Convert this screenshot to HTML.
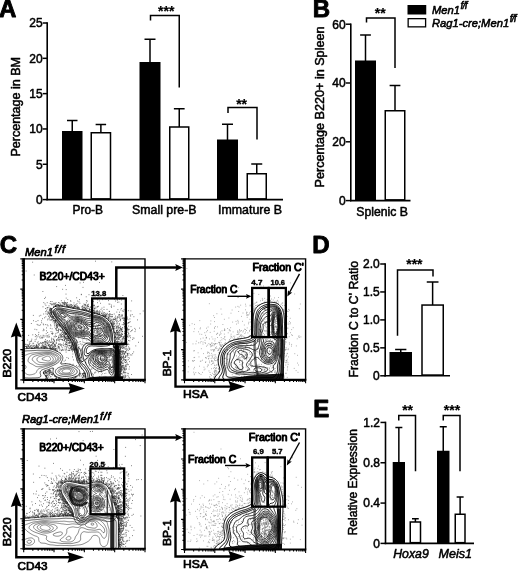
<!DOCTYPE html>
<html><head><meta charset="utf-8"><title>Figure</title>
<style>
html,body{margin:0;padding:0;background:#fff;}
body{width:520px;height:572px;overflow:hidden;}
svg{display:block;}
svg text{font-family:"Liberation Sans", Arial, Helvetica, sans-serif;fill:#000;stroke:#000;stroke-width:0.5px;stroke-linejoin:round;}
</style></head><body>
<svg width="520" height="572" viewBox="0 0 520 572">
<rect width="520" height="572" fill="#fff"/>
<g id="flow">
<clipPath id="clip1"><rect x="23.7" y="258.9" width="121.3" height="121.0"/></clipPath>
<g clip-path="url(#clip1)">
<path d="M92.7 312.2h0M49 316h0M69.9 341.2h0M53 304.6h0M102 308.1h0M121.1 344.4h0M111.5 324.3h0M112 314.6h0M123.2 311.4h0M71 347h0M116.2 339.5h0M125.5 321.7h0M44.7 373.1h0M76.1 305.1h0M114.2 326.3h0M59.9 329.2h0M61.2 335.2h0M52.3 341.8h0M121.3 308.5h0M117.5 332.5h0M131.6 374.5h0M83.5 375.6h0M64.3 336.2h0M83.6 375.9h0M99.2 314.5h0M117.5 350.1h0M91.5 311.4h0M124.6 353.6h0M120.3 363.9h0M95.9 308.1h0M61.1 305.3h0M120.2 337.4h0M70.2 339.9h0M35.4 347.8h0M126.5 350.6h0M66.2 298.1h0M55.6 305.1h0M50.1 348.7h0M86.3 302.8h0M67.8 306.5h0M84.9 375.6h0M52.4 348.2h0M60.7 378.6h0M43.7 372h0M47.2 324.8h0M123.8 324.7h0M68.6 339.2h0M67.5 302.5h0M119.9 345.3h0M114.7 346.4h0M60.5 305.3h0M31.3 323.5h0M44.8 346.5h0M53.5 346.2h0M74.2 307.4h0M89.5 309.9h0M120.9 369.8h0M61 378.7h0M117.9 345.2h0M116.4 330.8h0M85.9 308.4h0M50.8 370.6h0M65.8 333.8h0M119.5 378.5h0M62.3 303h0M46.5 372.9h0M67.1 343h0M120.7 349.2h0M46.8 375.3h0M84.8 307.3h0M54.4 375.9h0M43.1 335.3h0M61.5 336.9h0M45.6 297.3h0M45.2 347.7h0M116.3 330.4h0M123.7 347.5h0M49.8 371h0M117.1 346.5h0M108.2 320h0M130.7 354.9h0M51.2 344.5h0M125.4 360h0M49.3 318.9h0M84.3 376.8h0M79.7 308.4h0M115.7 334.9h0M45.6 342.8h0M46.4 377.6h0M78.7 306.9h0M127.2 349.7h0M65.4 360.2h0M62.7 336.6h0M124.8 333.7h0M59.6 325.3h0M118.1 347.8h0M108.8 317.5h0M102.7 315.1h0M103.6 315.7h0M68.6 337.9h0M72.5 344.6h0M58.9 306h0M125.3 349.2h0M66.2 305.5h0M53.2 318.4h0M58.9 329.5h0M49 312.9h0M88.8 311.5h0M73.8 308.1h0M74.5 306.2h0M52.7 317.3h0M47.4 375.4h0M62.7 347.8h0M119.6 332.8h0M82.9 373.8h0M60.1 336.2h0M125 318.9h0M121.5 373.5h0M112.8 322h0M37.9 347.4h0M64.4 332.1h0M117.7 348.9h0M31.3 341h0M42.2 347.1h0M30.1 346.7h0M88.3 306.4h0M121.5 361.9h0M97.6 302.7h0M73.9 348.7h0M72.6 305.4h0M82.6 373.5h0M46.9 341.2h0M45.1 347.9h0M50.4 372.1h0M110 319.9h0M89.5 309.6h0M74 377.1h0M112.2 325.5h0M29.6 347.1h0M116.3 347.7h0M115.7 340.9h0M50.9 314.2h0M120.9 309.9h0M25.7 344.3h0M79 307.9h0M50.4 313.3h0M119.7 349.8h0M78.5 308.8h0M116.8 312.1h0M36.6 347h0M131 326.6h0M121.1 350.5h0M53.1 343.4h0M57.1 326.3h0M38.2 341.8h0M49.4 373.1h0M61.5 333.2h0M109.3 311.5h0M77.8 362.6h0M68.4 337.7h0M97.2 310.3h0M125.7 325.5h0M85.7 376.6h0M70.5 339.7h0M50.8 342.3h0M34.9 329.3h0M113.8 347.3h0M126.2 338.4h0M58.4 337.6h0M65.1 337.9h0M59.1 377.6h0M68.3 350.4h0M122.2 373.2h0M90.5 311.7h0M111.3 323.5h0M56.5 330.6h0M116.9 344h0M50.9 315.7h0M99.7 314.4h0M121 346.3h0M114.2 330.7h0M120.7 372.6h0M73.2 364.3h0M38 347.5h0M49.1 370h0M121.7 330.5h0M50.4 348.7h0M71.1 342.5h0M101.3 313.1h0M114.4 319.5h0M114.8 342.7h0M28.7 335.4h0M39.2 325.4h0M88.7 310.8h0M109.1 316.5h0M121.5 370.8h0M80.3 374.3h0M118.9 328.4h0M39.3 316h0M33.9 345.3h0M71.7 346.5h0M125.2 357.5h0M119.2 345.9h0M28.1 347h0M58.4 378.1h0M56.7 377.1h0M89.7 309.6h0M122 351.8h0M46.1 346.6h0M126.9 337.8h0M73 349.7h0M125.4 360.4h0M103.7 315.3h0M60.6 329.8h0M122.7 331.7h0M63.8 332.6h0M43.1 345.5h0M90.1 312.2h0M125.9 372.7h0M50.9 308.6h0M47.1 335.6h0M51.4 309.5h0M89 311.7h0M41.5 347.6h0M115.3 325.8h0M74.7 307.8h0M124.5 342.3h0M84.1 376.2h0M27.7 340.1h0M55.5 319.8h0M122 345.3h0M118.2 334.1h0M68.5 306.7h0M113.9 319.7h0M77 359.7h0M117 327.7h0M76.8 360.8h0M120.7 336.2h0M79.4 309.2h0M51.5 348.8h0M56.8 350.4h0M46.8 344h0M45.1 371.8h0M47.5 378.4h0M47.3 314.6h0M43.7 324.8h0M52.1 319.8h0M53.7 342.7h0M88.1 306h0M124.2 343.2h0M47.7 332.5h0M56.9 304.4h0M53 319h0M118.8 336.6h0M116.1 345.8h0M123.4 345.7h0M71.3 346.1h0M49.4 317.4h0M45.5 346.3h0M73.9 304.9h0M51.3 348.7h0M45.8 375.5h0M121.4 359.3h0M125.9 343.1h0M45.1 371.1h0M29.2 347.3h0M43.2 347.2h0M93.5 301.4h0M128.5 340.5h0M58.4 331.4h0M135 331.6h0M93.7 312.3h0M116.5 332h0M62.4 329.6h0M88.9 308.5h0M90 310.7h0M123.8 356.8h0M114.9 328h0M114.6 342h0M83.8 377.6h0M64.2 332.9h0M121.3 333.3h0M121.5 369.7h0M124 339.5h0M29.9 343.4h0M133.9 316.7h0M49.2 370.9h0M129.1 369.1h0M116.5 321.7h0M90.4 311.8h0M86 309.6h0M115.5 346.3h0M73 307.3h0M120.3 348.6h0M68.6 338.5h0M56.6 325.5h0M117.1 318h0M47.3 347.3h0M124.1 359.6h0M45.8 341.9h0M109.8 313.6h0M75.1 305.3h0M127.7 335h0M122.1 354.7h0M56.2 320.6h0M101.4 313.4h0M83.3 375.7h0M64.3 340.8h0M49 344.7h0M52.7 375h0M117.8 323.8h0M115 340.7h0M119.9 320.7h0M105.3 315.9h0M123.3 347h0M117.2 322.7h0M122.8 343.2h0M56.2 342.1h0M60.7 330.4h0M72.3 377.7h0M119.4 343.9h0M26.6 347h0M51 303.5h0M62.9 329.8h0M76.1 306.7h0M118 332.8h0M51.4 308.8h0M94.9 311.9h0M72.2 346.8h0M101.1 315.2h0M58.6 305.1h0M119.7 374.8h0M120.5 319.4h0M119.4 299.4h0M94.1 312.5h0M51 348.5h0M66 333.2h0M113.5 328.3h0M44.3 347.4h0M52.6 368.9h0M124.9 321.6h0M79 301.8h0M92.8 310.7h0M81.6 368.6h0M111.8 323.1h0M35.1 339.8h0M31.3 345.7h0M69.3 342.5h0M31.8 339.2h0M118.6 350.6h0M123 356.9h0M94.5 310.1h0M73.6 359.9h0M47.7 342.4h0M114.6 332.5h0M73.4 347.4h0M73.5 345.8h0M85.6 308.5h0M120.6 364.8h0M35.1 341.5h0M62.5 328.3h0M121.4 367.2h0M120 345.8h0M114.7 331.7h0M68.7 340.7h0M52.5 317.4h0M35.6 346.2h0M55.3 375.9h0M53.3 343.9h0M60.7 335h0M115.6 333.8h0M113.2 324.2h0M62.5 332.2h0M69.6 342.8h0M68.2 342.6h0M114.1 344.1h0M55.6 321.9h0M49 305.8h0M39.5 337h0M65.5 333.7h0M93.1 310.5h0M140.1 313.8h0M26 344.4h0M94.6 312h0M58.5 336.1h0M51 372.5h0M60.5 334.2h0M41.5 320.8h0M120.2 329.8h0M49.3 309.8h0M115.7 337.2h0M120 357.9h0M83.1 375.9h0M41.9 345.8h0M120.7 377.3h0M70.1 339.6h0M124 373.2h0M43.7 314h0M52.8 373h0M117.1 318.9h0M123.1 318h0M46.1 347.6h0M60.9 326.6h0M125.7 369.1h0M57.5 326.7h0M123.8 345.8h0M27.8 344.6h0M122.9 377.4h0M120.4 326.4h0M71.2 305.3h0M119 316.8h0M63.6 338.1h0M70.5 342.4h0M118.9 335h0M124.5 377.8h0M118.9 302.1h0M45.8 316.8h0M114.3 321.6h0M66 346.5h0M121.6 359.4h0M119.9 347.8h0M53 316.6h0M104.9 315.1h0M41.5 347.7h0M122.6 369h0M111.4 307.3h0M92.4 308h0M116.9 344.5h0M61.4 346.8h0M117.9 332.2h0M50.5 315.9h0M122 362h0M79.9 303.3h0M59.7 344.2h0M55.3 335.1h0M116.7 327.7h0M127.5 317.1h0M53.4 373.6h0M32.1 346.8h0M47.6 371.5h0M119.4 330.7h0M128.6 346.9h0M121.6 342.6h0M62 332.2h0M123.4 371.6h0M70.3 307.5h0M118.2 338.2h0M108.8 314.9h0M112.5 316.4h0M70 304.3h0M58.8 344.5h0M64.4 333h0M65.8 338.1h0M126.8 327.1h0M118.7 350.9h0M83.6 375.3h0M73.4 378.4h0M77.7 301h0M31.7 348.1h0M111.5 323.5h0M125.8 348.1h0M65.6 343.7h0M52.1 344.5h0M117.6 337.3h0M92.9 311.2h0M43 306.8h0M48.4 376h0M41.6 347.1h0M50.4 347.7h0M49 313.2h0M92.8 307h0M84.1 373.8h0M81.6 306.9h0M115.1 337.6h0M82.8 308.5h0M45.7 346.8h0M114.9 344.9h0M66.5 348.9h0M38.9 344.8h0M59.7 339.5h0M116.7 346h0M35.6 334.6h0M115.8 332.7h0M52.3 345.6h0M49.5 370.5h0M122.1 357.4h0M67.8 305.4h0M91.3 312h0M64.5 304.6h0M64.5 335.6h0M50 312h0M115.8 345.9h0M128 319.7h0M121.4 335.9h0M94.8 312.8h0M122.5 342.1h0M63.2 345.7h0M58 325.4h0M115.6 316.1h0M59.9 335.2h0M120.6 370h0M67.7 306.5h0M38 320.6h0M101 309.4h0M122 340h0M32.9 343.3h0M124.5 353.9h0M72.1 342.7h0M118.7 346.5h0M82.2 309.8h0M109.6 316.8h0M64.7 334h0M142.5 336.3h0M120.1 316.9h0M52.8 349h0M75.1 377.6h0M113.3 325.6h0M63 329.9h0M84.8 373.8h0M63.1 306.2h0M32.1 345.2h0M45.6 344.6h0M59.7 303h0M121.4 368.6h0M54.7 349.5h0M64.2 340.7h0M117.2 330.5h0M126.4 325.5h0M70.4 339.8h0M119.5 314.7h0M104.2 316.4h0M82.8 377.6h0M69.9 306.7h0M121.3 304h0M79 366h0M67.1 305.5h0M127.6 336.8h0M74.3 378h0M54.5 344.9h0M53.9 339.3h0M120.8 357.9h0M57.1 327.1h0M125 369h0M84.9 373.5h0M117.1 349.3h0M65.8 341.5h0M125.6 346.3h0M124.3 318.6h0M104.1 314.7h0M50.5 312.7h0M53.7 348.7h0M63.5 334.1h0M68.4 306.1h0M65.5 338.4h0M51.4 371.9h0M67.3 338.4h0M43.1 343.9h0M71.6 345.6h0M35.3 336.6h0M105.9 299.3h0M79.7 367h0M64.2 336.6h0M55.6 348.6h0M118.9 344.5h0M97.7 313.3h0M58.5 329.9h0M118.4 327.7h0M62.4 339.5h0M130.7 316.1h0M119.9 318.4h0M125.8 356.8h0M50.4 309.9h0M117.3 349.2h0M72.5 343.4h0M109.4 318.9h0M72.8 344.4h0M77.5 305.9h0M34.9 346.4h0M53.8 320.4h0M96.6 313.4h0M119.2 314.7h0M58.1 339.7h0M70.3 347.6h0M92.5 300.9h0M43 342.4h0M79.8 375.3h0M67.6 336.9h0M125.7 336.7h0M45.4 311.7h0M62.2 305.1h0M66 334.9h0M57.5 330.6h0M66.9 306.8h0M84.9 373.2h0M40.8 342.6h0M47.9 313.7h0M47.7 319.9h0M56 376.5h0M55.8 320.6h0M82.2 309.3h0M125 375h0M126.3 333.9h0M112.7 298h0M63.1 331.4h0M44.7 346.9h0M57.9 338.5h0M124.9 352h0M58.2 332.5h0M111.6 323.4h0M99.8 312.4h0M74 302.9h0M66.7 341.9h0M120.7 375h0M127.9 375.4h0M120.6 376h0M98 311.9h0M71.9 349.7h0M127.5 353.8h0M113.3 327.1h0M48.9 307.6h0M53.6 339.4h0M120.4 347.4h0M66.1 337.2h0M49.4 346.1h0M76.7 297.8h0M126.2 324.9h0M52.3 304h0M57.5 324.4h0M71.2 378.4h0M114 323.9h0M112.3 325.1h0M62.6 302.9h0M64.4 305.2h0M82.3 374.6h0M69.3 340.3h0M126.4 361.4h0M117.4 346.5h0M67.7 336.6h0M54.6 375.8h0M123.9 351.6h0M56.6 339.8h0M64 304.1h0M62.9 349.8h0M77 303.6h0M117.2 320.7h0M76.2 376.4h0M121 367.5h0M125.9 362.5h0M35.9 347.7h0M41.9 338.1h0M54.9 322.3h0M121.4 300h0M67 339.1h0M30.4 345.7h0M117.6 347.1h0M120.4 377h0M56 302.6h0M70.9 301.2h0M68.7 337.2h0M124.9 324h0M110.8 321.3h0M56.5 327.8h0M66.7 347.6h0M45.4 339.6h0M118.9 351.6h0M53.2 348.7h0M97.1 312.2h0M128.9 344.5h0M116.1 344.5h0M51.6 339.4h0M59.3 341h0M60 325.4h0M57.3 304.7h0M119.6 343.4h0M72.4 345.7h0M73.4 308.2h0M66.8 340.7h0M119.6 334h0M126.9 318.6h0M56 376.8h0M129.2 329.4h0M120.5 375.7h0M58.9 304.6h0M71.3 306.6h0M61.3 300.7h0M84 309.9h0M128.2 329.4h0M102.5 299.6h0M123 362.8h0M96.1 312.3h0M58.7 324.5h0M111.7 322.9h0M55.3 306.1h0M57.6 351.4h0M54.4 375.1h0M53.5 342.9h0M50.4 311.9h0M53.6 303.3h0M122.3 377.9h0M139.4 328.1h0M122.5 327.7h0M44.6 348.2h0M122.3 339.9h0M134.8 328.4h0M85.7 377h0M122.2 345.7h0M73.8 306.9h0M128.3 373.7h0M126 352h0M124.3 354.6h0M54.5 320.5h0M62.2 328.3h0M118.6 315h0M119.4 324.8h0M91.6 311.5h0M55.5 328.5h0M59.7 337.8h0M65.9 339.1h0M121.8 363.8h0M69 338.8h0M49.2 372.4h0M69.2 305.5h0M120.3 319.6h0M130.2 321.7h0M97.6 306.9h0M27 345.2h0M46 373.1h0M66.9 357.6h0M114.5 344.1h0M43.6 347.8h0M60.1 343.9h0M61.2 350.7h0M73.2 348.7h0M44.4 346.4h0M97.6 299.8h0M129.8 349h0M36.9 347.2h0M46.3 378.3h0M32.5 348.5h0M123.1 336.5h0M65.4 337.7h0M50.9 308.4h0M50.8 373.9h0M58.5 305h0M125.4 377.2h0M93.9 310.5h0M51.4 333.6h0M116 335.8h0M121 335.7h0M46.2 333.7h0M123.5 337.3h0M51 316.7h0M86.8 306.8h0M45.2 347.6h0M71.6 306.9h0M125.8 356.2h0M129 353.4h0M122.5 365.8h0M49.3 369.6h0M124.2 347.5h0M118.2 321.5h0M109.2 314.6h0M47.2 302.7h0M121.3 328.4h0M110.8 316.6h0M84.5 310.4h0M119.8 335.1h0M116.7 338.4h0M120 337.4h0M67 336.4h0M50.1 320.2h0M56.4 343h0M121.8 356.1h0M67.3 305.4h0M45 341.2h0M69.5 350.5h0M43.6 373.4h0M116.4 331.1h0M88 311.1h0M47.9 371.4h0M113.7 326.5h0M120.1 351.2h0M77.6 308.6h0M122.6 346.5h0M96 307h0M120.2 351.1h0M51.2 312.5h0M98 312.1h0M116.5 341.6h0M119 317.4h0M121.2 369.7h0M92 311.5h0M120.5 371.6h0M97.7 306.7h0M40.4 324.8h0M119.8 352.3h0M120.9 347.1h0M65 334.7h0M46.1 372.1h0M68.8 343.1h0M128.9 333.9h0M125.7 360.3h0M72.6 344.5h0M37.1 345.8h0M133 337.9h0M122.7 354.1h0M115.2 343.3h0M56.7 323.2h0M99 296.5h0M70.6 348.4h0M96.8 310.9h0M74.5 305.5h0M82.9 309.3h0M54.9 323.9h0M117.9 309.6h0M116.5 346h0M74 349.6h0M54.8 327h0M56.2 325.6h0M46.9 373.2h0M93.1 305.5h0M65 306.6h0M116.5 347.2h0M113.1 328.3h0M118.2 335.1h0M46.1 375.3h0M78.6 307.6h0M50.3 315.8h0M49.5 340.7h0M98.4 306.3h0M123 358.6h0M82.6 309h0M122 341.5h0M114.7 347.8h0M124.2 368.8h0M115.3 347.6h0M121.9 366.4h0M60.9 304.9h0M124.7 370h0M68.8 337.1h0M50.1 309.8h0M33 348.3h0M46.3 372.7h0M105.2 315.1h0M56.7 328.1h0M106.5 314.7h0M108.6 318.5h0M52.5 316.8h0M117 346h0M84.4 304.9h0M143.2 311h0M107 318h0M123.4 372.5h0M51 312h0M128.3 376.9h0M117.4 330.8h0M72.6 346.7h0M123.3 371h0M45 303.9h0M83.7 309.5h0M40.7 343.2h0M90.5 307h0M50.6 324.8h0M114.6 299.3h0M122.8 337.1h0M45.4 375.6h0M48 312.6h0M121.4 347.1h0M63.3 333.3h0M129.6 322.3h0M74.1 348.7h0M123 369.7h0M60.2 353h0M55.6 320.5h0M67.2 346.3h0M105.9 317.8h0M120.6 327.9h0M49 370.7h0M54.8 344.3h0M72.6 350.1h0M44.9 345.9h0M48.3 345.6h0M49.7 375.4h0M53.3 318.6h0M36.2 347.4h0M122.1 329.5h0M119.2 349.6h0M117.4 334.9h0M44 337h0M108.5 300.6h0M50.4 345.5h0M77.1 306.9h0M58.5 302.5h0M63.8 350.2h0M42.8 337.1h0M36.4 335.6h0M120.6 361.7h0M126.8 345.5h0M121.9 331.6h0M55.9 349.4h0M45.1 343.6h0M83.4 376.2h0M51.3 313.4h0M67.6 340.9h0M28.7 348.3h0M51.3 348.5h0M57.2 305.8h0M116.5 326.9h0M39 348.1h0M121.7 347.7h0M45.8 347.1h0M119.6 312.2h0M79.9 376.7h0M114.8 328.8h0M64.9 338.6h0M104 307.2h0M124.2 340.6h0M64 336.2h0M107.7 318.4h0M129.4 366.8h0M124.1 369h0M48.7 345.9h0M113.8 328.5h0M69.3 345.6h0M72.6 348.4h0M43.6 372.3h0M72.2 342.6h0M131.8 355h0M31.3 341h0M71.6 346.7h0M118.8 339h0M118.8 327.7h0M79.6 373.9h0M58.9 326.1h0M65.5 333.8h0M115.7 347.6h0M48 325.8h0M117.5 329.1h0M123.6 367.9h0M88.4 304.3h0M44.2 373.7h0M120.3 330h0M125 317.7h0M94.9 308.7h0M118.9 352.4h0M114 324h0M122.9 352.9h0M122.8 360.4h0M59.8 334.1h0M66.2 333.6h0M57.9 304.4h0M127.6 328h0M124.4 369.2h0M125.1 318.3h0M87.4 308.7h0M39.3 343.6h0M82.8 307h0M76.5 307.5h0M108 315h0M120.5 357.3h0M120.8 343h0M122.4 334.5h0M103.1 315.6h0M43.5 329.2h0M117.9 333.9h0M112 323.2h0M87.3 301.1h0M73 307.3h0M60.3 345.5h0M121.3 374h0M119.6 352.4h0M119.4 337.4h0M66.8 338.3h0M50.5 310.1h0M124.9 362.1h0M122.1 318.6h0M49 371.2h0M115.9 344.1h0M43.2 324h0M126.4 343.2h0M36.4 345h0M115.8 318.4h0M56 329.7h0M55.8 346.2h0M117.5 339.9h0M120.2 355.1h0M92.3 305.7h0M125.4 339h0M53.1 348.3h0M123.8 320.1h0M126 315.4h0M103.8 313.9h0M46.6 376.5h0M54.1 304h0M43.8 342.7h0M85.1 377.1h0M49.5 348.1h0M54.1 336.7h0M120.8 353.9h0M116.1 339.3h0M82.2 377.7h0M103.6 313h0M125.4 352.5h0M61.6 345.2h0M47.5 377.9h0M123.9 358.6h0M123.9 324.7h0M119.4 344.5h0M132.5 330h0M64.9 302.9h0M102.6 315.4h0M50.4 308.2h0M125.8 333.1h0M123.8 342.3h0M50.7 301.5h0M120.5 374.1h0M30.3 341.6h0M121 336.9h0M119 346.2h0M120.6 348.6h0M60.9 326.6h0M51.4 314.5h0M116.9 333.1h0M55.7 376.3h0M108.7 317.5h0M29.3 342h0M124.7 345.9h0M51.1 314.7h0M119.1 353.8h0M117.7 348.4h0M86.2 296.8h0M69.2 338.7h0M58 340.3h0M43.6 346.3h0M117.7 338.7h0M126 353.2h0M125.6 335.4h0M117.7 345.9h0M57.2 332.8h0M42.9 347.9h0M70.6 345.4h0M120.1 368.4h0M127.2 330.8h0M115.9 319.4h0M121.3 368h0M125 326.6h0M121.9 370.4h0M127 362.9h0M120.7 331.9h0M58.7 348h0M114.9 343.6h0M55.4 320.6h0M66.9 340.4h0M128.2 350.6h0M119.9 315.1h0M44.6 348h0M85.1 304.8h0M57.8 345.9h0M112.1 314.5h0M45.9 375h0M105.7 316.2h0M44.5 317.8h0M119.9 343.8h0M120 335.5h0M98.5 313.9h0M69.6 342h0M121.9 351.6h0M66 294.1h0M128.2 330h0M49.9 314.7h0M51.4 317.4h0M128 332.1h0M115.6 343.6h0M116.6 323.9h0M105.7 316.2h0M121.8 362.2h0M124.1 366.2h0M114 322.8h0M51 331.6h0M44.1 330h0M42.3 344.6h0M65.4 350.1h0M122.4 331.3h0M127.4 353.8h0M63.3 330.4h0M108.4 320.3h0M55 322.2h0M90.2 312.1h0M113.1 326.3h0M68.5 306.6h0M117.5 299.9h0M122.4 353.3h0M77.2 376.6h0M50 346.4h0M61.1 330.3h0M72.8 308.2h0M126.5 348.9h0M119.4 349.9h0M124.6 372.1h0M72.4 344.2h0M69.5 345.8h0M116.4 332.1h0M92.2 303.6h0M78.1 366.6h0M45.8 372.1h0M52.8 373.3h0M126.2 364.8h0M67.9 338.1h0M66.4 344.5h0M52.5 334h0M121.9 333.4h0M123.5 365.7h0M51.7 345.4h0M105.2 313.5h0M103.6 316.2h0M72 344.5h0M71.9 348.7h0M125.1 323.6h0M54.1 341.7h0M67.7 304.1h0M119.6 344.8h0M45.5 341.8h0M65.2 344.9h0M50.5 370.4h0M57.1 324.9h0M113.6 344.8h0M118.9 329.9h0M114 323.5h0M71.2 346.4h0M117.3 316.7h0M52 317.9h0M51.4 374.5h0M28.8 346.4h0M49.2 344.3h0M85.2 374h0M49.6 313.3h0M55.6 303.5h0M59.3 378h0M120.6 320.7h0M120.4 357.2h0M55.2 344.4h0M47.1 307.7h0M84.2 308.3h0M46.6 330.8h0M121.4 378h0M115.5 320.1h0M53 321.9h0M126.8 365h0M119 332.5h0M30 347.6h0M65.3 332.9h0M56.9 339.6h0M114.4 319.1h0M46.2 347.8h0M119.6 330.6h0M66.8 338.9h0M51.4 340.9h0M59.7 350.2h0M117.9 326h0M123 348.4h0M96.6 311.6h0M70.4 300.8h0M94.7 313.4h0M31.3 348.3h0M83.3 374.2h0M37.8 346.9h0M119.2 353.8h0M123.5 377.1h0M88.8 311.7h0M42.9 345.5h0M69.6 306.3h0M68.1 350.3h0M75.7 377.8h0M56.4 329.2h0M29.2 344.7h0M60.9 339.5h0M64.9 346.8h0M93.8 305.2h0M91.2 309.4h0M49.3 372.1h0M47.8 371.6h0M45.9 372.7h0M65.4 334.1h0M130.4 337.7h0M120.4 349.4h0M59.5 348h0M122.5 351.8h0M42.4 346.8h0M63 340.6h0M46.1 376.2h0M100 311.6h0M66.9 306h0M64.9 336.5h0M56.8 325.2h0M119.5 353.4h0M120.3 351.8h0M51.1 345.7h0M38.3 346.2h0M61.9 344.5h0M119.9 345.8h0M115.5 333h0M114.7 337.7h0M116.3 347.9h0M113.2 327.9h0M126.5 346.7h0M66.3 339.9h0M125.4 331.1h0M64.7 332.2h0M68.1 307h0M89.7 310.6h0M112.2 316.9h0M113.9 347.2h0M125.2 375.7h0M120.2 357.6h0M120.6 359.6h0M48.3 345.3h0M65.6 334.6h0M123.9 323.3h0M46.7 310.7h0M50.6 347.3h0M119.6 350.4h0M56.8 377.6h0M53.7 374.7h0M131.5 330.6h0M47.4 307.6h0M125.1 357.5h0M114.9 343.4h0M50.9 325.8h0M117.7 350.8h0M119.3 335.2h0M70.6 340.4h0M45.9 336h0M124.8 342.8h0M49.3 374.2h0M57.6 351.1h0M72 344.1h0M116.5 338h0M115.4 336.9h0M66.6 304.4h0M39.5 345.1h0M115.9 333.4h0M45.7 370.8h0M95 311.2h0M117.1 346.3h0M117.4 326.8h0M126.9 360h0M49.3 373.3h0M128.8 355h0M41.6 347.6h0M50.5 310.4h0M58.1 347.5h0M124.1 309.7h0M113.3 324.5h0M51.3 372.7h0M123.6 337.7h0M75.8 306.6h0M119.6 375.1h0M129.5 377.9h0M72.5 377.6h0M114.7 332.5h0M56.1 305.9h0M42.4 342.9h0M68.4 336.6h0M121.5 362.3h0M37.3 342.8h0M38.9 348h0M80.9 373.5h0M125.7 356.8h0M126.5 335.8h0M40.8 335.9h0M85.3 376.2h0M65 337.8h0M127.7 344.3h0M70.1 339.7h0M120.4 360.4h0M57.3 349h0M28.7 345.9h0M48.5 372h0M122.7 345.2h0M62.2 340h0M117.6 350.1h0M53.8 318.7h0M123.4 359.9h0M38.1 336h0M123.3 363.8h0M55.6 346.6h0M115.1 345.2h0M75 306.6h0M123.4 318.1h0M55.8 348.4h0M75.3 306.6h0M56.6 378.6h0M69 348.5h0M66.4 342.6h0M122.8 327.9h0M122.2 348h0M38.8 332.4h0M112.7 326.5h0M50.9 316.6h0M70.6 347.7h0M67 306.6h0M26.4 346.8h0M56.1 377.8h0M49.6 310.7h0M83.6 373.5h0M127.1 342.1h0M64.5 331.8h0M120.4 373.1h0M97.4 313.5h0M86 309.6h0M128.7 326.1h0M86.9 307.6h0M112.7 323.6h0M46.4 342.3h0M66.5 338.3h0M47.4 348.3h0M107.2 313.9h0M49 344.8h0M128.3 364.6h0M117.2 341.4h0M66.6 349.9h0M117.2 299.9h0M114.8 344.3h0M116.3 328.7h0M71.4 347.9h0M69.8 350.1h0M124.4 353.1h0M126 341.5h0M56.9 304.5h0M47.1 371.2h0M110.8 318.8h0M78.9 307.8h0M54.7 344.9h0M85.2 308.8h0M122.3 350.6h0M116.6 343.4h0M55.4 378.5h0M109.3 311.3h0M50.9 348.9h0M34.4 347.5h0M64.6 303.8h0M124.3 323.7h0M55.5 306.2h0M67.4 335.5h0M125.9 334.7h0M36.3 344.8h0M95 312.3h0M124.6 338.5h0M88.7 310.4h0M51.9 304.9h0M119.4 327.6h0M86.7 310.1h0M120.1 359h0M110.3 320.3h0M76.6 376.8h0M78.9 375.6h0M54.3 341.1h0M48.7 316.3h0M79.6 373.1h0M36.3 346.1h0M79.1 375.7h0M122.1 315.4h0M127.2 356h0M53 349h0M91.7 309.7h0M117.6 332.6h0M86 309h0M108.6 317.1h0M121.6 366.8h0M77.9 308.9h0M68.8 307.2h0M113.2 319.1h0M117 342.2h0M106 314.7h0M56.4 336.5h0M117.9 333.8h0M129.8 336.2h0M104.6 316.9h0M114.2 347.3h0M124.9 369.2h0M56.3 326.4h0M58.7 330.5h0M125.3 365.8h0M125.1 337.4h0M54 346.5h0M60.1 378.5h0M64.8 339.6h0M49.2 348.2h0M121.3 357.2h0M120.4 355h0M83.9 304h0M122.5 334.3h0M125.6 309.6h0M46.4 345.7h0M114 306.2h0M115.3 342.3h0M51.9 347.8h0M102.9 314.7h0M56.3 348.3h0M64.6 302.5h0M115.8 348.5h0M44.4 342.1h0M59.6 306h0M124 320.4h0M120.9 366.3h0M33.4 320.7h0M60.2 337.9h0M119.8 353h0M128.3 310.7h0M120.8 328.9h0M123.7 353.6h0M121.6 366.4h0M27.3 348.4h0M121.4 345h0M120.3 351.2h0M117.4 341.3h0M113.5 345.9h0M36.3 347h0M76 308.7h0M115.3 337.3h0M97.1 313.6h0M82 309.2h0M55.3 349.9h0M119 339.6h0M100.4 303.3h0M92 307.1h0M59.9 325.4h0M82.6 377.3h0M41 348h0M120.4 374.2h0M129.5 358.1h0M71.6 349.4h0M123 366h0M118.3 348.8h0M115.5 341.4h0M66.1 302.9h0M83.6 307.7h0M117.1 337.4h0M83.1 305.9h0M75.8 377.6h0M121.9 360.9h0M82.5 306h0M105.2 316.3h0M109 304h0M85 375.6h0M119.2 351.5h0M65.3 363.6h0M130 335.6h0M54.6 321.9h0M123.1 338.5h0M118.9 339.5h0M51.2 304.5h0M99.7 310.8h0M71.1 350h0M77.7 307.5h0M51.8 342.4h0M113.3 320h0M127.9 329.8h0M121.9 377.5h0M46.4 348h0M116.3 346.5h0M121.2 352.2h0M72.6 356.9h0M113.5 346.1h0M70.5 341.1h0M77.7 307.1h0M119.8 351.4h0M44.4 348.2h0M33.3 315.4h0M56.3 350.9h0M124.9 333.3h0M87.6 310.5h0M132.7 339.5h0M64.5 301.1h0M62.7 289.3h0M120.5 363.1h0M120.4 348h0M56.2 305.9h0M46.1 376.3h0M82.5 306.9h0M65.1 334.3h0M114.3 346.7h0M54.2 323.8h0M51.6 316.9h0M125.4 372.7h0M93.7 312.9h0M58.7 324h0M118.8 341.4h0M123.4 356.3h0M67.9 337.2h0M124.2 319.3h0M127.2 355.5h0M53.2 347.3h0M97.9 314h0M73.3 307.4h0M106.6 318.6h0M67.2 335h0M67.6 339.9h0M99 312.1h0M79.4 299.6h0M31.4 347.6h0M95.6 295.9h0M50.4 348.3h0M124.7 336.1h0M120.3 373.3h0M48.5 342h0M86.2 310.6h0M125.3 365.2h0M34.5 348.1h0M99.4 314h0M55.5 350.1h0M120.2 365h0M49.8 309.1h0M71.2 342.6h0M127.7 344.3h0M114.1 332.1h0M121.1 368.3h0M71.5 304.5h0M118.6 335.2h0M76.6 365.5h0M64.1 361.1h0M92.4 309.1h0M113.3 319.1h0M128.5 322.7h0M122.8 310.8h0M98.9 314.1h0M126.8 324.9h0M69.5 338.6h0M122.1 338.9h0M120.6 353.7h0M124 378h0M74 349.1h0M117.6 342.2h0M54.2 304.8h0M67.2 345.5h0M66.4 304.8h0M69.8 348.8h0M125.8 359.7h0M55.4 322.2h0M112.6 326.1h0M128.1 335.1h0M52 373.1h0M121 341.6h0M72.7 307.3h0M122.9 352.3h0M54.3 347.7h0M45 371.2h0M65.9 342.8h0M121.5 371.3h0M120.6 369.9h0M63.3 335.6h0M58.4 378.7h0M41.8 337.4h0M40.6 347.2h0M46.9 378.2h0M68.2 347.3h0M50.7 315.5h0M37.1 324.4h0M51.8 374.5h0M70.2 306.7h0M128.4 322.8h0M52.1 378.6h0M46.4 327.9h0M68.5 338.3h0M61.6 335.2h0M47.3 374.2h0M114.4 326.7h0M34.3 347.7h0M123.6 322.5h0M121.3 343.8h0M48.1 318.9h0M64.1 336h0M60.6 336.8h0M115.9 332.9h0M116.4 348.8h0M83.8 372.9h0M91.2 311h0M127.8 329.1h0M54.6 348.6h0M120.6 378.2h0M68 304.5h0M137.5 319.9h0M53 333.4h0M36.9 345.5h0M62.5 331.2h0M25.7 346.3h0M56.6 378.7h0M52.6 346.9h0M55.1 305h0M120.9 353.2h0M110.9 320.5h0M124.2 361.2h0M117.1 348.9h0M71.6 343.4h0M66.4 344.4h0M120.3 352.1h0M124.8 367.5h0M125.9 322.7h0M119.8 335.1h0M125 342.2h0M53.5 320.5h0M49.8 314.6h0M82.6 374.1h0M64.6 339.6h0M122.2 314.9h0M67.3 344.2h0M120.6 371.3h0M117.5 346.6h0M49.8 341.9h0M120.8 346.1h0M84.6 374h0M68.5 378.5h0M65.1 303.2h0M73.5 308.1h0M119.2 345.5h0M121.3 358.9h0M72.8 345.3h0M52.4 333.8h0M128.3 359.6h0M58.6 344h0M61.3 339.4h0M64.8 337.1h0M86.6 310.4h0M84.5 310h0M112.5 322h0M67.7 338.9h0M36.8 329.7h0M74.4 306.4h0M121.6 377h0M44 373h0M81.3 294.7h0M62.7 306.2h0M45.7 324.6h0M52.2 318.9h0M120.3 369h0M118.7 341.8h0M52.7 347.4h0M51.1 319.7h0M45.4 308.5h0M52.1 349.2h0M122.2 324.6h0M73.7 349.6h0M127.4 336.4h0M48.7 374h0M128 343.7h0M74.8 352.4h0M134 338.2h0M62.6 305.4h0M68.3 336.7h0M62.8 339.9h0M62.1 302.5h0M50.3 328.3h0M114.6 342h0M119.7 351.1h0M47.4 343.6h0M28.7 346.3h0M64.6 340.1h0M106.3 315.1h0M122.6 357.4h0M60.1 327h0M122.2 316.1h0M125.5 366.7h0M108.8 318.1h0M128 332.4h0M27.5 346.2h0M87.5 305.5h0M26.9 347.8h0M104.7 312.5h0M36.6 345.4h0M120.3 334.4h0M121.8 369.6h0M124.2 359.6h0M117 342.6h0M116.4 326.2h0M94.7 313.1h0M116.5 334.7h0M123 376.8h0M125.8 330.1h0M126.8 323.4h0M124.8 331.6h0M118.1 326h0M113.1 329.4h0M129.7 348.1h0M120.5 340.2h0M47.3 340.6h0M119.2 338.6h0M104.8 316h0M120.5 364.9h0M40.2 338.1h0M54.9 345.7h0M54.4 303.3h0M57.1 325.3h0M111.1 316.9h0M81.5 375.9h0M80.6 373.3h0M45 344.6h0M50.4 371.7h0M26.6 348.3h0M121.2 329.8h0M127.6 328.9h0M65 336.8h0M122.4 367.4h0M121.5 351.7h0M61.1 330.3h0M59.1 325.4h0M42.9 342.7h0M50.4 376.8h0M125.7 351.6h0M72 348.6h0M119.7 353.4h0M58.7 346.5h0M48.9 337.2h0M122.7 363.5h0M126.1 331.9h0M110.2 314.8h0M56.4 340.6h0M58.2 328.7h0M74.3 350.1h0M89.7 308.8h0M56.2 324.2h0M127.8 353.4h0M43.8 372.9h0M57.6 327.5h0M48.8 377.3h0M128.7 337h0M53.2 316.8h0M123.8 357.8h0M46 313.8h0M117 330.7h0M114.4 332.4h0M73 349.5h0M123.3 350.8h0M118.6 348.7h0M124.2 348.7h0M118.9 331.8h0M31.8 348.5h0M102.8 312.1h0M32.4 347.2h0M124.2 372.5h0M58.7 346.4h0M54.7 320.3h0M112 319.8h0M51 376.6h0M91.8 301.9h0M62.2 350.1h0M46.9 375.8h0M42.5 318.7h0M46.3 376.7h0M55.4 321.6h0M61.7 327.5h0M70 341h0M38.3 343.8h0M48.9 334.9h0M60 349.2h0M58.4 337.6h0M120.4 328.5h0M121.4 362.6h0M102.2 313.6h0M130.3 315h0M70.1 305.1h0M123.9 368.3h0M129.8 340.8h0M118.5 338h0M53.2 317.1h0M38 325h0M124.8 320.8h0M36 321.5h0M55.1 376.4h0M73.5 347.9h0M119.9 371.6h0M29.3 344.1h0M127.5 364.2h0M111.2 316.4h0M53.8 349.3h0M116.1 334.7h0M58.7 377.8h0M85.3 310.2h0M92.7 311h0M126.6 368.2h0M124.6 326.4h0M66.6 334.3h0M63.5 343.1h0M88.3 306.7h0M94.4 305.3h0M129.4 361.6h0M73.8 350.5h0M120.7 345.7h0M116.1 344.4h0M65 349h0M60.4 304.1h0M123.3 351.8h0M61 330.5h0M85.1 307.2h0M121.4 336.5h0M56.2 343.3h0M52.7 343.7h0M85.3 305.6h0M73.8 347.4h0M114.6 346.2h0M41.5 343.4h0M121.5 356.4h0M54 340.5h0M65.9 333.6h0M32.8 334.8h0M38.1 346.6h0M47 372.2h0M70.3 305h0M115.8 342.4h0M55.4 305.6h0M90.1 307.3h0M52.1 301.6h0M48.1 345.2h0M64.2 304.1h0M43.5 346.6h0M74.5 351.5h0M104 309.5h0M86.1 305.3h0M127.4 344.4h0M51.1 316.6h0M117 341.4h0M50 308.8h0M75.3 377h0M125 327.5h0M118 336h0M45.4 373.2h0M71.8 347.7h0M122.7 318.1h0M58.9 340h0M56.9 377.9h0M123.8 367.7h0M126.4 345.9h0M123.7 375.8h0M30.6 346.9h0M50.2 372.4h0M102.2 310.9h0M115.3 338h0M83.4 309.8h0M115.2 340h0M94.2 305.9h0M109.4 315.4h0M97.5 311.2h0M118.7 326.1h0M47.2 373.1h0M50.2 342.4h0M49.2 313.8h0M117.9 337.4h0M41.7 322.7h0M76 304.7h0M71.8 307.1h0M66.6 334.1h0M55.1 336.9h0M44 335.7h0M115 340.6h0M121.2 316.8h0M115.5 333.8h0M117.6 334.1h0M45.9 305.3h0M52.3 332.1h0M59.4 378.4h0M48.8 370.8h0M65.5 304.1h0M132.2 314.6h0M66.9 336.4h0M84.3 310.4h0M57.2 323.9h0M107 309.4h0M86.8 310.6h0M71.7 344.9h0M42.7 337.9h0M51.2 320.1h0M120.6 362.1h0M95.9 312.5h0M32 348.3h0M49.3 336.7h0M122.6 331.5h0M120.1 347.2h0M126.2 366.5h0M123.6 355.2h0M127.5 354.4h0M90.7 309.6h0M123.5 356.9h0M52.9 343.2h0M84.3 307.3h0M121.9 357.4h0M112 320.9h0M51.2 308.6h0M59 347.9h0M47.9 343.4h0M113.5 328.2h0M59 346.8h0M111.6 305.1h0M115.6 318.8h0M121.3 342.9h0M127.2 318.8h0M68.6 340.5h0M111.7 319.9h0M111.2 306.6h0M129.9 318.9h0M112.6 324.7h0M26.8 347.3h0M47.1 378.1h0M64.2 337.4h0M86.5 300.7h0M25.6 346.5h0M128 348.8h0M59.3 305.8h0M130.9 310.9h0M117.7 317.3h0M61.5 350.3h0M55.9 305.6h0M34 348h0M26.5 346.6h0M124.1 336.2h0M86.9 310.6h0M122.9 295.5h0M124.8 318.2h0M45.7 372.3h0M108.7 320h0M54.5 340.9h0M71.8 306.1h0M126.8 339.4h0M121.4 334.4h0M113 321.7h0M107.1 313.3h0M59 305.6h0M63.4 302.6h0M130.8 331.6h0M51.6 338.2h0M48.9 311.4h0M87.7 304.7h0M122.8 365.7h0M72.5 351.7h0M55 321.3h0M121.6 329.6h0M77.6 307.5h0M38.3 344.7h0M53 338.9h0M99.3 313.3h0M60.7 344.3h0M53.6 320.9h0M121.4 354.7h0M65.1 344.5h0M94.3 312.4h0M56 336.3h0M124.1 376.6h0M62.2 349.7h0M107 316.4h0M70.1 343.3h0M62 337.6h0M135.4 329.8h0M110.3 321.4h0M121.6 358.5h0M63.4 345.1h0M81.1 309.7h0M69.1 343.5h0M55.5 345.4h0M50 310.4h0M66.5 303.4h0M120.9 363.6h0M72.2 350h0M104.8 314.8h0M91.7 310.8h0M47.1 337.1h0M27.2 347.3h0M63.5 303.6h0M49.4 373.1h0M112.6 326.5h0M121.6 329.2h0M62.4 334.5h0M127.8 323.1h0M105.7 316.2h0M43.8 302.6h0M133.7 351.9h0M66.1 352.1h0M125.8 355.4h0M85.1 309.6h0M114.8 323.8h0M66.1 333.4h0M91.8 311h0M121.8 315.1h0M112.2 324.4h0M120.5 356.8h0M72.4 344.8h0M123.7 351.4h0M74.1 378.7h0M121.1 367.1h0M59 305.4h0M108.8 297.9h0M49.7 347.2h0M122.9 338.5h0M118.3 331.7h0M68.4 340.4h0M36.3 339h0M125.1 370.8h0M115.7 336.2h0M42.9 291.5h0M54.3 346.1h0M36.9 347.1h0M127.8 373.3h0M124.4 342h0M55.1 349.6h0M122.3 348.2h0M71.9 347.2h0M56.2 323.9h0M129.5 349.3h0M113.7 322.8h0M33.7 343.3h0M47.9 336.1h0M83.5 282.3h0M38.7 334.4h0M52.6 374.6h0M37 337h0M121.5 368.1h0M66.3 305.4h0M75.6 376.6h0M87.7 306.4h0M61.9 336.6h0M125.9 326.6h0M65.7 302.5h0M61.5 305.6h0M113.9 329.5h0M52.1 328.8h0M52.1 374.3h0M48.8 371h0M59.8 326h0M126 376h0M49.7 346.3h0M121.2 335.2h0M121.5 365.2h0M75.6 307.2h0M68.9 345.4h0M113.2 328.5h0M116.2 320.8h0M122.7 366.9h0M66.1 344.4h0M125.1 322.6h0M128.5 333.6h0M115 317.4h0M121.2 358.3h0M63.8 332.8h0M119.6 323.6h0M37.7 347.9h0M33.5 346.4h0M43.1 330.7h0M99.5 313.7h0M118.9 350.2h0M50.9 346.4h0M122 365.4h0M125.5 362.6h0M37 347.1h0M119.1 341.9h0M55.9 333.4h0M126.7 336.2h0M65.2 333.2h0M110.1 314.1h0M120.3 364.5h0M125.5 351.6h0M125 328.4h0M48.7 374.2h0M114.3 347.7h0M34.1 345.5h0M85.2 304.8h0M105.3 315.5h0M28.3 345.4h0M52.2 319.7h0M72.2 365.1h0M71.2 347h0M55.7 349.1h0M43.2 348.1h0M117.8 342.9h0M83.8 309.5h0M61.9 328.4h0M126.6 369.3h0M115.2 336.5h0M94.5 308.1h0M119.2 347h0M109.9 304.2h0M61.4 335.9h0M56 322.2h0M33.8 348.3h0M94.3 308.6h0M48.4 312.9h0M64.2 336.7h0M120.8 372.1h0M106 316.4h0M50.7 308.9h0M120 351.6h0M85.1 304.4h0M46.9 376.2h0M125.6 376.9h0M45.6 372.1h0M54.6 325.3h0M46.1 376.7h0M115.1 343h0M53.5 306.3h0M122.5 374.9h0M83.6 373.1h0M79.5 374.7h0M62.8 334.5h0M86.6 310.3h0M34.2 275h0M65.4 285.4h0M44.7 298.5h0M63.1 305.3h0M84.5 309.6h0M99.5 282.5h0M68.5 358.3h0M61.7 362.7h0M117.9 268.8h0M47.1 309.1h0M111.8 261.9h0M114.2 314h0M40.8 315.3h0M26.1 271h0M50.1 303.4h0M69.2 345.3h0M44.9 341.5h0M66.2 289.6h0M99.3 300.9h0M47.1 311.7h0M132.7 353.6h0M81.3 294.3h0M83 287.4h0M72.9 354h0M115.6 301h0M128.2 357.6h0M70 306.9h0M73 274.8h0M95.6 261.2h0M117.1 347.6h0M117.4 302.3h0M135.8 345.9h0M70 363.9h0M80.1 282.9h0M32.7 262.2h0M56.7 286.6h0M67.8 299.6h0M89 294.7h0M36.1 347.3h0M80.2 273.9h0M131.7 300.9h0M138.5 342.3h0M115.5 278.8h0" fill="none" stroke="#333" stroke-width="0.75" stroke-linecap="round"/>
<path d="M99.4 368h0M85 334.2h0M103.9 369.5h0M76 327.8h0M91.9 369.1h0M75.8 332.3h0M99.1 323.4h0M100.7 330.7h0M72.6 318.1h0M73.4 329.4h0M98.1 363h0M85.9 362.3h0M95.5 359.6h0M78.6 314.9h0M75.8 315.9h0M106.9 360.9h0M90.1 322.1h0M93.9 362.9h0M81.2 336.1h0M74.2 324.5h0M83.2 324.6h0M97 331.6h0M108.9 359.5h0M81.3 350.3h0M66.1 323.8h0M75.2 322.1h0M93.3 374.4h0M100.1 324.7h0M108.6 336.3h0M95.3 361.7h0M96.2 359.6h0M100.9 366.6h0M92.8 334.4h0M86.2 328h0M97.6 361.3h0M76.4 327.6h0M95.4 356h0M100.2 322.4h0M83.1 331.1h0M79.7 327.8h0M71.5 329.1h0M82.3 332.2h0M101 329.4h0M114.4 369.7h0M110.4 360.5h0M111.7 358.5h0M102.9 323.7h0M102.6 328.4h0M67.8 315.4h0M96.9 357.3h0M82.6 337.2h0M100.3 358.8h0M56.8 314h0M105.4 363.9h0M76 332.6h0M104.4 335.6h0M96.3 324.7h0M94.4 330.3h0M98.6 365h0M90.5 330.5h0M108.7 378.1h0M97.6 331.5h0M75.8 333h0M100.5 357.9h0M78.8 337.1h0M85.7 362.9h0M112.7 366.2h0M97.8 336.8h0M73.7 332.6h0M84.5 315.4h0M98.1 329.6h0M100.2 356.6h0M76.2 329.5h0M81.4 332h0M80.1 344.3h0M105.7 365.8h0M109.3 359.3h0M77.6 349.3h0M81.7 329.8h0M100.6 335.9h0M86.9 327.9h0M85.5 319.4h0M98.1 354.3h0M84 330.6h0M80.8 332.2h0M80.5 330.2h0M81.5 329.3h0M100.9 321.3h0M83.3 332.2h0M98.9 378.1h0M97.2 357.1h0M103.4 339.9h0M72.5 324.7h0M100.4 319.2h0M95.7 335.1h0M78.8 338.8h0M114.4 360.6h0M102.4 360h0M67.7 325.3h0M90.9 341.4h0M110.7 356h0M98.1 331.1h0M82.7 341.9h0M64.7 317.9h0M105.1 338h0M67.4 314.6h0M79.6 329.6h0M91.2 329.5h0M82 329.1h0M112.1 360.4h0M106.8 357.2h0M103.1 341.9h0M91.5 360.7h0M93.2 374.8h0M115.1 355.6h0M95.7 333.2h0M104.8 332.3h0M101.4 371.1h0M98.8 331.5h0M94.6 331.9h0M94.6 323.4h0M97.3 327.5h0M70.2 317.8h0M96.8 329.4h0M85.6 324.9h0M87.3 325h0M99.5 336.4h0M81.5 323.8h0M98.9 336.2h0M72.2 327h0M114.6 366.9h0M59.8 313h0M93.6 376.7h0M98.4 358.7h0M100.5 329.7h0M88.9 328.7h0M102.4 363.5h0M79.1 323h0M96.6 329.7h0M106.5 327.6h0M95.3 327.2h0M100.9 362.4h0M102 341.6h0M91.9 373.9h0M69.2 318.9h0M98.7 324.7h0M90.2 343h0M96.2 355.1h0M80 327h0M99.7 359.2h0M93.9 332.2h0M86.4 324.7h0M101.7 367.6h0M75.3 321.4h0M97.2 363.6h0M104.7 373.5h0M87.2 334.8h0M82.8 339.9h0M76.8 317.6h0M95.9 364.4h0M79.1 319.8h0M88.8 331.6h0M106.1 376.8h0M74.1 322.2h0M64.3 315.5h0M110 355.1h0M91.3 330.6h0M80.4 358.7h0M97.5 335h0M92.4 331.6h0M78.9 328.1h0M85 335.8h0M100.6 342.8h0M106.7 337.3h0M112.8 362.1h0M82.2 359.5h0M89.4 325.8h0M92.6 326.7h0M104.3 328.8h0M101.6 362.5h0M99.4 376.5h0M70.6 321.9h0M94.5 331.1h0M107.5 337.6h0M94.5 372.4h0M99.9 330.6h0M98.4 356h0M103.7 360.4h0M98 328.2h0M79.8 355.6h0M82.6 344.3h0M105.8 332.4h0M84.1 323.4h0M87.2 327.9h0M97.3 333h0M98.8 329.4h0M61.2 312.2h0M100.4 335.6h0M65.6 324.6h0M97.6 335.8h0M88.2 358.8h0M93 336.9h0M84.4 330.5h0M71.4 326.7h0M59.3 316.3h0M93.9 325h0M74.9 326.8h0M99.3 334.8h0M95 320.4h0M73.5 326.3h0M86.9 324.7h0M95.5 359h0M100.2 367.5h0M73.8 335.8h0M113.8 367.7h0M104.8 357.4h0M83.7 342.4h0M81.8 330.9h0M74.9 329.3h0M98 327.4h0M98.6 341h0M75.5 337.1h0M108.6 354.4h0M70.2 328.2h0M99.4 328.3h0M73 324.2h0M101 334.2h0M83.4 335.7h0M85.5 324h0M106.7 359.6h0M64.6 322.7h0M89.3 340h0M105.6 364.2h0M101.4 360.2h0M71.3 326.8h0M77.8 325.2h0M64.4 316h0M109.1 372.9h0M100.3 333.1h0M99.5 364.6h0M77 330.8h0M93.1 324h0M73.7 325.6h0M109 335.9h0M91.2 333.3h0M93.1 323h0M110.3 368.5h0M97.5 330.9h0M81.5 322.7h0M103.2 329.1h0M103.9 324.1h0M67.7 322.4h0M86.6 331.1h0M98.2 360.7h0M93.5 326.6h0M97.7 331.4h0M91.1 335h0M77 335.8h0M106.6 324.4h0M87 326.8h0M96.4 360.2h0M110.6 354.4h0M105.1 343h0M73.8 323.3h0M104.5 334.4h0M107.6 326.5h0M80 353.8h0M92.7 332.8h0M96.2 325.9h0M83.9 331.2h0M81.4 323.9h0M98.5 337.3h0M97.9 331.3h0M90.3 322.1h0M62.7 313.1h0M113.4 359.1h0M77.6 350h0M82.7 327.3h0M105.2 363.8h0M80.9 327.8h0M97.2 343.2h0M105.7 355.9h0M83 331.3h0M89.2 366h0M77.2 321.4h0M97.7 332.4h0M74 326.9h0M74.2 324.7h0M93.5 363.9h0M95.8 366.4h0M111.8 362.8h0M79.9 315.4h0M98.3 362h0M85.9 335.2h0M98.7 362.4h0M95.7 328.4h0M90.9 329.9h0M96.7 359.2h0M89.9 338.5h0M100.8 324.2h0M84.3 334.2h0M113.5 361h0M81.6 333.6h0M101.3 324.5h0M108.1 332.6h0M98.4 366.7h0M100.5 327.6h0M71.2 318.7h0M77 325.7h0M86.7 359.8h0M76.7 324.4h0M82.1 326.9h0M110.3 376.6h0M97.3 332.1h0M95.7 364.7h0M96.2 329.8h0M100.7 331.4h0M74.9 331.3h0M110.8 354.7h0M86.6 328.1h0M104 356.7h0M101.4 362.5h0M93.7 362.1h0M101.7 330.4h0M96.1 360.4h0M60.1 313.3h0M81.8 330.4h0M56.1 313.2h0M103.3 331.5h0M101 358.6h0M99.6 352.4h0M85.7 325.2h0M94.8 362h0M101 370.1h0M111 354.4h0M92.4 333.4h0M86.3 328.8h0M91.2 330.2h0M96.3 357.9h0M66.9 316.7h0M101 360.4h0M87 338.5h0M78.9 326.7h0M76.6 328.2h0M111 360.1h0M92.1 332.6h0M104.1 333.8h0M60.2 313.8h0M95.2 337.7h0M89.9 317.1h0M110.2 367.1h0M95.4 327h0M104 323.4h0M85.7 324.8h0M99.6 335.1h0M90.2 334.3h0M103.7 327.3h0M97.1 360.3h0M101.5 322.4h0M83.3 326.9h0M76.5 323.6h0M75.9 316.3h0M81.2 328.2h0M98.8 359.2h0M95.5 326.3h0M77.1 342.6h0M63.8 316.6h0M97.6 330.1h0M102.3 326h0M95.1 361.2h0M85.7 323h0M97.6 332.8h0M102.8 361.4h0M109.6 357h0M91.3 368.8h0M70.2 330h0M72.4 327.6h0M101.6 374.8h0M77.6 323.8h0M84.2 337.3h0M90.9 369.6h0M84.4 342.8h0M83 329.3h0M104.2 357.7h0M100.1 362.7h0M94.7 332.1h0M83.3 330.1h0M112.9 375.3h0M106 363.5h0M81.2 360.1h0M102.8 358.9h0M98.9 362.9h0M112.3 354.8h0M102.7 359.5h0M106.4 326.3h0M77.5 317.6h0M99.1 361.8h0M103.8 366.5h0M96.8 355h0M84.1 332h0M97.5 362.5h0M89.5 331.4h0M98.3 353.7h0M100.9 353.2h0M99 333.7h0M71.9 322.6h0M86.7 358.4h0M98.4 361.8h0M112.1 361.9h0M75.9 324h0M105.7 369.9h0M71.2 320.2h0M79.5 325.2h0M95.9 330.4h0M74.8 327.3h0M93.5 367.7h0M100 354.3h0M99.1 329.9h0M100.5 355.1h0M98.9 331.8h0M99.7 325.3h0M115.3 364.1h0M84 324.4h0M94.6 330.6h0M101.5 359.4h0M111.6 359.5h0M102.5 340h0M94.7 332.9h0M67.5 320.5h0M80.8 328.5h0M84.3 326.7h0M98.8 378.2h0M97.9 368h0M102.6 335.5h0M77.4 326.4h0M94.4 329.3h0M86.9 324.1h0M92.7 335.1h0M96.1 330h0M97.8 325.6h0M79.7 334.2h0M91.3 333.9h0M96.6 353.7h0M98.1 335.4h0M92.7 334.4h0M78.6 322.9h0M104.9 365h0M74.6 338h0M93.3 355.3h0M100.5 328.9h0M91.9 324.1h0M94.9 336.9h0M81.3 329.6h0M80.3 358.5h0M106.6 336.3h0M107 359.7h0M103.5 328.6h0M76.1 324.1h0M101.6 335.8h0M102.6 362.7h0M95.5 372.2h0M72.6 325.8h0M83.3 345.1h0M96.9 333.9h0M96.7 355.8h0M87.8 330h0M97.7 332.3h0M92.2 358.2h0M97.1 359.9h0M68.7 321.6h0M105.1 356.4h0M98.2 325.2h0M89.4 317.1h0M92.4 373.4h0M97.5 366.4h0M102.9 354.8h0M84.4 337.5h0M86.9 333.2h0M76.6 322.4h0M103.1 335.5h0M77.9 342.3h0M81.3 321.7h0M91.9 327.3h0M100.4 358.8h0M98.7 320.9h0M98.7 329.4h0M95.2 317.8h0M99.1 332.9h0M110.7 364.4h0M98.3 318.3h0M78.2 327.5h0M96.6 331.8h0M101.6 353.7h0M99.9 363.3h0M97.4 355.3h0M95.7 319.3h0M109.2 360h0M68.2 319.9h0M105 355.6h0M66 312.4h0M97.5 326.3h0M97.7 369.3h0M97.9 329.1h0M69.8 325.7h0M103.3 324.6h0M82.8 320.1h0M87.9 324.1h0M106 355.3h0M99.2 331.9h0M114.7 371.3h0M96.6 321.7h0M80.9 323.8h0M111.5 360h0M82.1 358.4h0M111.3 366.9h0M101.2 328h0M92.7 336.9h0M100.4 333.8h0M110.6 359.6h0M99.5 361.8h0M111.2 372.7h0M90.4 323.4h0M69 321.4h0M71.7 317.2h0M113 356.9h0M87.6 332.7h0M103.7 359h0M76.6 323.8h0M92.8 334.9h0M94.2 325h0M76.8 327.3h0M112 363h0M78.4 321.6h0M92.4 330.4h0M81.7 332.8h0M106.1 335.2h0M97.4 328.9h0M103.2 331h0M90.8 333.5h0M77.8 328.6h0M75.9 330.4h0M74 320.7h0M84 322.3h0M93.8 341.8h0M94.5 340.2h0M111.8 367h0M79 333.3h0M107.5 334.6h0M92.8 325h0M79.5 353.8h0M101.3 329.6h0M77.1 317.4h0M109.9 368.3h0M101.5 353.7h0M95.5 359h0M109.6 360.4h0M89.4 362.8h0M83.5 334.4h0M98.2 326.3h0M109.2 355.5h0M76 327.1h0M103.8 327.9h0M81.6 321.7h0M76.2 327.5h0M72.6 317.8h0M101 370.3h0M101.1 330.4h0M85 328.8h0M95.4 360.8h0M93.6 332.1h0M100.7 365.7h0M90.1 335.5h0M108.7 361.9h0M81.7 333.8h0M81.7 349.1h0M79.7 341.8h0M113.8 363.1h0M111.7 356.6h0M101.8 353.6h0M104.7 325.5h0M76.7 329.1h0M109.2 336.2h0M80.9 320.9h0M102.3 359.9h0M101.2 371h0M74.7 325.3h0M98.5 360.4h0M107.2 365.1h0M95.2 363.1h0M75 332.7h0M91.1 341.7h0M68.8 319.1h0M108.1 357.8h0M104.4 337.1h0M106.2 364.9h0M106.3 351.7h0M82.9 358.6h0M68.7 326.9h0M78.4 317.9h0M69.7 328.8h0M77.8 324.4h0M101.7 378.1h0M95.9 322.7h0M92.9 340.7h0M101.1 328.2h0M109.4 372.1h0M76.2 328.6h0M77.9 332.9h0M108.7 357.3h0M75.5 327.2h0M69.3 316.1h0M61.5 316.6h0M113.4 371.7h0M103.7 328h0M94.8 373.4h0M96.4 333.2h0M99.2 334.1h0M97.8 330.8h0M81.9 326.4h0M78.5 344.7h0M104.8 342.9h0M101.6 351.1h0M98.6 363.6h0M96.5 336.4h0M105.8 367.5h0M102.2 338.3h0M60.2 314.2h0M81 335.7h0M72.1 325.7h0M94.9 337.1h0M75.2 336.7h0M95.2 341.1h0M103.5 359.2h0M95.6 328.3h0M96.4 359.8h0M82.9 334.3h0M95.5 360h0M107.7 360.4h0M76 330.8h0M77.2 345.2h0M104.4 334.9h0M111.6 371.2h0M99.2 325.2h0M98.2 338.9h0M88.5 339.7h0M80.7 325.1h0M69.8 320.1h0M94.3 318.1h0M76.9 321.7h0M100.7 363.3h0M78.7 350.8h0M88.3 334.3h0M81.6 344.9h0M80.2 331.6h0M61.3 319.9h0M69.1 326.5h0M113 366.2h0M75.8 333.2h0M93.5 359.2h0M107.4 357.6h0M79.2 330.6h0M98.4 372.7h0M95.5 327.8h0M100.8 365.3h0M96.8 361.6h0M77.4 330.2h0M86.9 322.6h0M97.6 330.6h0M102.4 353.4h0M63.4 311h0M76 326h0M87.9 331.3h0M99.1 364.2h0M103.1 364.2h0M108.2 335.4h0M77.3 321.3h0M92.3 334.9h0M91.2 335.5h0M97.8 354.1h0M115.1 355.9h0M99.6 354.3h0M78.4 321.6h0M80.8 343.4h0M77.7 332.5h0M95.9 362.6h0M74.1 330.1h0M79.4 325.9h0M98.5 352.7h0M71.3 323.7h0M99.8 335.5h0M105 376.3h0M70 325.2h0M64.1 316.6h0M75.9 318.8h0M100.2 331.3h0M61.9 310.6h0M89.4 331.5h0M93.1 356.3h0M110.5 364.9h0M104.9 354.9h0M90.9 330.4h0M114.3 364.3h0M82.2 320.7h0M93.6 358.5h0M99.1 333h0M71.2 329h0M98.7 324.5h0M71.7 325.6h0M113.9 365.1h0M111.9 367.5h0M94.2 330.3h0M98 334.1h0M113.2 378h0M78.7 327.7h0M57.1 311.8h0M102.9 328.1h0M67.1 321.6h0M110.5 351.9h0M91.9 374.6h0M74.2 320.1h0M110.6 356h0M103.2 360.1h0M95.5 338h0M105.3 360.6h0M102.6 355.7h0M104.6 360.8h0M67.7 320.7h0M90.2 337.7h0M85.6 343h0M60.4 315.1h0M100.2 340.3h0M58.6 311h0M112.2 361.4h0M96.3 356.9h0M86.8 342.6h0M100.4 335.4h0M106.5 361h0M84.7 328.6h0M100.3 328.9h0M99.9 361.5h0M80.6 330.6h0M76.1 328.3h0M77.2 334.8h0M99.8 351.2h0M94.2 363.8h0M94.4 361.3h0M106.9 367.8h0M99.2 330.5h0M89.6 332.1h0M81.8 327.7h0M69.7 331.6h0M80.4 327.3h0M105.9 340.8h0M104.8 352.3h0M93.5 376.1h0M79.2 355.4h0M102.2 352.6h0M112.9 367h0M76.1 325.8h0M115.7 368.3h0M101.8 336.6h0M97 335.9h0M90.8 327.4h0M93.8 326.2h0M97.1 331.4h0M95.8 330.4h0M109.3 357.6h0M106.4 360.2h0M75.2 318.8h0M110 353.3h0M103.6 321.8h0M83.8 338.3h0M103.5 377.1h0M103.1 332.4h0M77.8 329.2h0M77.6 321.7h0M81.9 332.1h0M79.9 319.8h0M104.8 351h0M102.9 343h0M89.4 360.3h0M105.1 353.2h0M75.6 330.1h0M78.4 327.8h0M98.2 333.5h0M80.4 341.5h0M100.4 359.4h0M97.9 340.8h0M67.9 318.2h0M75.7 323.7h0M75.2 328.8h0M96.9 319.5h0M76.1 324.7h0M97.8 363.9h0M100.7 338h0M84.1 327.9h0M86.8 340.6h0M84.5 332.5h0M79.1 346.5h0M91.8 333.1h0M74.2 329h0M101.7 372.2h0M104.3 330.3h0M96.5 357.9h0M102 363.9h0M63.9 313.1h0M77.7 328.5h0M106.7 352.4h0M108.8 368.5h0M93.1 365.7h0M104.2 332h0M80.8 334.5h0M104.7 327.4h0M90.4 326.6h0M98.3 362.1h0M78.7 337.4h0M94.6 363.8h0M101.5 362.1h0M66.7 316.5h0M98.8 332.8h0M108.4 363.1h0M66.2 322.9h0M109.5 356.4h0M83.9 330.4h0M87.4 328.8h0M73.4 335.4h0M79.6 354.4h0M102.2 342.7h0M96.8 332.6h0M76.7 327.3h0M73 322.9h0M102.6 358.1h0M86 331.4h0M93.6 365.4h0M112.3 373.1h0M112.6 367.5h0M100.4 336.5h0M92.9 332.1h0M83.4 330h0M80.6 324h0M111.9 354h0M95.9 372.1h0M76 334.2h0M69.9 322.1h0M105.9 373.2h0M104.5 341.6h0M106.1 336.6h0M102.6 373.7h0M97.9 323.6h0M77.4 316.8h0M81.2 354.6h0M105 364.5h0M97.7 335.6h0M103.4 366.7h0M98.6 358.3h0M81.4 332.4h0M97 318.5h0M83.4 329h0M73.3 313.8h0M101.3 334.4h0M108.8 336.3h0M80.9 326h0M74.1 326.7h0M92.5 326.8h0M101.3 358h0M97.6 332.6h0M92 332.4h0M81.2 319.2h0M102 353.7h0M81.4 317.5h0M103.7 328h0M92.3 332.4h0M93.9 329.2h0M103.9 359.1h0M75.8 329.4h0M73.7 337.1h0M78.4 319.6h0M77.8 352.3h0M84.6 320.2h0M97.2 360.7h0M93.1 318.7h0M99.7 335h0M107 357.5h0M78.8 316.9h0M73.7 325.8h0M106.5 362.3h0M58.4 316.2h0M103.5 324.1h0M74 336.6h0M102.3 358.8h0M93.6 325.7h0M78.4 347.2h0M98.7 329.2h0M86.8 326.8h0M103.2 331.5h0M99.3 362.5h0M111.5 367.5h0M75.8 314.4h0M97.6 362.1h0M93.6 359.1h0" fill="none" stroke="#666" stroke-width="0.7" stroke-linecap="round"/>
<path d="M56.7 306.1l1 -0.1 1 0 1 0.1 1 0 1 0.2 1 0.1 1 0.1 1 0.2 1 0.2 1 0.1 1 0.2 1 0.2 1 0.2 1 0.2 1 0.2 1 0.2 1 0.1 1 0.2 1 0.2 1 0.2 1 0.1 1 0.2 1 0.2 1 0.3 1 0.2 1 0.2 1 0.3 1 0.2 1 0.3 1 0.2 1 0.3 1 0.3 1 0.3 1 0.3 1 0.3 1 0.3 1 0.3 1 0.2 1 0.3 1 0.2 1 0.3 1 0.3 1 0.3 1 0.3 1 0.4 1 0.5 1 0.5 1 0.6 1 0.8 1 0.7 0.7 0.7 0.8 0.7 0.8 0.8 0.7 0.8 0.7 1 0.5 1 0.5 1 0.5 1 0.3 1 0.4 1 0.3 1 0.3 1 0.3 1 0.2 1 0.2 1 0.2 1 0.2 1 0.1 1 0.2 1 0.1 1 0 1 0.1 1 -0.1 1 -0.1 1 -0.2 1 -0.3 1 -0.4 1 -0.3 1 0 1 0.7 1 0.9 0.7 1 0.8 0.7 0.8 0.7 0.7 0.7 1 0.5 1 0.3 1 0.3 1 0.3 1 0.1 1 0.2 1 0.1 1 0 1 0.1 1 0 1 0 1.1 0 0.9 0 1 0 1 0 1 0 1 0 1 -0.1 1 0 1 -0.1 1 -0.1 1 0 1 -0.1 1 -0.1 1 -0.1 1 -0.1 1 -0.1 1 -0.3 1 -0.4 1 -0.5 1 -0.8 0.9 -0.8 0.7 -1 0.4 -1 0.3 -1 0.2 -0.9 0.2 -1.1 0 -1 0.1 -1 0 -1 0 -1 -0.1 -1 0 -1 0 -0.9 0.1 -1.1 0 -1 0 -0.9 0 -1.1 0 -1 0 -1 0 -1 0 -1 0 -1 0 -1 -0.1 -1 0 -0.9 -0.1 -1.1 -0.1 -1 -0.2 -1 -0.4 -1 -0.5 -0.9 -0.8 -0.7 -1 -0.5 -1 -0.3 -1 -0.1 -1 -0.1 -1 -0.1 -1 -0.1 -1 -0.2 -1 -0.4 -1 -0.4 -1 -0.6 -1 -0.7 -1 -0.8 -1 -0.8 -1 -0.7 -1 -0.7 -1 -0.6 -1 -0.6 -1 -0.5 -1 -0.5 -1 -0.5 -1 -0.4 -1 -0.4 -1 -0.3 -1 -0.3 -1 -0.3 -1 -0.3 -1 -0.2 -1 -0.2 -1 -0.2 -1 -0.2 -1 -0.2 -1 -0.2 -1 -0.2 -1 -0.3 -1 -0.3 -1 -0.4 -1 -0.3 -1 -0.4 -1 -0.5 -1 -0.6 -1 -0.6 -1 -0.6 -1 -0.6 -1 -0.6 -1 -0.6 -0.8 -0.7 -1 -0.7 -1 -0.7 -1 -0.8 -1 -0.7 -1 -0.6 -0.8 -0.7 -1 -0.8 -1 -0.7 -1 -0.8 -0.9 -0.8 -1 -0.6 -0.8 -0.8 -1 -0.7 -0.7 -0.9 -1 -0.6 -0.8 -0.8 -1 -0.8 -1 -0.7 -1 -0.8 -0.9 -0.7 -1.1 -0.7 -1 -0.5 -1 -0.4 -1 -0.2 -1 0 -1 0.1 -1 0.4 -1 0.5 -0.9 0.8 -0.8 1 -0.7 1 -0.4 1 -0.3zM56.7 308.1l1 -0.2 1 0 1 0.1 1 0.1 1 0.1 1 0.2 1 0.2 1 0.2 1 0.2 1 0.2 1 0.2 1 0.3 1 0.2 1 0.2 1 0.2 1 0.1 1 0.1 1 0.2 1 0.1 1 0.2 1 0.1 1 0.2 1 0.2 1 0.2 1 0.2 1 0.3 1 0.2 1 0.3 1 0.2 1 0.3 1 0.3 1 0.3 1 0.3 1 0.3 1 0.2 1 0.3 1 0.2 1 0.3 1 0.2 1 0.2 1 0.2 1 0.3 1 0.3 1 0.3 1 0.4 1 0.5 0.9 0.6 0.8 0.6 0.9 0.6 0.8 0.8 0.8 0.8 0.7 0.7 0.8 1 0.7 1 0.5 1 0.5 1 0.4 1 0.3 1 0.4 1 0.2 1 0.3 1 0.2 1 0.2 1 0.2 1 0.1 1 0.1 1 0.1 1 0.1 1 0 1 0 1 -0.1 1 -0.2 1 -0.4 1 -0.7 1 -0.8 0.7 -0.9 0.6 -1.2 0.3 -1 0.3 -0.9 0.1 -1.1 0.1 -1 0.1 -0.9 0.1 -1.1 0.1 -1 0.1 -1 0 -1 -0.1 -1 0 -1 -0.1 -1 -0.1 -1 -0.1 -1 0 -1 0 -0.9 -0.1 -1.1 0 -1 0.1 -1 0.3 -1 0.4 -0.7 0.7 -0.7 1 -0.4 1 -0.2 1 -0.1 1 0 1 0.6 1 1.1 0.2 1 -0.4 1 -0.8 0.9 -0.8 1.1 -0.7 0.8 -0.5 1.2 -0.5 1 -0.3 1 -0.3 1 -0.2 1 -0.1 1 -0.1 1 -0.1 1 -0.1 1 0 1 0 1 0.1 1 0 1 0 1 0 1 0 1 -0.1 1 -0.1 1 0 1 0.1 1 0.4 0.9 0.5 0.8 0.7 0.7 0.8 0.7 1.1 0.6 1 0.3 1 0.3 1 0.2 1 0.2 1 0.1 1 0.1 1 0 1 0 1 0 1 0 1 0 1 0 1 0 1 0 1 0 1 0 1 -0.1 1 -0.1 1 0 1 -0.1 1 -0.1 1 -0.1 1 -0.1 1 -0.1 1 -0.2 1 -0.3 1 -0.5 0.9 -0.7 0.8 -1.1 0.7 -1 0.4 -1 0.2 -1 0.1 -1 0 -1 0 -1 -0.1 -1 0 -1 0 -1 0 -1 0 -1 0 -0.9 0.1 -1.1 0 -1 0 -0.9 0 -1.1 0 -1 0 -1 0 -1 0 -1 -0.1 -1 0 -1 -0.1 -1 -0.2 -1 -0.4 -0.8 -0.6 -0.7 -0.7 -0.5 -1 -0.3 -1 -0.1 -1 -0.1 -1 -0.1 -1 -0.2 -1 -0.3 -1 -0.3 -1 -0.5 -1 -0.6 -1 -0.5 -0.8 -0.7 -1 -0.6 -0.8 -0.7 -0.7 -0.7 -0.7 -0.7 -0.8 -0.7 -0.8 -0.8 -1 -0.7 -1 -0.5 -1 -0.5 -1 -0.5 -1 -0.4 -0.9 -0.4 -1.1 -0.3 -1 -0.3 -1 -0.2 -1 -0.2 -1 -0.2 -1 -0.2 -1 -0.2 -1 -0.2 -1 -0.1 -1 -0.2 -1 -0.2 -1 -0.2 -1 -0.3 -1 -0.2 -1 -0.3 -0.9 -0.4 -1.1 -0.5 -1 -0.6 -1 -0.7 -1 -0.6 -0.8 -0.6 -0.9 -0.8 -1 -0.7 -1 -0.6 -0.8 -0.7 -0.9 -0.7 -1 -0.6 -0.9 -0.6 -0.9 -0.6 -0.9 -0.8 -1.1 -0.6 -1 -0.7 -0.9 -0.7 -1.1 -0.7 -1 -0.7 -1 -0.9 -1 -0.7 -0.8 -0.6 -0.7 -0.9 -1 -0.8 -0.9 -0.7 -0.8 -0.7 -1 -0.7 -0.8 -0.6 -0.8 -0.6 -1 -0.5 -1 -0.3 -1 0 -1 0.2 -1 0.5 -0.8 0.7 -0.8 1 -0.6 1 -0.3zM57.7 309.1l1 -0.1 1 0.1 1 0.1 1 0.2 1 0.2 1 0.3 1 0.3 1 0.3 1 0.3 1 0.3 1 0.3 1 0.2 1 0.2 1 0.1 1 0.2 1 0.1 1 0.1 1 0.1 1 0.1 1 0.1 1 0.2 1 0.1 1 0.2 1 0.2 1 0.3 1 0.2 1 0.3 1 0.3 1 0.2 1 0.3 1 0.3 1 0.3 1 0.2 1 0.2 1 0.3 1 0.2 1 0.2 1 0.1 1 0.2 1 0.2 1 0.2 1 0.3 1 0.4 1 0.4 0.9 0.5 0.8 0.6 0.9 0.7 0.9 0.7 0.8 0.7 0.7 0.8 0.7 0.8 0.6 0.8 0.5 0.9 0.5 0.9 0.4 1.1 0.4 1 0.3 1 0.3 1 0.2 1 0.2 1 0.2 1 0.1 1 0.1 1 0 1 0.1 1 0 1 0 1 -0.1 1 -0.2 1 -0.5 1 -0.8 1 -1 0.6 -1 0.4 -1 0.3 -1 0.2 -1 0.2 -1 0.1 -1 0.1 -1 0.1 -1 0 -1 0 -1 0 -1 -0.1 -1 0 -1 -0.1 -1 0 -1 -0.1 -1 0 -1 -0.1 -1 0 -1 0.1 -1 0.1 -1 0.4 -0.9 0.5 -0.7 0.8 -0.6 1 -0.5 1 -0.3 1 -0.3 1 -0.2 1 -0.1 1 0.1 1 0.2 1 0.6 1 1 0.6 1 0 1 -0.3 1 -0.7 0.7 -0.7 0.7 -0.8 0.8 -0.7 0.8 -0.6 1 -0.7 1 -0.5 1 -0.3 1 -0.3 1 -0.2 1 -0.1 1 -0.1 1 0 1 -0.1 1 0 1 0 1 0.1 1 0 1 0.1 1 0 1 0 1 -0.1 1 -0.2 1 -0.1 1 0.1 1 0.4 0.9 0.7 0.7 0.7 0.6 0.9 0.5 1.1 0.4 1 0.2 1 0.2 1 0.1 1 0.1 1 0 1 0 1 0.1 1 0 1 -0.1 1 0 1 0 1.1 0 0.9 0 1 -0.1 1 -0.1 1 -0.1 1 -0.1 1 -0.1 1 -0.1 1 -0.1 1 -0.2 1 -0.1 1 -0.3 1 -0.4 1 -0.7 1.1 -0.8 0.5 -1.1 0.4 -1 0.1 -1 0 -1 -0.1 -1 0 -1 -0.1 -1 0 -1 0 -1 0 -1 0 -1 0 -1 0.1 -1 0 -1 0 -1 0 -1 0 -0.9 0 -1.1 0 -1 -0.1 -0.9 -0.1 -1.1 -0.1 -0.9 -0.4 -0.8 -0.6 -0.6 -0.9 -0.3 -1 -0.2 -1 -0.1 -1 -0.2 -1 -0.2 -1 -0.2 -1 -0.4 -1 -0.5 -1 -0.6 -0.9 -0.5 -0.9 -0.7 -0.9 -0.7 -1.1 -0.5 -0.8 -0.8 -0.8 -1 -0.8 -1 -0.6 -0.7 -0.6 -0.8 -0.8 -0.7 -1 -0.6 -1 -0.4 -1 -0.5 -1 -0.4 -1 -0.3 -1 -0.3 -1 -0.2 -1 -0.2 -1 -0.2 -1 -0.2 -1 -0.1 -1 -0.2 -1 -0.1 -1 -0.2 -1 -0.1 -1 -0.2 -1 -0.1 -1 -0.2 -1 -0.2 -1 -0.3 -1 -0.4 -1 -0.6 -1 -0.8 -1 -0.7 -0.8 -0.8 -1 -0.6 -0.8 -0.8 -1 -0.8 -1 -0.7 -1 -0.8 -1 -0.6 -0.8 -0.5 -0.9 -0.6 -1 -0.6 -0.9 -0.6 -1.1 -0.6 -1 -0.5 -1 -0.6 -1 -0.7 -1 -0.7 -0.7 -0.7 -0.8 -0.8 -0.8 -0.8 -0.7 -0.7 -0.7 -0.7 -0.8 -0.8 -1 -0.8 -0.9 -0.6 -0.9 -0.7 -0.9 -0.4 -1 -0.4 -1.1 0 -1 0.4 -1 0.7 -0.7 0.9 -0.5 1.1 -0.3zM57.5 310.1l0.9 -0.2 1 0 1 0.1 1 0.2 1 0.3 1 0.3 1 0.3 1 0.4 1 0.5 1 0.4 1 0.5 1 0.3 1 0.3 1 0.1 1 0.1 1 0 1.1 0.1 0.9 0.1 1 0 1 0.1 1 0.1 1 0.2 1 0.1 1 0.2 1 0.2 1 0.3 1 0.3 1 0.3 1 0.2 1 0.3 1 0.2 1 0.2 1.1 0.3 1 0.1 0.9 0.2 1 0.2 1 0.1 1 0.1 1 0.1 1 0.2 1 0.2 1 0.2 1 0.4 1 0.5 1 0.6 0.9 0.6 0.9 0.7 0.8 0.7 0.7 0.7 0.7 0.8 0.7 0.9 0.6 0.9 0.5 1 0.4 1.1 0.4 1 0.3 1 0.2 1 0.3 1 0.1 1 0.1 1 0 1 0 1 0 0.9 -0.1 1.1 -0.1 1 -0.1 1 -0.3 0.9 -0.4 1 -0.8 0.8 -1 0.6 -1 0.4 -1 0.3 -1 0.3 -1 0.2 -1 0.1 -1 0.1 -1 0 -1 0 -1 0 -1 -0.1 -1 -0.1 -1 0 -1 -0.1 -1 -0.1 -1 -0.1 -1 -0.1 -1 -0.1 -1 -0.1 -1 0 -1 0.1 -1 0.4 -1 0.6 -0.9 0.7 -0.6 0.8 -0.6 0.9 -0.4 1 -0.4 1 -0.1 1.1 0 0.9 0.1 1 0.1 1 0.1 1 0.2 1 0.2 1 0.2 1 0.2 1 0.3 1 0.2 1 -0.2 1 -0.6 0.9 -1 0.1 -1 -0.7 -0.8 -1 -0.5 -0.9 -0.5 -1 -0.5 -1.1 -0.3 -1 -0.3 -1 -0.2 -1 -0.3 -1 -0.1 -1 -0.2 -1 -0.1 -1 -0.2 -1 -0.1 -1 -0.1 -1 -0.1 -1 0 -1 0 -1 0.2 -1 0.1 -1 -0.1 -1 -0.6 -1 -0.9 -1 -0.7 -0.7 -0.7 -0.7 -0.8 -0.7 -0.8 -0.7 -0.7 -0.8 -0.7 -0.9 -0.8 -1 -0.8 -1 -0.7 -1 -0.7 -1 -0.6 -1 -0.4 -0.8 -0.6 -0.9 -0.4 -1 -0.5 -1.1 -0.4 -1 -0.5 -1 -0.6 -1 -0.8 -0.9 -0.8 -0.6 -0.7 -0.7 -0.9 -0.8 -0.8 -0.7 -0.8 -0.7 -0.7 -0.8 -0.8 -1 -0.7 -0.9 -0.7 -1.1 -0.5 -1 -0.1 -1 0.2 -1 0.8 -0.9zM100.5 350.6l1 0 1 0 1 0.1 1 0 1.1 0.1 0.9 0.1 1 0.1 1 -0.1 1 -0.1 1 -0.2 1 0 1 0.2 1 0.6 0.7 0.8 0.6 0.9 0.5 1.1 0.2 1 0.2 1 0.2 1 0 1 0.1 1 0 1 0.1 1 0 1 0 0.9 -0.1 1.1 0 1 0 1 -0.1 1 0 1 -0.1 1 -0.2 1 -0.2 1 -0.2 1 -0.1 1 -0.2 1 -0.2 1 -0.3 1 -0.3 1 -0.6 0.8 -0.9 0.8 -1 0.2 -1.1 -0.1 -1 -0.3 -0.9 -0.2 -1.1 -0.3 -1 -0.1 -0.9 -0.1 -1.1 0 -0.9 0.1 -1.1 0.1 -1 0.2 -1 0.1 -1 0 -0.9 -0.1 -1.1 0 -0.9 -0.1 -1.1 0 -1 -0.1 -1 -0.3 -0.9 -0.6 -0.5 -0.9 -0.5 -1.1 -0.2 -1 -0.3 -1 -0.2 -1 -0.3 -1 -0.5 -1 -0.6 -1 -0.6 -0.8 -0.6 -0.9 -0.6 -0.9 -0.6 -0.9 -0.6 -0.9 -0.4 -1 -0.5 -0.9 -0.4 -1 -0.4 -1 0.1 -1 0.7 -0.8 0.9 -0.7 1 -0.6 1 -0.9 0.8 -0.7 0.7 -0.8 0.8 -0.9 0.8 -0.8 0.7 -0.7 1 -0.7 1 -0.6 1 -0.3 1 -0.3 1 -0.2 1 -0.1 1 -0.1 1 0z" fill="none" stroke="#000" stroke-width="0.9" stroke-linejoin="round"/>
<path d="M58.5 311.4l1 -0.2 1 0 1 0.1 1 0.3 1 0.4 1 0.4 0.9 0.5 0.9 0.6 1 0.6 1 0.7 0.9 0.6 1 0.5 1.1 0.4 1 0 1 0 1 -0.1 1 -0.1 1 0 1 0 1 0.1 1 0.1 1 0.1 1 0.2 1 0.3 1 0.3 1 0.3 1 0.4 1 0.3 1 0.2 1 0.1 1 0.1 1 0.1 1 0.1 1 0 1 0.1 1 0 1 0 1 0 1 0.1 1 0.1 1 0.3 1 0.3 1 0.5 1 0.7 0.9 0.7 0.8 0.8 0.8 0.7 0.7 0.8 0.7 0.7 0.6 0.9 0.5 1 0.4 0.9 0.3 1 0.3 1 0.2 1 0.1 1 0.1 1 -0.1 1 -0.1 1 -0.1 1 -0.3 1 -0.3 1 -0.3 1 -0.4 0.9 -0.8 1.1 -0.9 0.8 -1 0.4 -1.1 0.5 -1 0.2 -1 0.1 -1 0.1 -1 0 -1 -0.1 -1 -0.1 -1 -0.1 -1 -0.1 -1 -0.1 -1 -0.1 -1 -0.3 -1 -0.3 -1 -0.5 -1 -0.6 -1 -0.7 -1 -0.5 -1 -0.2 -1 -0.1 -1 -0.1 -1 -0.2 -1 -0.2 -1 -0.3 -1 -0.3 -1 -0.2 -1 -0.2 -1 -0.1 -1 -0.3 -1 -0.3 -1 -0.5 -0.8 -0.6 -0.9 -0.8 -0.7 -0.7 -0.8 -0.9 -0.7 -0.8 -0.7 -1 -0.6 -1 -0.7 -1 -0.4 -1 -0.5 -1 -0.3 -1 -0.3 -1 -0.2 -1 -0.4 -1 -0.5 -1 -0.7 -0.8 -0.8 -0.7 -1 -0.7 -1 -0.7 -0.9 -0.7 -0.8 -0.7 -0.8 -0.7 -0.7 -0.9 -0.7 -0.9 -0.6 -1 -0.3 -1 0 -1 0.8 -0.9zM78.5 347.3l0.9 0.6 0.5 1 0.4 1 0.3 1 0.3 1 0.2 1 0.2 1 0.2 1 0.1 1 0.1 1 -0.1 1 -1.1 -0.1 -0.5 -0.9 -0.4 -1 -0.4 -1 -0.3 -1 -0.2 -1 -0.2 -1 -0.2 -1 -0.1 -1 0 -1 0.1 -1zM98 351.6l1 -0.1 1 -0.1 1 0 1 0 1 0.1 1 0 1 0.2 1 0.1 1 0.2 1 0.1 1 -0.1 1 -0.3 1 -0.2 1 0.2 0.9 0.5 0.7 0.7 0.5 1 0.3 1 0.3 1 0.1 1 0.1 1 0.1 1 0 1 0.1 1 0 1 0 1 0 1 -0.1 1 0 1 -0.1 1 -0.1 1 -0.1 1 -0.2 1 -0.3 1 -0.3 1 -0.4 1 -0.5 1 -0.6 0.9 -1 0.4 -1 -0.7 -0.5 -0.9 -0.6 -1 -0.4 -1 -0.4 -1 -0.5 -0.8 -1 -0.5 -1 0.2 -1 0.5 -1 0.4 -1 0.5 -1 0.3 -1.1 0.3 -0.9 0.1 -1 -0.2 -1 -0.3 -1.1 -0.5 -0.9 -0.6 -0.9 -0.6 -0.9 -0.5 -1 -0.7 -1 -0.8 -0.9 -0.8 -0.8 -0.7 -0.8 -1 -0.6 -1 -0.4 -1 -0.2 -1 0 -1 0.3 -1 0.5 -1 0.6 -1 0.5 -1 0.7 -1 0.6 -0.9 0.7 -0.8 0.8 -0.8 1 -0.7 1 -0.4 1 -0.4 1 -0.2zM60.2 312.1l1 0.1 1 0.2 1 0.3 1 0.5 1 0.7 1 0.7 0.8 0.7 0.7 0.7 0.8 0.6 0.9 0.8 1 0.5 1 0.2 1 -0.1 1 -0.2 1 -0.2 1 -0.1 1 -0.1 1 0 1 0.1 1 0.1 1 0.2 1 0.3 1 0.3 1 0.4 1 0.4 1 0.4 1 0.4 1 0.3 1.1 0.1 0.9 0 1 0 1 -0.1 1 -0.1 1 -0.1 1 -0.1 1 -0.1 1 0 1 0 1 0.2 1.1 0.3 0.9 0.4 1 0.6 0.8 0.7 0.9 0.8 0.9 0.7 0.7 0.8 0.7 0.8 0.7 1 0.5 1 0.4 0.9 0.2 1.1 0.2 1 0.1 1 0.1 1 -0.1 1 -0.2 1 -0.3 1 -0.3 1 -0.5 1 -0.4 0.9 -0.6 1 -0.7 0.8 -1.1 0.7 -1 0.4 -1 0.3 -1 0.1 -1 0 -1 0 -1 -0.1 -1 -0.2 -1 -0.1 -1 -0.2 -1 -0.2 -1 -0.4 -0.8 -0.6 -0.9 -0.7 -0.7 -0.9 -0.8 -0.8 -1 -0.7 -1 -0.3 -1 0 -1 0.1 -1 0.1 -1 0 -1 -0.1 -1 -0.1 -1 -0.1 -1 -0.1 -1 -0.1 -1 -0.1 -1 -0.1 -1 -0.3 -1 -0.5 -1 -0.7 -0.8 -0.6 -0.7 -0.8 -0.7 -0.9 -0.8 -1 -0.6 -1 -0.6 -1 -0.4 -1 -0.3 -1 -0.3 -1 -0.1 -1 -0.2 -1 -0.2 -1 -0.4 -1 -0.7 -0.9 -0.7 -0.7 -1 -0.6 -1 -0.6 -1 -0.6 -0.9 -0.6 -0.8 -0.7 -0.8 -0.8 -0.8 -0.9 -0.5 -1.1 -0.2 -1 0.5 -0.9 1 -0.4zM98.2 352.1l1 -0.1 1 0 1 -0.1 1 0.1 1 0 1 0.2 1 0.2 1 0.2 1 0.3 1 0.2 1 -0.2 1 -0.3 1 -0.2 1 0.2 0.8 0.8 0.6 1 0.3 1 0.3 1 0.1 1 0.1 1 0 1 0.1 1 0 1 0 1 0 1 0 1 -0.1 1 0 1 -0.2 1 -0.1 1 -0.3 1 -0.3 1 -0.5 1 -0.8 1 -1 0.1 -0.8 -0.8 -0.4 -0.9 -0.5 -1.2 -0.4 -1 -0.5 -1 -0.9 -0.9 -1 0.1 -1 0.6 -1 0.6 -1 0.5 -1 0.4 -1 0.3 -1 0.1 -1 0 -1 -0.3 -1 -0.4 -1 -0.6 -0.9 -0.6 -1.1 -0.7 -1 -0.7 -1 -0.8 -0.7 -0.7 -0.8 -0.8 -0.6 -1.1 -0.3 -1 0 -1 0.2 -1 0.3 -1 0.4 -0.9 0.5 -1 0.5 -0.9 0.6 -0.9 0.7 -0.7 0.9 -0.8 1 -0.5 1 -0.4 1 -0.2zM61 313.5l1 0 1 0.3 1 0.6 0.7 0.7 0.6 0.8 0.5 1 -0.8 0.6 -1 -0.1 -1 -0.4 -1 -0.6 -0.8 -0.7 -0.6 -1.1 0.2 -1zM75.7 318.6l1 -0.1 1 0 1 0.1 1 0.2 1 0.2 1 0.4 1 0.4 1 0.4 1 0.5 1 0.5 1 0.5 1 0.4 1 0.3 1 0.2 1 -0.1 1 -0.2 1 -0.3 1 -0.4 1 -0.3 1 -0.3 1 -0.1 1 0.1 1 0.2 1 0.4 1 0.6 0.8 0.6 0.9 0.8 0.9 0.8 0.8 0.8 0.7 0.7 0.6 0.9 0.6 1.1 0.3 1 0.2 1 0.1 1 0 1 -0.1 1 -0.3 1 -0.3 1 -0.5 1 -0.5 1 -0.7 1 -0.7 0.9 -1.1 0.8 -1 0.4 -1 0.2 -1 0 -1 0 -1 -0.1 -1 -0.2 -1 -0.2 -1 -0.3 -1 -0.4 -1 -0.6 -0.7 -0.7 -0.7 -0.8 -0.8 -0.7 -0.9 -0.8 -1 -0.5 -1.1 -0.2 -1 0 -1 0.2 -1 0.1 -1 0.1 -1 0 -1 0 -1 -0.1 -1 -0.1 -1 0 -1 -0.1 -1 -0.1 -1 -0.3 -1 -0.5 -1 -0.7 -0.8 -0.7 -0.7 -0.9 -0.7 -0.9 -0.7 -1.1 -0.5 -1 -0.3 -1 -0.3 -1 -0.2 -1 0 -1 0 -1 0 -1 0.1 -1 0.3 -1 1.1 -0.5 0.9 -0.3 1 -0.3 1 -0.3 1 -0.3 1 -0.2zM99.2 352.6l1 0 1 -0.1 1 0.1 1 0.1 1 0.2 1 0.2 1 0.4 0.9 0.4 1.1 0.3 1 -0.1 1 -0.4 1 -0.2 1 0.4 0.7 0.7 0.4 1 0.2 1 0.1 1 0.1 1 0 1 0.1 1 0.1 1 0 1 0 1 0 1 -0.1 1 -0.1 1 -0.2 1 -0.3 1 -0.4 1 -0.8 0.8 -1 -0.4 -0.7 -1.1 -0.4 -1 -0.4 -1 -0.4 -1 -0.5 -1 -0.7 -0.7 -1 0.2 -0.9 0.8 -0.8 0.7 -1 0.7 -1 0.6 -1 0.3 -1 0.2 -1 0 -1 -0.3 -1 -0.5 -1 -0.7 -1 -0.7 -1 -0.8 -1 -0.8 -0.9 -0.7 -0.8 -1 -0.5 -1 -0.1 -1 0.1 -1 0.3 -1 0.3 -1 0.5 -1 0.6 -1 0.8 -0.7 0.9 -0.8 1 -0.4 1 -0.4 1 -0.2zM75.9 319.6l1.1 -0.1 1 0 1 0.2 1 0.2 1 0.3 1 0.4 1 0.4 1 0.6 1 0.5 1 0.7 1 0.6 0.8 0.5 1.2 0.5 1 0.2 1 0 1 -0.1 1 -0.3 1 -0.5 1 -0.5 1 -0.5 0.9 -0.3 1.1 0 1 0.3 1 0.6 0.8 0.6 0.9 0.6 0.8 0.7 0.9 0.7 0.7 0.7 0.6 0.9 0.5 1.1 0.2 1 0.1 1 0 1 -0.1 1 -0.3 1 -0.5 1 -0.6 1 -0.7 1 -0.7 0.8 -0.9 0.7 -1 0.4 -1 0.2 -1 0 -1 0 -1 -0.1 -1 -0.2 -1 -0.3 -1 -0.4 -1 -0.7 -0.7 -0.7 -0.8 -0.8 -0.8 -0.7 -0.8 -0.6 -0.9 -0.5 -1 -0.3 -1 0 -1 0.2 -1 0.2 -1 0.2 -1 0.1 -1 0 -1 0 -1 -0.1 -1 0 -1 -0.1 -1 -0.1 -1 -0.2 -1 -0.4 -0.9 -0.6 -0.8 -0.7 -0.8 -0.9 -0.7 -1.1 -0.5 -0.9 -0.5 -1.1 -0.2 -1 -0.1 -1 0 -1 0.2 -1 0.3 -1 0.7 -1 0.8 -0.7 1 -0.6 1 -0.4 1 -0.4zM99.2 353.4l1 -0.1 1 -0.1 1 0 1 0.2 1 0.2 1 0.3 1 0.5 1 0.7 1 0.8 1 0 1 -0.7 1 -0.2 0.9 0.6 0.4 1 0.2 1 0.1 1 0 1 0.1 1 0.1 1 0.1 1 0 1 -0.1 1 -0.1 1 -0.2 1 -0.5 1 -1 -0.1 -0.5 -0.9 -0.5 -1 -0.3 -1 -0.3 -1 -0.3 -1 -0.4 -1 -0.7 -0.7 -1 0.7 -0.8 1 -0.6 0.8 -0.8 0.9 -0.8 0.7 -0.9 0.6 -1.1 0.5 -1 0.2 -1 -0.2 -1 -0.4 -1 -0.7 -1 -0.8 -1 -0.8 -0.9 -0.8 -0.8 -0.7 -0.6 -1 -0.3 -1 -0.1 -1 0.2 -1 0.3 -1 0.4 -0.9 0.7 -0.8 0.9 -0.7 1 -0.5 1 -0.4 1 -0.2zM76.2 320.6l1 -0.1 1 0 1 0.2 1 0.2 1 0.4 1 0.5 1 0.5 1 0.6 1 0.7 1 0.8 1 0.8 1 0.6 1 0.5 1 0.2 1 0 1 -0.1 1 -0.1 1 -0.1 1 0 1 -0.1 1 -0.2 1 -0.3 1 -0.1 1 0.1 1 0.4 1 0.6 0.9 0.8 0.6 0.8 0.4 1 0.2 1 0 1 -0.2 1 -0.3 1 -0.6 0.9 -0.6 0.8 -0.9 0.7 -1 0.7 -0.9 0.3 -1.1 0.3 -1 0.2 -1 0 -1 -0.1 -1 -0.3 -1 -0.5 -1 -0.7 -0.7 -0.8 -0.8 -0.8 -0.7 -0.7 -1.1 -0.8 -0.9 -0.3 -1.1 0 -1 0.1 -1 0.3 -1 0.3 -1 0.2 -1 0.1 -1 0.1 -0.9 0 -1.1 -0.1 -1 0 -1 -0.1 -0.9 -0.1 -1.1 -0.3 -1 -0.6 -0.7 -0.7 -0.7 -0.9 -0.7 -1 -0.5 -1 -0.3 -1 -0.1 -1 0 -1 0.3 -1 0.4 -1 0.8 -1 0.8 -0.7 0.9 -0.5 1.1 -0.5zM99.7 354.1l1 -0.1 1 -0.1 1 0.1 1 0.2 1 0.3 1 0.6 0.7 0.7 0.6 1.1 0.2 1 -0.1 1 -0.4 1 -0.5 0.9 -0.7 1.1 -0.8 1 -0.7 0.7 -1 0.8 -1 0.4 -1 0 -1 -0.4 -0.9 -0.5 -0.9 -0.7 -0.9 -0.8 -0.8 -0.8 -0.8 -1 -0.4 -1 -0.1 -1 0.1 -1 0.4 -1 0.7 -1 0.8 -0.6 1 -0.5 1 -0.3zM76.5 321.6l1 -0.1 1 0 1 0.2 1 0.4 1 0.4 1 0.5 1 0.6 0.8 0.7 0.8 0.6 0.7 0.7 0.7 0.8 0.7 0.8 0.8 1 0.4 1 -0.8 0.9 -1.1 0.6 -1 0.5 -1 0.4 -1 0.3 -1 0.2 -1 0.1 -1 0 -1 0 -1 -0.1 -0.9 -0.1 -1.1 -0.2 -1 -0.5 -0.8 -0.7 -0.6 -0.9 -0.6 -0.9 -0.4 -1.2 -0.2 -1 0.1 -1 0.2 -1 0.5 -1 0.8 -0.9 1 -0.7 1 -0.4zM99.2 328.1l1 -0.1 1 0.3 0.9 0.9 0.4 0.9 -0.1 1.1 -0.4 0.9 -0.8 0.8 -1 0.6 -0.9 0.7 -1.1 0.7 -1 0.5 -1 0.2 -1 -0.1 -1 -0.4 -0.8 -0.7 -0.7 -0.7 -0.7 -1.1 -0.5 -1 -0.3 -1 0.2 -1 1.1 -0.7 0.9 -0.3 1 -0.1 1 0 1 0 1 0 1 -0.2zM101 354.9l1 -0.1 1 0 1 0.3 1 0.5 0.7 0.8 0.4 1 0 1 -0.3 1 -0.5 1 -0.8 1 -0.7 0.8 -0.8 0.7 -1 0.3 -1 0 -1 -0.6 -0.8 -0.7 -0.8 -1 -0.4 -1 -0.3 -1 -0.1 -1 0.2 -1 0.6 -1 1.1 -0.6 0.9 -0.3zM76.7 322.9l1 -0.2 1 0 1 0.3 1 0.5 1 0.5 0.8 0.6 0.9 0.8 0.6 0.8 0.7 0.9 0.5 1.1 -0.2 1 -0.8 0.9 -1 0.5 -1 0.3 -1 0.2 -1 0 -1 -0.1 -1 -0.1 -1 -0.3 -1 -0.6 -0.6 -0.8 -0.5 -1 -0.3 -1 -0.1 -1 0 -1 0.5 -1 0.6 -0.8 0.9 -0.5zM102 355.9l1 0 1 0.3 0.7 0.7 0.3 1 -0.2 1 -0.6 1 -0.8 0.7 -1 0.5 -1 -0.2 -0.6 -1 -0.3 -1 -0.2 -1 0.2 -1 0.7 -0.7zM78.5 325.1l1 0.1 1 0.7 0.8 1 0.4 1 -0.9 0.8 -1 -0.2 -0.7 -0.8 -0.6 -0.9 -0.4 -0.9z" fill="none" stroke="#000" stroke-width="0.7" stroke-linejoin="round"/>
<path d="M9.7 350.6l1 -0.3 1 -0.5 0.9 -0.4 1.1 -0.3 1 -0.1 1 -0.1 1 0 1 0 1 0 1 0 1 -0.1 1 0 1 0 1 -0.1 1 0 1 -0.1 1 0 1 -0.1 1 0 1 0 1 0 1 0 1 0 1 0 1 -0.1 1 0 1 0 1 -0.1 1 0 1 0 1 0 1 0 1 0 1 0.1 1 0 1 0 1 0 1 0.1 1 0.1 1 0.2 1 0.2 1 0.3 1 0.3 1 0.4 1 0.4 1 0.4 0.9 0.4 1.1 0.4 0.9 0.6 1.1 0.6 1 0.8 0.7 0.8 0.7 1 0.4 1 0.3 1 0 1 -0.2 1 -0.4 1 -0.5 0.9 -0.6 0.9 -0.6 1 0.5 0.9 1 -0.1 1 -0.1 1 -0.1 1 -0.1 1 0 1 0.1 1 0.1 1 0.2 1 0.3 1 0.3 1 0.4 1 0.3 1 0.5 1 0.5 0.9 0.5 1.1 0.7 1 0.8 0.7 0.7 0.7 1.1 0.3 1 0.1 1 -0.3 1 -0.5 1 -0.7 0.7 -0.9 0.7 -0.9 0.5 -1.1 0.5 -0.9 0.4 -1.1 0.3 -1 0.2 -1 0.2 -1 0.2 -1 0.2 -1 0.2 -1 0.1 -1 0.1 -1 0 -1 0 -1 -0.1 -1 -0.1 -1 -0.2 -1 -0.2 -0.9 -0.2 -1.1 -0.3 -1 -0.3 -1 -0.5 -1 -0.7 -0.8 -0.7 -0.8 -1 -0.5 -1 -0.3 -1 0 -1 0.2 -1 0.3 -1 0.1 -1 -1.2 -0.2 -1 0.3 -1 0.4 -1 0.4 -1 0.4 -1 0.4 -1 0.4 -1 0.4 -1 0.5 -0.8 0.7 -0.3 1 0.5 1 0.9 1 0.7 0.9 0.6 0.8 0.2 1 -0.4 1 -0.8 0.8 -1 0.4 -1 0.2 -1 0.2 -1 0.1 -1 0 -1 0.1 -1 0 -1 0 -1 0 -1 0 -1 0 -1 0 -1 0.1 -1.1 0 -1 0 -0.9 0 -1 0 -1 0 -1 -0.1 -1.1 0 -0.9 0 -1 0 -1 0 -1 0 -1 0 -1 0 -1 0 -1 0 -1 0 -1 -0.1 -1 -0.1 -1 -0.3 -1 -0.3 -1 -0.5 -1 -0.4M36.5 350.4l1 -0.1 1 0 1 0 1 0 1 0 1 0 1 0 1 0 1 0 1 0 1 0 1 0.1 1 0.2 1 0.2 1 0.3 1 0.3 1 0.4 1 0.4 1 0.4 1 0.5 1 0.5 1 0.6 0.8 0.6 0.8 0.8 0.6 1 0.2 1 -0.1 1 -0.3 1 -0.6 1 -0.8 1 -0.8 0.7 -0.8 0.6 -1 0.7 -0.9 0.6 -0.9 0.4 -1 0.6 -1.1 0.4 -1.1 0.5 -1 0.5 -1 0.4 -1 0.5 -1 0.4 -0.9 0.3 -1.1 0.4 -1 0.3 -1 0.4 -0.9 0.3 -1 0.6 -0.8 0.7 -0.6 1 -0.1 1 0.2 1 0.4 1 0.2 1 -0.5 1 -1 0.5 -1.1 0.2 -1 0.2 -1 0 -1 0.1 -1 0 -1 0 -1 0 -1 0.1 -1 0 -1 0 -1 0 -1 -0.1 -1 0 -1 -0.1 -1 0 -1 -0.1 -1 0 -1 0 -1 0 -1 0 -1 0 -1 -0.1 -1 -0.1 -1 -0.1 -1 -0.4 -0.9 -0.6 -0.6 -0.9 -0.3 -1.1 -0.2 -1 0 -1 -0.1 -1 0 -1 0 -1 0 -1 0 -1 0 -1 0 -1 0 -1 0 -1 0 -1 0 -1 0 -1 0 -1 0 -1 0 -1 -0.1 -1 0 -1 0.1 -1 0.3 -1 0.8 -0.9 1 -0.6 1 -0.2 1 -0.1 1 -0.1 1 0 1 0 1 -0.1 1 0 1 -0.1 1 -0.1 1 -0.1 1 -0.1 1 -0.1 1 -0.1 1 0 1 0 1 -0.1 1 0 1 -0.1 1 0 1 -0.1 1 0 1 -0.1zM65.7 365.6l1 0.1 1 0.1 1 0.2 1 0.2 1 0.3 1 0.4 1 0.4 1 0.5 1 0.6 1 0.7 0.7 0.7 0.7 1.1 0.1 1 -0.3 1 -0.7 0.8 -1 0.7 -1 0.5 -1 0.4 -1 0.3 -1 0.2 -1 0.2 -1 0.2 -1 0.1 -1 0.2 -1 0 -1 0 -1 0 -1 -0.1 -1 -0.2 -1 -0.2 -1 -0.2 -1 -0.3 -1 -0.4 -1 -0.6 -1 -0.9 -0.6 -1 -0.2 -1 0.2 -1 0.5 -1 0.7 -0.7 0.9 -0.7 0.9 -0.6 1.1 -0.4 1 -0.4 1 -0.4 1 -0.3 1 -0.2 1 -0.2 1 -0.1z" fill="none" stroke="#111" stroke-width="0.7" stroke-linejoin="round"/>
<path d="M44.7 351.9l1 -0.1 1 0 1 0 1 0.1 1 0.1 1 0.3 1 0.3 1 0.5 1 0.5 1 0.4 1 0.5 1 0.5 1 0.6 0.7 0.7 0.6 1.1 0.1 1 -0.4 1 -0.6 1 -0.8 0.8 -0.9 0.7 -1 0.7 -0.8 0.6 -0.9 0.4 -1 0.5 -1 0.5 -1 0.4 -1 0.4 -1 0.3 -1 0.4 -1 0.2 -1 0.3 -1 0.2 -1 0.3 -1 0.3 -1 0.3 -1 0.3 -1 0.3 -1 0.5 -0.8 0.6 -0.7 0.9 -0.5 1.1 -0.4 1 -0.9 0.9 -1 0.6 -1 0.3 -1 0.3 -1 0.2 -1 0.1 -1 0.1 -1 -0.2 -1 -0.2 -1 -0.5 -0.8 -0.6 -0.8 -0.8 -0.7 -1 -0.1 -1 0.4 -1 0.8 -0.9 0.8 -1 0 -1.1 -0.6 -0.9 -0.6 -0.8 -0.8 -1 -0.5 -1 -0.5 -1 -0.5 -1 -0.5 -1 -0.3 -1 0.1 -1 0.6 -0.9 1 -0.8 1 -0.6 1 -0.4 1 -0.4 1 -0.4 1 -0.4 1 -0.3 1 -0.3 1 -0.2 1 -0.2 1 -0.1 1 -0.2 1 -0.1 1 -0.1 1 -0.1 1 -0.1 1 -0.1 1 0 1 -0.1 1 -0.1 1 0 1 -0.1zM64.5 367.4l1 -0.2 1 0 1 0 1 0.2 1 0.2 1 0.3 1 0.5 1 0.5 1 0.7 0.7 1 0.2 1 -0.6 1 -1 0.8 -1 0.5 -1 0.4 -1 0.2 -1 0.2 -1 0.1 -1 0.1 -1 0 -1 0 -1 -0.1 -1 -0.2 -1 -0.2 -1 -0.3 -1 -0.4 -0.9 -0.5 -0.7 -0.8 -0.3 -1 0.3 -1 0.9 -0.9 0.9 -0.6 1.1 -0.4 1 -0.4 1 -0.3 1 -0.3zM46.2 352.6l1 0 1 0 1 0.1 1 0.2 1 0.4 1 0.5 1 0.6 1 0.5 1 0.5 0.9 0.5 0.9 0.6 0.7 0.9 0.2 1 -0.4 1 -0.5 0.9 -0.8 0.8 -1 0.8 -1 0.7 -1 0.6 -1 0.4 -1 0.5 -1 0.3 -1 0.3 -1 0.3 -1 0.2 -1 0.2 -1 0.2 -1 0.2 -1 0.2 -1 0.3 -1 0.2 -1 0.1 -1 0.1 -1 0 -1 0 -1 -0.2 -1 -0.4 -1 -0.7 -1 -0.6 -1 -0.6 -1 -0.4 -1 -0.5 -1 -0.6 -0.8 -0.8 -0.4 -1 0.1 -1 0.3 -1 0.5 -1 0.5 -0.9 0.7 -0.8 0.9 -0.8 0.9 -0.5 1.1 -0.4 1 -0.2 1 -0.2 1 -0.2 1 -0.1 1 -0.1 1 -0.2 1 -0.1 1 -0.1 1 -0.2 1 -0.1 1 -0.1 1 -0.1 1 -0.1zM65.2 368.1l1 -0.1 1 0 1 0.1 1 0.2 1 0.4 1 0.6 0.9 0.9 0.4 1 -0.3 0.9 -0.8 0.7 -1 0.6 -1 0.3 -1 0.2 -1 0.1 -1 0.1 -1 0 -1 -0.1 -1 -0.1 -1 -0.2 -1 -0.3 -0.9 -0.5 -0.8 -0.7 -0.3 -1 0.6 -0.9 0.8 -0.7 1.1 -0.4 1.1 -0.5 1 -0.3 1 -0.2zM45.7 353.6l1 -0.1 1 0 1 0 1 0.2 1 0.4 0.9 0.5 0.8 0.6 1 0.7 0.8 0.6 0.8 0.7 0.7 0.8 0.1 1.2 -0.5 1 -0.9 0.9 -0.8 0.8 -0.9 0.5 -0.9 0.5 -1.1 0.4 -1 0.4 -1 0.2 -1 0.2 -1 0.2 -1 0.1 -1 0 -1 0.1 -1 0.1 -1 0.1 -1 0 -1 0 -1 -0.2 -1 -0.3 -1 -0.4 -0.9 -0.6 -0.8 -0.7 -1 -0.8 -0.8 -0.7 -0.7 -0.8 -0.3 -1 0.3 -1 0.7 -1 0.8 -0.6 1 -0.4 1 -0.4 1 -0.3 1 -0.3 1 -0.2 1 -0.2 1 -0.2 1 -0.2 1 -0.2 1 -0.3 1 -0.1zM65.5 369.1l1 -0.1 1 0 1 0.2 1 0.4 1 0.8 0.2 1 -0.6 0.9 -1 0.5 -1.1 0.2 -0.9 0.1 -1 0 -1 0 -1 -0.2 -1 -0.3 -1 -0.6 -0.2 -1.1 0.9 -0.7 1 -0.5 1 -0.4zM46.5 354.6l1 -0.1 1 0 1 0.3 1 0.5 1 0.9 0.7 0.7 0.6 0.9 0.5 1 0 1.1 -0.5 1 -0.7 0.6 -1 0.6 -1 0.4 -1 0.3 -1 0.1 -1 0.1 -1.1 -0.1 -0.9 0 -1 -0.1 -1 -0.1 -1 -0.1 -1 -0.1 -1 -0.1 -1 -0.3 -1 -0.5 -0.8 -0.7 -0.4 -1 0 -1 0.5 -1 0.9 -0.7 1 -0.5 1 -0.4 1 -0.2 1 -0.3 1 -0.3 1 -0.3 1 -0.3 1 -0.2zM47.2 356.1l1 0 1 0.5 0.8 0.7 0.5 1 0.1 1.1 -0.4 0.9 -1 0.6 -1 0.1 -1 -0.1 -1 -0.3 -1 -0.2 -1 -0.3 -1 -0.2 -1 -0.4 -0.1 -1.1 1 -0.5 1.1 -0.5 1 -0.5 1 -0.5 1 -0.3z" fill="none" stroke="#2a2a2a" stroke-width="0.55" stroke-linejoin="round"/>
<path d="M116.6,346.5C117.6,356 117.6,368 117,378" fill="none" stroke="#000" stroke-width="7.5" stroke-linecap="round" stroke-linejoin="round" opacity="0.3"/>
<path d="M116.8,346.5C117.6,356 117.6,368 117,378" fill="none" stroke="#000" stroke-width="4.4" stroke-linecap="round" stroke-linejoin="round" opacity="0.95"/>
<path d="M52,311L58,321 66.5,331 73.5,342 76,350" fill="none" stroke="#000" stroke-width="1.6" stroke-linecap="round" stroke-linejoin="round" opacity="0.55"/>
<path d="M84,379.5L90,377.3 100,376.4 123,376.2 123,380 84,380Z" fill="#000" stroke="none" opacity="0.95"/>
</g>
<path d="M23.70,258.90H145.00V379.90" fill="none" stroke="#000" stroke-width="1.4"/>
<path d="M23.70,258.20V380.95" fill="none" stroke="#000" stroke-width="2.5"/>
<path d="M23.70,379.90H145.70" fill="none" stroke="#000" stroke-width="2.1"/>
<path d="M23.70,379.90h-3.4M23.70,379.90v3.4M23.70,370.79h-2.0M32.83,379.90v2.0M23.70,365.47h-2.0M38.17,379.90v2.0M23.70,361.69h-2.0M41.96,379.90v2.0M23.70,358.76h-2.0M44.90,379.90v2.0M23.70,356.36h-2.0M47.30,379.90v2.0M23.70,354.34h-2.0M49.33,379.90v2.0M23.70,352.58h-2.0M51.09,379.90v2.0M23.70,351.03h-2.0M52.64,379.90v2.0M23.70,349.65h-3.4M54.02,379.90v3.4M23.70,340.54h-2.0M63.15,379.90v2.0M23.70,335.22h-2.0M68.49,379.90v2.0M23.70,331.44h-2.0M72.28,379.90v2.0M23.70,328.51h-2.0M75.22,379.90v2.0M23.70,326.11h-2.0M77.62,379.90v2.0M23.70,324.09h-2.0M79.65,379.90v2.0M23.70,322.33h-2.0M81.41,379.90v2.0M23.70,320.78h-2.0M82.96,379.90v2.0M23.70,319.40h-3.4M84.35,379.90v3.4M23.70,310.29h-2.0M93.48,379.90v2.0M23.70,304.97h-2.0M98.82,379.90v2.0M23.70,301.19h-2.0M102.61,379.90v2.0M23.70,298.26h-2.0M105.55,379.90v2.0M23.70,295.86h-2.0M107.95,379.90v2.0M23.70,293.84h-2.0M109.98,379.90v2.0M23.70,292.08h-2.0M111.74,379.90v2.0M23.70,290.53h-2.0M113.29,379.90v2.0M23.70,289.15h-3.4M114.67,379.90v3.4M23.70,280.04h-2.0M123.80,379.90v2.0M23.70,274.72h-2.0M129.14,379.90v2.0M23.70,270.94h-2.0M132.93,379.90v2.0M23.70,268.01h-2.0M135.87,379.90v2.0M23.70,265.61h-2.0M138.27,379.90v2.0M23.70,263.59h-2.0M140.30,379.90v2.0M23.70,261.83h-2.0M142.06,379.90v2.0M23.70,260.28h-2.0M143.61,379.90v2.0M23.70,258.90h-3.4M145.00,379.90v3.4" fill="none" stroke="#000" stroke-width="1.1"/>
<clipPath id="clip2"><rect x="184.5" y="258.9" width="121.10000000000002" height="121.0"/></clipPath>
<g clip-path="url(#clip2)">
<path d="M215 370.5h0M242.4 336h0M218 359.6h0M203.6 353.6h0M207.7 345.1h0M297.4 363.1h0M201.3 348.7h0M211.7 353.4h0M233.3 336.3h0M218.3 349.2h0M200.3 361.3h0M267.8 300.1h0M230.5 330.8h0M262.3 298.4h0M249.4 313h0M293.2 327.7h0M208.8 358.6h0M211.9 342.7h0M221.1 345.4h0M262.8 299.8h0M217.2 333.6h0M254.1 306.8h0M237.9 331.7h0M231 313.2h0M209.7 362.7h0M289.4 321.5h0M241.3 335h0M269.3 299.7h0M208.1 365h0M195.8 372.6h0M212.2 360.8h0M239.5 329.6h0M286.7 336.3h0M271.6 299h0M224.9 330.1h0M238.8 333.8h0M214.7 350.8h0M219.9 348.3h0M210 344.7h0M214.6 359.2h0M221.8 314.2h0M200.7 338.9h0M283.2 309.8h0M284.6 353.6h0M204.1 369.9h0M211.6 368.7h0M285.9 307.2h0M209 356.7h0M278.4 297.5h0M194.3 374.7h0M222 346.6h0M286.3 355.5h0M225.7 342.8h0M287.6 333.4h0M282.5 305.6h0M212.4 363.6h0M206.6 328.2h0M199.4 366.2h0M292.4 335.4h0M215 369.9h0M252.6 325.3h0M214.8 340.9h0M237.7 332.4h0M240.9 334.9h0M213.9 349.7h0M241.3 337.1h0M300.3 304h0M257.5 306.2h0M252.7 324.8h0M215.5 360.6h0M201.1 341.5h0M194.4 350.7h0M252.3 318.6h0M257.2 306.2h0M253.5 313.9h0M206.7 331.8h0M285.6 341.9h0M210.9 320.9h0M237.9 306.4h0M231.1 334.2h0M205 369h0M210.4 344.4h0M203 342.1h0M213.6 368.3h0M215.7 343.5h0M240.7 305.2h0M205.9 357.9h0M211.8 345.5h0M209.8 377.8h0M255.2 303.1h0M225.8 343.2h0M253.3 314.3h0M289.5 344.2h0M219.5 352.7h0M290.5 322.8h0M250.1 305.9h0M224.3 319.3h0M288.4 356.9h0M267.2 299.5h0M214.2 331.3h0M285.1 323.3h0M216.9 348.4h0M254.4 308.8h0M215 365.7h0M252 299.3h0M262.6 300.3h0M215.8 348.6h0M230.9 336.1h0M209.5 338.9h0M294.2 368.4h0M214.4 357.9h0M274.5 297.9h0M188.7 366.8h0M211.3 364.6h0M214.7 372.1h0M213.1 363h0M244.7 337.3h0M285.2 326.9h0M287.2 328.1h0M215.3 326.5h0M224.3 339.2h0M220.2 344.6h0M252.6 330.3h0M248.4 336.9h0M286.9 354h0M216.9 372.6h0M252.2 319.9h0M246.5 313.7h0M251.7 315.2h0M219.7 343.2h0M212.9 339h0M229.3 329.6h0M252.4 313.4h0M201 361h0M285.9 362.7h0M206.3 337.3h0M287.6 311.2h0M211.8 343.6h0M215.2 373.8h0M193.9 331.6h0M256.9 302.1h0M242.4 321.3h0M288.3 348.9h0M236 321.4h0M210 372.5h0M274.8 301.4h0M221.3 346.7h0M205.8 361.8h0M219.9 344.6h0M282.7 302.9h0M202.4 360.2h0M211.6 360.4h0M285 310.9h0M212.2 357.3h0M206.3 337.6h0M287.5 353.4h0M229.3 330.7h0M296.3 345.9h0M251.7 311h0M218.3 368.2h0M278 301.3h0M219.6 335.3h0M200.2 342.8h0M284.3 376.1h0M247.2 327.9h0M257.9 304.9h0M234.2 339h0M287.2 316.4h0M250.3 322h0M240.4 338.6h0M260.6 300.8h0M218.7 368.9h0M248.8 322.3h0M206.2 338.2h0M201 374.4h0M284.7 313.6h0M213.8 363.1h0M212.8 355.1h0M199.6 373.6h0M222.2 345.2h0M207.9 356.3h0M236.7 339.1h0M288.1 364.5h0M224.9 336.7h0M193.8 368.9h0M214.4 349.4h0M193.7 350.9h0M239.5 330.8h0M235.7 307.1h0M200.4 327.9h0M251.4 312.8h0M217 364.6h0M250.1 305.2h0M282 303.3h0M237.8 297.6h0M237.5 337.9h0M253.9 293.4h0M240.5 331.1h0M219.6 342.7h0M209.8 376.5h0M230.6 341.1h0M289.4 310.2h0M242.9 332h0M217.5 337.5h0M287.3 370h0M290 323.9h0M254 304h0M251.8 313.5h0M247.9 332.9h0M286.3 330.3h0M270.3 300.3h0M227.7 328.5h0M286.1 360.7h0M285.7 349.4h0M220.6 332.1h0M286.9 337.1h0M196.3 341.2h0M193.3 361.3h0M297.4 355.3h0M229.5 339.7h0M218 359.5h0M189.7 325.3h0M217 343.6h0M194.6 367.3h0M299 335.8h0M209.3 303.7h0M256.4 302.4h0M218.9 352.7h0M276.2 301.2h0M198.5 342.8h0M233.1 331.9h0M285 350.2h0M212.7 373.3h0M221.2 337.6h0M214.2 371.4h0M237.8 320.4h0M264.7 298.4h0M225.6 339.9h0M223.4 345.6h0M211.8 346.4h0M291.4 334.8h0M230.9 341h0M216.9 313.7h0M198.1 352.8h0M244.6 329.2h0M223.2 338.5h0M241.6 316.4h0M286 334.1h0M229.4 340.2h0M253.6 310.2h0M287 334.1h0M247.2 314.6h0M238.4 297.3h0M250.3 329.3h0M288.1 311.5h0M244.9 333.5h0M253.2 308.8h0M248 315.3h0M208.1 365.1h0M220.2 345.5h0M208.4 352.4h0M230.7 327.7h0M265.1 301.1h0M281.9 307.8h0M237.5 334.4h0M192.7 360.9h0M270.4 296h0M248.4 323.8h0M208.9 343.6h0M237.7 339.2h0M287.1 338h0M215.4 347.6h0M211.5 375.4h0M212.5 345.2h0M244.3 325h0M278.5 303.1h0M286.1 347.7h0M221.1 342.7h0M243.4 330.9h0M245.5 332.1h0M205 340.3h0M287.2 359.2h0M224.5 337.1h0M198.6 331.8h0M215.3 371h0M211.8 350.1h0M256.8 305.4h0M259.2 304.8h0M240.1 338.7h0M283.9 362h0M286 330.7h0M188.3 360.8h0M213.7 315.7h0M288.1 324.3h0M283.8 309.4h0M209.5 353.2h0M216.6 346.9h0M213.7 374.6h0M215.8 358.3h0M214.2 354.9h0M228.7 341.4h0M236.4 324.1h0M286 356.7h0M218.6 369.1h0M194.6 328.8h0M224.4 328.9h0M288.1 323h0M224.5 344.4h0M234.4 337.9h0M214.8 343.9h0M208.1 327h0M210.7 346.8h0M251.3 316.7h0M283.1 376.8h0M209.4 361.1h0M286.2 326.7h0M276.5 302.7h0M215.1 338.9h0M291.7 344.4h0M264.6 302.2h0M194 357.6h0M220.4 346.4h0M238.9 337.2h0M224.3 334.1h0M216.2 374.1h0M203 344.1h0M210.7 324h0M216.1 368.4h0M300.9 336.9h0M243 313h0M290.4 332.7h0M246.4 312.2h0M285.8 339.5h0M198.5 372.8h0M243.8 336.4h0M211.1 355.3h0M246.4 330.5h0M230.6 338.2h0M234.8 336.1h0M232.1 337.9h0M286.2 342.1h0M199.8 320.6h0M211.2 378.6h0M207.7 352.1h0M214.7 372.8h0M287.5 367.8h0M214.5 344.4h0M247.1 312.4h0M238.6 339h0M221.9 339.8h0M286.2 349.3h0M245.6 309.8h0M219.1 342.6h0M285.5 339.5h0M288 328.2h0M231.5 336.8h0M255.2 307.5h0M233.4 339.3h0M204 367.2h0M228.2 332.8h0M286.5 360.7h0M232.5 340.4h0M240.5 335.7h0M209.1 355.4h0M277.4 300.4h0M214.6 374.5h0M251.9 312.8h0M286.5 316h0M238.2 321.7h0M284.6 346.9h0M284.9 337.9h0M210.3 374.5h0M193.7 372.2h0M249.5 331.1h0M218.4 371.9h0M213.2 358.3h0M237.7 330.8h0M216.8 371.7h0M214 376.8h0M195.9 343.8h0M270.6 300.6h0M193 343.9h0M255.6 305.6h0M207.3 366.7h0M199.8 334.1h0M284.7 324.6h0M215.2 356.7h0M218.8 372h0M252.2 316.2h0M205.4 343.3h0M284.7 322.4h0M214.6 360.2h0M247.2 317.3h0M239.6 336.4h0M285.6 317h0M238.2 323.1h0M286.1 362.5h0M188.1 371.9h0M239.1 332.4h0M289.2 336.7h0M215 375.5h0M216.8 365.2h0M216.1 370.8h0M284.4 305.5h0M216.9 360.4h0M281.1 304.4h0M215.7 354.9h0M283.6 311.4h0M221.4 346.2h0M214 377.1h0M249.5 330.8h0M283.3 310.2h0M224.1 345.4h0M238.7 338.5h0M214.5 317.5h0M249.6 335.4h0M238.8 334.4h0M221 333.7h0M241.6 330.6h0M216.1 370.3h0M246.9 315.4h0M219.4 348h0M283.6 374h0M285.8 365h0M212.3 356.4h0M287.1 361h0M249.9 319.3h0M213.3 343.7h0M215.6 368.4h0M250.7 311.6h0M237.2 339.1h0M204.8 332.7h0M284 367.6h0M214.5 328.2h0M194.6 360.5h0M288.6 309.4h0M241.2 336.3h0M285.7 350h0M235.8 338.9h0M291.7 329.6h0M212.9 349.5h0M205 342.6h0M201.8 334.4h0M217.8 350.6h0M194.7 357.4h0M206.6 358.1h0M214 345.8h0M210.4 345h0M252.3 328h0M261 286.1h0M217.5 326.9h0M223.7 345.4h0M206.5 346.2h0M284.3 377.8h0M219 349.8h0M214.4 365.2h0M239.1 307.1h0M294.8 353.7h0M211.9 336.9h0M298.6 336.9h0M211.1 358.5h0M214.6 367.5h0M236.9 334.6h0M203.1 338h0M238.7 311.5h0M192.9 360.6h0M237.5 291.6h0M200.1 328.9h0M220 334.4h0M285.1 344.1h0M214.6 327.9h0M214.6 321.6h0M210.6 378.5h0M216.6 367.7h0M216.8 357.2h0M209 370.9h0M222 330.8h0M222.9 324.5h0M286.3 373.3h0M205.6 357.5h0M217.7 333.2h0M252.2 327.2h0M210.9 349.9h0M218.8 342.3h0M210.2 332.4h0M287.7 366.4h0M215.6 374.2h0M220.8 348.4h0M216.5 334.4h0M288 349.7h0M199 356.9h0M248.9 314.6h0M251 326.8h0M289.3 342.8h0M232.7 322.1h0M285.6 373.3h0M220.2 340.8h0M205.5 335.3h0M218.5 350.3h0M252.4 329.5h0M245.5 329.5h0M244.9 337.8h0M287.2 377.4h0M215 372h0M194.2 373.8h0M273.2 300h0M208.6 358.8h0M297.2 338.8h0M288 362.8h0M213.4 350.7h0M283.5 376.9h0M202.4 372.4h0M224.3 343.4h0M224.7 329.8h0M299.5 337.3h0M258.8 294.4h0M285.9 301.2h0M228.9 318h0M213 361.4h0M213.5 351.2h0M285.3 331h0M296.1 370.6h0M252 327.7h0M294.7 294h0M290.3 282.9h0M299.3 308.7h0M207.5 353.2h0M186.9 268.5h0M245.9 306.1h0M221 309h0M186.6 342.4h0M245.6 304.2h0M285.2 264.9h0M192.1 323.7h0M220.9 287.2h0M232.1 310h0M211.6 361.5h0M194.6 324.4h0M263.4 286h0M298 372.3h0M222.2 344.5h0M290.2 318.3h0M298.6 365h0M224.3 330.5h0M207.5 330.4h0M291.5 346.1h0M215.4 343.8h0M238.7 287.6h0M205.6 362.5h0" fill="none" stroke="#707070" stroke-width="0.65" stroke-linecap="round"/>
<path d="M264.9 319.4h0M261.9 369.2h0M274.1 314h0M276.8 329.6h0M265.3 323h0M274 322.8h0M269.4 368.8h0M267.5 322.2h0M246.9 352.6h0M277.2 319h0M271.8 334.3h0M266.4 344.5h0M273.6 351h0M260.6 371.9h0M278.7 350h0M265.9 344.5h0M243.9 350h0M269.6 354.1h0M261.3 318.6h0M278.3 318.7h0M264 370.2h0M274.4 372.3h0M236.5 347.6h0M275 364h0M274.8 358.8h0M260.9 326.1h0M275.2 356.2h0M265.6 344.2h0M236.8 366.7h0M253.3 351.5h0M278.7 324.6h0M262.4 342.8h0M273.8 329.9h0M274.3 322.6h0M255.8 353.1h0M231.5 362.6h0M241.8 364h0M266.3 340.5h0M279.4 320.2h0M266.1 338.2h0M254.6 353.9h0M277.6 333.9h0M244.2 371.8h0M237.6 367.5h0M262.9 348.8h0M236.2 374.5h0M276.8 321.8h0M263.8 355h0M278.6 348.8h0M261.1 356.6h0M276.8 321.5h0M277.6 320.9h0M272 368.1h0M272 319.2h0M274.5 322h0M268 320.3h0M227.2 353.7h0M254.8 374.5h0M267 339.4h0M260.2 330.1h0M269.4 320.4h0M276.6 310.8h0M275.9 336.4h0M239.4 361.2h0M268.9 331.6h0M274.9 319.1h0M255.5 372.5h0M273.2 376h0M271.9 329.7h0M261.8 323.6h0M238.6 358.4h0M278.5 343h0M251.5 364h0M264 341.4h0M246.8 358.2h0M261 323.1h0M244.1 356.1h0M234.6 347.1h0M272.9 327.7h0M275.2 370.7h0M279.9 340.8h0M270 319.3h0M236.4 368.9h0M276.5 308.7h0M272.5 321h0M272.6 338.1h0M273.1 344.5h0M273.3 354.9h0M245.5 347.7h0M237.6 359.3h0M275.6 375.4h0M270.5 343.5h0M260.3 349.6h0M273.4 352.4h0M267 331.4h0M269.5 327.4h0M278.5 320.7h0M271.7 310.2h0M261.6 347.8h0M225.8 352.6h0M247.4 354.5h0M270.2 318.7h0M250.6 345.1h0M272.3 354h0M271 359.6h0M265.2 370h0M265.9 326.8h0M270.1 370.9h0M264.3 330.9h0M274.6 351.4h0M273.5 328.7h0M256.8 340.4h0M263.9 366.3h0M244.2 376.2h0M271.5 317.2h0M277.7 336.3h0M229.5 361.9h0M263 367.8h0M276.1 340.5h0M258.8 358h0M248.9 357.8h0M261.6 332.5h0M276 354.2h0M261 371.9h0M269.6 350.3h0M269.4 351.6h0M249.7 352.7h0M261.8 370.2h0M275 337.6h0M275 325.8h0M271.2 351.2h0M271.4 342h0M260.6 331.2h0M275.4 322.4h0M225 358h0M275.5 321.3h0M254.8 360.2h0M273.2 352.5h0M260.6 334.8h0M268.8 345.3h0M241.3 376.4h0M265.4 340.9h0M274.4 314.7h0M268.7 345.7h0M265.6 352.9h0M243.4 372.4h0M262 331.9h0M269.3 351.2h0M256.9 364.8h0M273.6 337.4h0M237 373.3h0M228.9 354.6h0M251.7 344.4h0M269.7 358.2h0M275.4 327.2h0M277.6 343.1h0M261.6 364.4h0M276.8 319.9h0M227.3 359.5h0M241.3 349.6h0M261 346.7h0M267.1 349.4h0M272.8 340.6h0M268.8 328.6h0M271.4 315.4h0M277.1 326.7h0M263.6 333.4h0M264.3 321.8h0M264.6 369.9h0M259.8 366.5h0M267.7 345.2h0M275.2 368.4h0M240.6 372.5h0M241.7 353h0M272.4 314h0M273.9 350.5h0M245.8 354.8h0M264.6 362.2h0M274.8 346.9h0M273.6 325.7h0M260.6 311.7h0M276.7 327.6h0M243.5 350h0M269 342.1h0M251.5 377.2h0M246 349.6h0M267.9 352.2h0M265.4 309.4h0M266 341.2h0M262.6 321.4h0M267.1 318.6h0M229.3 371.1h0M270.3 344.4h0M265.6 348.2h0M242.3 367.2h0M226.5 367.8h0M272.1 323.7h0M243.6 358.4h0M272.1 318.8h0M268.6 324.2h0M270.5 348.2h0M259.7 329.3h0M242.5 357.4h0M279.4 325.4h0M269 318.7h0M276.4 327h0M274.4 329h0M273.3 322.9h0M271.2 348.3h0M276.2 325.9h0M272 344h0M236.1 374.1h0M264.5 309.5h0M268.7 374.2h0M248.8 365.6h0M246.1 367.1h0M227.2 354.5h0M265.3 323.7h0M273.1 327h0M279.8 336.1h0M262.2 357h0M257.3 351.8h0M236.9 359.3h0M278.6 354.9h0M266.2 333h0M273.6 337.4h0M267.8 326.4h0M258.6 348.5h0M274.8 336.3h0M269.2 367.9h0M261.7 353.5h0M271.1 352.7h0M265.2 345.1h0M236.5 372.2h0M272.6 331.4h0M266.6 361.7h0M245.8 347.1h0M265.4 324h0M260.9 348.8h0M278.2 329.9h0M242.4 368.7h0M258.3 357.2h0M274.6 348.9h0M258.6 341.5h0M275.7 356.9h0M233.9 352.8h0M278.5 354.9h0M248.4 364.1h0M238.8 374.6h0M268.2 344.6h0M276.5 323.5h0M235.2 364.5h0M271.8 342.3h0M224.4 358.7h0M272.2 331.8h0M277.7 315.6h0M233.9 370h0M276.7 328.3h0M249.5 348.1h0M239.8 369.3h0M266.9 359.7h0M257.8 373.1h0M264.9 338.4h0M267.3 350h0M260.9 330.4h0M274.6 320.4h0M280 319.8h0M270.3 377h0M268.3 353.4h0M260.4 326.8h0M266.5 352.7h0M255.7 359.6h0M274.8 349.8h0M236.5 355.9h0M266.3 330.2h0M226.1 363.5h0M265.4 339.4h0M225.5 365.7h0M244.3 356.6h0M254.5 353.1h0M277.7 333.5h0M275.5 346h0M276.9 360.5h0M247.8 369.5h0M260.6 337h0M267.2 375.4h0M245.7 346.7h0M260.4 327.4h0M274.4 329.2h0M232.2 374.7h0M255.1 377h0M247.2 345.1h0M250 361.1h0M265.6 362.2h0M252.4 365.5h0M278.3 315.6h0M270.6 332.1h0M259 364.3h0M263.7 350.9h0M260.8 341.1h0M274.9 324.4h0M275.2 338.4h0M274.2 338.6h0M264.9 325.6h0M267.7 346h0M262.9 373.9h0M264.4 342.6h0M275.3 323.5h0M237.7 374.6h0M268.8 347.1h0M237.9 351.7h0M263.6 320.6h0M270.4 325.4h0M242.4 356.4h0M238.8 344.4h0M276.4 348.4h0M268.4 363h0M271.5 363.1h0M267.2 322.1h0M259 329.3h0M239.2 375.7h0M269.8 346h0M257.8 377.6h0M271.6 345.4h0M247.2 350h0M276.8 331.5h0M248.9 361h0M278 345.2h0M264.5 334.6h0M268.4 321.6h0M276.3 332.7h0M268.6 355.3h0M255.3 356.3h0M276 347.1h0M256 351.3h0M275.4 358.6h0M238.9 368h0M239.5 362.3h0M272.2 344.7h0M263.5 341.1h0M275.2 312.3h0M254.5 357.6h0M263.1 313.7h0M264.6 348.4h0M271.6 325.8h0M270.7 366h0M236 364.1h0M246 354.4h0M270.6 325.6h0M261 313.1h0M276 331.3h0M278.2 322.5h0M258.2 340.1h0M261.9 349.6h0M269.5 357.8h0M259.4 337.9h0M270.5 339.6h0M237.2 359.6h0M273.6 328.7h0M267.7 356.7h0M261.4 358.1h0M272.7 316.9h0M260.3 336.9h0M268 307.8h0M256.6 337h0M238.4 368.8h0M271.8 357.1h0M241.6 371h0M272.7 349.9h0M232.9 347.7h0M277.9 344.9h0M275.5 372.9h0M274.3 327.3h0M245.1 354.1h0M279.6 319.1h0M243.1 352.1h0M241.6 356.7h0M265.2 368.3h0M276.7 337.9h0M233.2 349.9h0M257.3 349.4h0M275.5 339.6h0M263.9 361.4h0M237.5 351.4h0M273.8 333.5h0M272.2 365.1h0M266.2 376.6h0M235.4 367.4h0M277.6 321.2h0M271.9 347.6h0M272.4 334.4h0M279.3 333h0M273.7 327.4h0M271.8 345h0M272.4 367.4h0M271.9 315.8h0M273.6 335.2h0M265.8 321.5h0M279.9 315.2h0M229.2 359h0M272 358.4h0M265 330.8h0M227.2 350.7h0M267.2 348.5h0M275.2 332.8h0M275.6 326.3h0M273.3 320.1h0M234.9 363.5h0M257.9 341.7h0M272.6 317.2h0M276.6 332h0M271.3 328h0M271.1 357.2h0M256.2 348.1h0M276.2 350.6h0M265.9 331.2h0M271.3 310.3h0M267.5 345.2h0M271 316.5h0M275.2 343.1h0M246.4 357.6h0M250.9 359.4h0M237.6 368.8h0M266 372.6h0M227.7 353.5h0M246.5 355.9h0M239.6 355.3h0M257.3 374.1h0M275.3 326.7h0M266.7 357.4h0M273.5 312.2h0M250.2 354.3h0M236.6 367.7h0M229.7 366.5h0M276.8 333.7h0M275.1 371.4h0M269.6 359.1h0M272.1 332.1h0M265.7 355.6h0M246.8 358.9h0M264.9 348.7h0M261.7 359.8h0M242.4 371h0M275.9 319.8h0M274.9 326.6h0M274 375.3h0M246.5 344.9h0M274.7 338.5h0M270.3 334.4h0M257.1 371h0M266.5 314.5h0M258.8 316.4h0M224.3 361.7h0M276.9 334.5h0M267.3 348.2h0M271.5 333.2h0M267 355.1h0M271 307.2h0M266.9 353.3h0M261.2 329.5h0M239.1 357.4h0M267.1 324.3h0M234.3 362.2h0M234.6 354.9h0M273.8 328.9h0M279 319.2h0M258.7 339.4h0M277.5 333.7h0M247.9 345.7h0M268.3 347.1h0M240.8 357.8h0M240 364.7h0M246.4 359.9h0M261 331.8h0M245.9 357.7h0M274.9 363.4h0M264.3 371.8h0M249.9 370.1h0M238.1 367.2h0M238.7 356.7h0M268.1 324.3h0M247.6 369.1h0M275.8 346.3h0M265 355.6h0M273.2 354.4h0M242.4 360.3h0M264.3 369.4h0M270.7 347.3h0M278.1 323.3h0M269.7 335.9h0M272.9 332.7h0M271 320.4h0M251.2 366.9h0M270 359h0M242.8 370h0M278.2 332h0M261.2 360h0M274.5 335.3h0M277.6 355.7h0M244.7 376.5h0M266.6 327.8h0M256.3 359.3h0M275.3 312.6h0M267.8 373.1h0M274.3 348.5h0M252.8 355.6h0M249.6 369.6h0M279.3 356.9h0M271.4 372.4h0M254.2 349.6h0M272.1 372.4h0M266.2 357.7h0M245.6 355.4h0M244.7 359.5h0M265.7 351.2h0M274.5 334.8h0M269.4 341.6h0M273.8 332.6h0M225 358.5h0M257.9 324h0M239.1 358.4h0M243.1 351.1h0M267.3 350.6h0M275.1 317.6h0M278 344.1h0M233.3 351.3h0M267.9 345.7h0M262.1 331.2h0M277.5 338.2h0M266.7 321.5h0M242.1 355.4h0M272.1 325.7h0M230 353.7h0M269.7 359.9h0M276.7 318.9h0M267.1 346.7h0M273.6 329.7h0M275.6 360h0M276.2 352.7h0M274.5 331.3h0M274.7 356.2h0M274.1 327.2h0M269.4 370.8h0M274.9 321.5h0M274.4 324.6h0M262.3 324.5h0M273.8 316.9h0M264.8 363.4h0M243.1 367.1h0M275.5 320.3h0M272.1 314.8h0M275 340.3h0M238.4 347.1h0M255.2 372.2h0M255.2 358.4h0M253.5 370.9h0M242.1 366.1h0M261.3 318.5h0M271.6 324.4h0M239.7 362.2h0M274 325.9h0M275.9 351.5h0M255.5 341.7h0M243.2 362.8h0M276.6 329.7h0M277.1 329.5h0M269.7 345.4h0M270.4 343h0M269.2 325.3h0M274.6 312.8h0M261.1 356.4h0M275.6 363.3h0M264.2 335.8h0M277.3 318.6h0M265.3 353.1h0M235.8 366.2h0M277.8 324.1h0M267.3 334.2h0M265.3 351.4h0M261.8 338.9h0M263 353.4h0M276.4 315.1h0M273.2 331.8h0M247.7 370.8h0M273.5 343.6h0M265 350.8h0M267.3 367.7h0M277.6 329.5h0M276.7 311.5h0M269.5 335.9h0M257.1 349h0M237.3 358.2h0M274.8 319.5h0M273.8 332.9h0M276.8 326.8h0M278.2 319.7h0M266.8 351.4h0M275.1 334.7h0M267.1 338.9h0M262.8 348.7h0" fill="none" stroke="#666" stroke-width="0.7" stroke-linecap="round"/>
<path d="M268.2 302.1l1 0 1 0 1 0.1 1 0.1 1 0.1 1 0.1 1 0.2 1 0.3 1 0.5 1 0.7 0.8 0.6 0.8 0.8 0.7 0.8 0.7 1 0.7 1 0.5 1 0.4 1 0.3 1 0.3 1 0.2 1 0.2 1 0.2 1 0.1 1 0.1 1 0.1 1 0.1 1 0 1 0 1 0 1 0.1 1 0 1 0 1 0.1 1 0 1 0 1 0.1 1 0 1 0 1 0 1 0.1 1 0 1 0 1 0 1 -0.1 1 0 1 0 1 -0.1 1 0 1 0 1 0 1 -0.1 1 0 1 0 1 0 1 -0.1 1 0 1 -0.1 1 0 1 -0.1 1 0 1 -0.1 1 0 1 -0.1 1 0 1 -0.1 1 0 1 -0.1 1 -0.1 1 -0.1 1 -0.1 1 -0.1 1 0 1 -0.1 1 0 1 0 1 0 1 -0.1 1 0 1 0 1 -0.1 1 -0.1 1 -0.1 1 -0.1 1 -0.2 1 -0.3 1 -0.3 1 -0.5 1 -0.6 1 -0.9 1 -1 0.7 -1 0.5 -1 0.4 -1 0.3 -1 0.2 -1 0.1 -1 0 -1 0 -1 0 -1 0 -1 0 -1 0 -1 0 -1 0 -1 0 -1 0 -1 0 -1 0 -1 -0.1 -1 0 -1 0 -1 0 -1 0.1 -1 0 -1 0 -1 0 -1 0 -1 0.1 -1 0 -1 0 -1 0 -1 0 -1 0 -1 -0.1 -1 0 -1 0 -1 0 -1 0 -1 0 -1 0 -1 0 -1 0 -1 0 -1 -0.1 -1 0 -1 0 -1 0 -1 0 -1 0.1 -1 0 -1 0 -1 0 -1 0 -1 0 -1 0 -1 0 -1 0 -1 0 -1 -0.1 -1 -0.2 -1 -0.2 -1 -0.3 -1 -0.4 -0.9 -0.5 -0.9 -0.7 -0.6 -1 -0.3 -1 0 -1 0.3 -1 0.4 -1 0.7 -1.1 0.8 -0.8 0.7 -0.8 0.8 -0.8 0.6 -0.8 0.6 -0.9 0.5 -1.1 0.1 -1 0 -1 -0.2 -1 -0.3 -1 -0.4 -1 -0.2 -1 -0.3 -1 -0.1 -1 -0.1 -1 -0.1 -1 0.1 -1 0 -1 0.1 -1 0.2 -1 0.2 -1 0.3 -1 0.3 -1 0.4 -1 0.4 -1 0.5 -1 0.5 -1 0.6 -1 0.5 -0.9 0.7 -0.8 0.9 -1 0.7 -0.8 0.7 -0.7 1 -0.8 1 -0.7 1 -0.7 1 -0.6 1 -0.5 1 -0.5 1 -0.3 1 -0.4 1 -0.3 1 -0.2 1 -0.2 1 -0.2 1 -0.2 1 -0.2 1 -0.1 1 -0.2 1 -0.1 1 -0.2 1 -0.1 1 -0.2 1 -0.2 1 -0.3 1 -0.3 1 -0.4 1 -0.6 1 -0.8 0.7 -1 0.3 -1 0.3 -1 0.1 -1 0.1 -1 0 -1 0 -1 0.1 -1 0 -1 0 -1 0 -1 0.1 -1 0 -1 0 -1 0.1 -1 0 -1 0.1 -1 0.1 -1 0.1 -1 0.2 -1 0.1 -1 0.2 -1 0.3 -1 0.3 -1 0.4 -1 0.4 -1 0.7 -1 0.8 -1 0.7 -0.8 0.8 -0.7 1 -0.7 1 -0.6 1 -0.6 1 -0.4 1 -0.4 1 -0.3 1 -0.3 1 -0.2 1 -0.2 1 -0.1zM267.8 304.4l1 -0.1 1 0 1 0 1 0.1 1 0.1 1 0 1 0.2 1 0.2 1 0.5 1 0.7 0.7 0.8 0.7 1 0.7 1 0.5 1 0.4 1 0.3 1 0.3 1 0.2 1 0.2 1 0.2 1 0.1 1 0.2 1 0 1 0.1 1 0 1 0 1 0 1 0 1 0 1 0.1 1 0 1 0.1 1 0 1 0 1 0 1 0 1 0 1 0 1 0 1 0 1 0 1 0 1 -0.1 1 0 1 -0.1 1 0 1 -0.1 1 0 1 0 1 -0.1 1 0 1 0 1 0 1 -0.1 1 0 1 0 1 -0.1 1 0 1 -0.1 1 0 1 -0.1 1 -0.1 1 0 1 -0.1 1 -0.1 1 -0.2 1 -0.1 1 -0.1 1 -0.1 1 -0.1 1 0 1 0 1 0 1 0 1 -0.1 1 0 1 -0.1 1 -0.2 1 -0.1 1 -0.2 1 -0.2 1 -0.4 1 -0.5 1 -0.6 0.9 -0.7 0.7 -1 0.7 -1 0.4 -1 0.2 -1 0.2 -1 0.1 -1 0 -1 0 -1 0 -1 -0.1 -1 0 -1 0 -1 0 -1 0 -1 0 -1 0 -1 0 -1 0 -1 0 -1 0 -1 0 -1 0.1 -1 0 -1 0 -1 0 -1 0 -1 0 -1 0 -1 0 -1 0 -1 0 -1 0 -1 0 -1 -0.1 -1 0 -1 0 -1 0 -1 0 -1 0 -1 0 -1 0 -1 0 -1 0 -1.1 -0.1 -1 0 -0.9 0.1 -1 0 -1 0 -1 0 -1.1 0 -0.9 0 -1.1 0 -0.9 0 -1 -0.1 -1 0 -1 -0.1 -1 -0.2 -1 -0.4 -1 -0.6 -0.8 -1 -0.1 -1 0.2 -1 0.5 -1 0.6 -0.9 0.8 -1.1 0.5 -0.8 0.5 -1.1 0.3 -1.1 0.2 -1 -0.1 -1 -0.1 -1 -0.3 -0.9 -0.3 -1.1 -0.3 -1 -0.3 -1 -0.2 -1 -0.2 -1 0 -1 0 -1 0 -1 0.1 -1 0 -1 0.2 -1 0.2 -1 0.3 -1 0.3 -1 0.4 -0.9 0.5 -1.1 0.5 -0.9 0.7 -1.1 0.8 -1 0.7 -0.7 0.7 -0.7 0.9 -0.8 0.8 -0.7 1 -0.7 0.8 -0.6 0.9 -0.5 1 -0.6 1 -0.4 1 -0.4 1 -0.3 1 -0.3 1 -0.2 1 -0.2 1 -0.2 1 -0.1 1 -0.1 1 -0.2 1 -0.1 1 -0.1 1 -0.2 1 -0.1 1 -0.2 1 -0.2 1 -0.3 1 -0.3 1 -0.4 1 -0.5 0.9 -0.6 0.8 -0.7 0.5 -0.9 0.4 -0.9 0.3 -1 0.2 -1 0.1 -1 0 -1 0.1 -1 0 -1 0 -1 0 -1 0 -1 0 -1 0.1 -1 0 -1 0.1 -1 0 -1 0.1 -1 0.1 -1 0.2 -1 0.1 -1 0.2 -1 0.2 -1 0.2 -1 0.2 -1 0.3 -1 0.4 -1 0.5 -1 0.7 -1 0.7 -0.8 0.8 -0.7 0.8 -0.6 0.9 -0.7 0.9 -0.4 0.9 -0.5 1 -0.4 1 -0.4 1 -0.3 1 -0.2zM267.5 305.9l1 -0.1 1 0 1 0 1 0 1 0 1 0 1 0 1 0.2 1 0.5 0.9 0.7 0.7 0.7 0.7 1 0.4 0.9 0.5 1.1 0.4 1 0.2 1 0.3 1 0.2 1 0.1 1 0.2 1 0.1 1 0.1 1 0 1 0 1 0 1 0 1 0 1 0.1 1 0 1 0.1 1 0 1 0 1 0 1 0 1 0 1 0 1 -0.1 1 0 1 0 1 0 1 -0.1 1 0 1 -0.1 1 -0.1 1 0 1 -0.1 1 -0.1 1 0 1 0 1 0 1 -0.1 1 0 1 0 1 0 1 0 1 0 1 -0.1 1 -0.1 1 -0.1 1 -0.1 1 -0.1 1 -0.1 1 -0.1 1 -0.2 1 -0.1 1 -0.2 1 -0.2 1 -0.1 1 -0.1 1 0 1 0 1 0.1 1 0 1 -0.1 1 -0.1 1 -0.2 1 -0.2 1 -0.2 1 -0.3 1 -0.4 1 -0.6 0.9 -0.7 0.8 -1 0.7 -1 0.4 -1 0.2 -1 0.2 -1 0 -1 0 -1 0 -1 -0.1 -1 0 -1 0 -1 0 -1 0 -1 0 -1 0 -1 0 -1 0 -1 0 -1 0.1 -1 0 -1 0.1 -1 0 -1 0 -1 -0.1 -1 0 -1 0 -1 -0.1 -1 0.1 -1 0 -1 0 -1 0 -1 0 -1 0 -1 -0.1 -1 0 -1 0 -1 0 -1 0 -1 0 -1 0 -1 -0.1 -1 0 -1 0 -1 0 -1 0 -1 0.1 -1 0 -1 -0.1 -1 0 -1 -0.1 -1 -0.1 -1 -0.1 -1 -0.2 -1 -0.5 -0.6 -1 -0.1 -1 0.2 -1 0.4 -1 0.4 -1 0.2 -1 0.2 -1 0 -1 0 -1 -0.2 -1 -0.3 -1 -0.3 -1 -0.3 -1 -0.3 -1 -0.2 -1 -0.1 -1 -0.1 -1 0 -1 0 -1 0.1 -1 0 -1 0.1 -1 0.2 -1 0.2 -1 0.4 -1 0.4 -1 0.4 -0.9 0.7 -1.1 0.6 -0.8 0.7 -0.9 0.8 -0.7 0.8 -0.7 0.7 -0.6 1 -0.8 1 -0.7 1 -0.7 1 -0.5 1 -0.4 1 -0.4 1 -0.3 1 -0.2 1 -0.3 1 -0.1 1 -0.2 1 -0.1 1 -0.1 1 -0.1 1 -0.1 1 -0.1 1 -0.2 1 -0.1 1 -0.2 1 -0.2 1 -0.3 1 -0.3 1 -0.4 1 -0.5 0.9 -0.5 0.8 -0.8 0.6 -0.8 0.4 -1.1 0.3 -1.1 0.2 -1 0.1 -1 0.1 -1 0 -1 0 -1 0 -1 0 -1 0 -1 0 -1 0 -1 0.1 -1 0 -1 0.1 -1 0.1 -1 0.1 -1 0.2 -1 0.2 -1 0.2 -1 0.2 -1 0.2 -1 0.2 -1 0.3 -1 0.4 -1 0.4 -1 0.6 -0.9 0.7 -0.8 0.8 -0.7 1 -0.8 1.1 -0.7 1 -0.5 1 -0.5 1 -0.4 1 -0.3zM273 306.9l1 -0.1 1 0 1 0.3 0.9 0.5 0.7 0.8 0.6 0.9 0.6 1 0.4 1.1 0.3 1 0.3 1 0.2 1 0.2 1 0.1 1 0.2 1 0 1 0.1 1 0 1 0 1 0 1 0.1 1 0 1 0 1 0.1 1 0 1 0 1 0 1 0 1 0 1 -0.1 1 0 1 -0.1 1 0 1 -0.1 1 0 1 -0.1 1 -0.1 1 -0.1 1 -0.1 1 -0.1 1 0 1 -0.1 1 0 1 0 1 -0.1 1 0.1 1 0 1 0 1 0 1 0 1 -0.1 1 -0.1 1 -0.1 1 -0.1 1 -0.2 1 -0.2 1 -0.2 1 -0.2 1 -0.2 1 -0.3 1 -0.2 1 -0.3 1 -0.2 1 -0.1 1 0 1 0.1 1 0.1 1 0 1 -0.2 1 -0.3 1 -0.3 1 -0.6 1 -0.6 1 -0.8 0.9 -1 0.7 -1 0.4 -1 0.2 -1 0.1 -1 0 -1 -0.1 -1 0 -1 -0.1 -1 0 -1 0 -1 0.1 -1 0 -1 0.1 -1 0 -1 0.1 -1 0 -1 0.1 -1 0 -1 0 -1 0 -1 -0.1 -1 -0.1 -1 0 -1.1 0 -0.9 0 -1 0.1 -1 0.1 -1 0 -1 0 -1 0 -1 -0.1 -1 -0.1 -1 -0.1 -1 -0.1 -1 0 -1 -0.1 -1 -0.1 -1 -0.1 -1 -0.1 -1 -0.1 -1 0 -1 0.1 -1 0.2 -1 0 -1 0 -1 -0.1 -1 -0.3 -1 -0.5 -0.6 -1 -0.1 -1 0 -1 0 -1 -0.1 -1 -0.2 -1 -0.2 -1 -0.2 -1 -0.3 -1 -0.3 -1 -0.3 -1 -0.2 -1 -0.1 -1 -0.1 -1 0 -1 0 -1 0 -1 0 -1 0.1 -1 0.1 -1 0.1 -1 0.3 -1 0.4 -1 0.5 -1 0.6 -1 0.8 -1 0.8 -0.7 0.7 -0.7 1 -0.8 0.9 -0.8 0.8 -0.6 1 -0.6 1 -0.7 1 -0.4 1 -0.4 1 -0.3 1 -0.2 1 -0.2 1 -0.2 1 -0.1 1 0 1 -0.1 1 -0.1 1 0 1 -0.1 1 -0.1 1 -0.1 1 -0.2 1 -0.2 1 -0.3 1 -0.3 1 -0.3 1 -0.4 1 -0.6 0.8 -0.7 0.7 -1 0.4 -1 0.2 -1 0.2 -1.1 0.1 -0.9 0.1 -1 0 -1 0.1 -1 0 -1 0 -1 0 -1 0 -1 -0.1 -1 0.1 -1 0 -1 0 -1 0.1 -1 0.2 -1 0.1 -1 0.2 -1 0.2 -1 0.3 -1 0.3 -1 0.2 -1 0.3 -1 0.4 -1 0.3 -1 0.6 -1 0.7 -1 0.8 -0.8 0.7 -0.6 0.9 -0.6 0.9 -0.6 1 -0.5 1 -0.5 1 -0.3 1 -0.2 1 0 1 -0.1 1 0 1 0 1 -0.1z" fill="none" stroke="#000" stroke-width="1.0" stroke-linejoin="round"/>
<path d="M274.5 307.9l1 0.1 1 0.5 0.7 0.7 0.7 1 0.4 1 0.4 1 0.3 1 0.3 1 0.2 1 0.1 1 0.2 1 0.1 1 0 1 0.1 1 0 1 0 1 0 1 0 0.9 0.1 1.1 0 1 0 1 0.1 1 -0.1 1 0 1 -0.1 1 -0.1 1 0 1 -0.1 1 -0.1 1 -0.1 1 -0.1 1 -0.1 1 -0.1 1 -0.2 1 -0.1 1 -0.2 1 -0.1 1 -0.1 1 -0.1 1 0 1 0 1 0.1 1 0 1 0 1 0.1 1 0 1 -0.1 1 -0.1 1 -0.2 1 -0.2 1 -0.3 1 -0.3 0.9 -0.3 1.1 -0.3 1 -0.4 0.9 -0.5 1.1 -0.5 0.9 -0.6 0.8 -0.9 1 -0.6 1 -0.1 1 0.3 1 0.2 1 -0.3 1 -0.7 0.7 -1 0.7 -1 0.4 -1 0.5 -1 0.4 -1 0.5 -1 0.3 -1 0.3 -1 0.2 -1 0.2 -1 0.1 -1 0.2 -1 0.2 -1 0 -1 0 -1 -0.1 -1 -0.1 -1 -0.2 -1 -0.1 -1.1 -0.1 -0.9 0 -1 0.1 -1 0.1 -1 0.1 -1 0 -1.1 0.1 -0.9 0.1 -1 0 -1 0 -1 -0.1 -1 -0.1 -1 -0.1 -1 -0.1 -1 -0.1 -1 -0.1 -1 -0.1 -1 -0.2 -1 -0.2 -1 -0.3 -1 -0.2 -1 -0.2 -1 -0.3 -1 -0.3 -1 -0.6 -0.8 -0.9 -0.6 -1 -0.4 -0.9 -0.4 -1.1 -0.3 -1 -0.3 -1 -0.1 -1 -0.1 -1 0 -1 0.1 -1 0 -1 0 -1 0 -1 0 -1 0.1 -1 0.1 -1 0.3 -1 0.3 -1 0.5 -0.9 0.8 -1.1 0.8 -0.8 0.7 -0.8 1 -0.8 1 -0.8 1 -0.7 0.9 -0.5 1.1 -0.6 1 -0.3 1 -0.3 1 -0.2 1 -0.2 1 -0.1 1 0 1 0 1 0 1 0.1 1 0 1 0 1 -0.1 1 0 1 0 1 0 1 -0.1 1 0 1 -0.2 1 -0.3 1 -0.7 0.7 -0.7 0.6 -0.9 0.5 -1 0.3 -1 0.1 -1 0.2 -1 0.1 -1 0 -0.9 0 -1.1 0 -1 0 -1 0 -1 0 -1 0 -1 0 -1 0 -1 -0.1 -1 0 -1 0 -1 0.1 -1 0.1 -1 0.2 -1 0.2 -1 0.3 -1 0.3 -1 0.4 -0.9 0.4 -1.1 0.4 -1 0.4 -1 0.5 -1 0.6 -0.9 0.7 -1 0.7 -0.7 1 -0.8 1 -0.6 1 -0.4 1 -0.5 1 -0.2 1 -0.2 1 -0.1 1 -0.1 1 -0.3 1 -0.5 1 -0.4zM274.2 308.9l1 -0.2 1 0.3 0.8 0.7 0.6 0.9 0.5 1 0.3 1 0.3 1 0.3 1 0.2 1 0.1 1 0.1 1 0.1 1 0.1 1 0 1 0 1 0 1 0.1 1 0 1 0 1 0.1 1 0 1 0 1 -0.1 1 -0.1 1 -0.1 1 -0.1 1 -0.1 1 -0.1 1 -0.1 1 -0.1 1 -0.2 1 -0.1 1 -0.2 1 -0.2 1.1 -0.2 0.9 -0.2 1 -0.1 1 -0.1 1 -0.1 1 0 1 0.1 1 0 1 0.1 1 0 1 0 1 0 1 -0.1 1 -0.2 1 -0.2 1 -0.3 1 -0.4 1 -0.4 1 -0.4 1 -0.5 1 -0.7 1 -0.7 0.8 -0.9 0.6 -1 0.4 -1 0.3 -1 0.2 -1 0.2 -1 0 -1 -0.1 -1 -0.2 -1 -0.4 -1 -0.5 -0.9 -0.5 -0.9 -0.6 -0.8 -0.6 -0.8 -0.8 -0.7 -0.8 -0.7 -0.7 -0.7 -0.7 -1 -0.7 -1 -0.1 -1 0.3 -1 0.6 -0.9 0.6 -0.8 0.8 -0.8 0.9 -0.7 1 -0.7 1 -0.5 1 -0.1 1 0.8 1 1 0.4 1 0.2 1 0.1 1 0 1 -0.1 1 0 1 0 1 0.1 1 0.1 1 0.2 1 0.2 1 0.2 1 0.1 1 0.2 1 0.3 1 0.5 0.7 0.7 0.2 1.1 -0.7 0.9 -0.9 0.6 -1.1 0.5 -1 0.3 -1 0.3 -1 0.3 -1 0.3 -1 0.1 -1 0.1 -1 -0.1 -1 -0.1 -1 -0.3 -1 -0.2 -1 -0.2 -1 -0.1 -1 0 -1 0.1 -1 0.1 -1 0.1 -1 0.1 -1 0.2 -1 0 -1 0.1 -1 0 -1 -0.1 -1 -0.1 -1 -0.1 -1 -0.1 -1 -0.1 -1 -0.1 -1 -0.2 -1 -0.3 -1 -0.4 -1 -0.3 -1 -0.4 -1 -0.5 -0.9 -0.7 -0.7 -0.7 -0.6 -1 -0.5 -1 -0.3 -1 -0.1 -1 0 -1 0.1 -1 0.2 -1 0.2 -1 0.3 -1 0.2 -1 0.2 -1 0 -1 0.1 -1 0 -1 0.2 -1 0.5 -1 0.6 -0.9 0.7 -0.9 0.8 -0.7 0.8 -0.7 1 -0.8 1 -0.7 1 -0.5 1 -0.4 1 -0.3 1 -0.1 1 -0.1 1 0 1 0.1 0.9 0.2 1.1 0.1 1 0.1 1 0.1 1 0.1 1 0.2 1 0.3 1 0.5 1 0.5 1 0.6 1 0.4 1 0.2 1 0 1 -0.5 0.7 -0.8 0.5 -0.9 0.5 -1.1 0.3 -1 0.3 -1 0.2 -1 0.1 -1 0 -1 0 -1 -0.1 -1 0 -1 -0.1 -1 0 -1 -0.1 -1 0 -1 -0.1 -1 0 -1 0.1 -1 0.1 -1 0 -1 0 -1 -0.1 -1 0 -1 -0.1 -1 0 -1 0.1 -1 0.3 -1 0.3 -1 0.4 -1 0.4 -1 0.5 -1 0.5 -1 0.5 -1 0.7 -1 0.8 -1 0.7 -0.7 0.8 -0.7 0.9 -0.6 1 -0.5 1.1 -0.5 1 -0.3 1 -0.2 1 -0.3 1 -0.6 0.8 -0.6 1 -0.7zM275 309.6l1 0.1 0.8 0.7 0.6 1 0.5 1 0.3 1 0.3 1 0.2 1 0.2 1 0.1 1 0.2 1 0 1 0.1 1 0 1 0 1 0 1 0 1 0.1 1 0 1 0 1 0 1 0 1 -0.1 1 -0.2 1 -0.1 1 -0.1 1 -0.1 1 -0.2 1 -0.1 1 -0.2 1 -0.2 1 -0.3 1 -0.2 1 -0.3 1 -0.2 1 -0.2 1 -0.1 1 -0.1 1 0 1 0.1 1 0 1 0.1 1 0.1 1 0 1 0 1 -0.1 1 -0.2 1 -0.3 1 -0.3 1 -0.5 1 -0.4 1 -0.5 1 -0.7 1 -0.7 0.8 -1.1 0.6 -1 0.4 -1 0.2 -1 0.1 -1 0.1 -1 -0.1 -1 -0.3 -1 -0.4 -1 -0.5 -0.8 -0.7 -0.9 -0.7 -0.7 -1 -0.7 -1 -0.5 -1 -0.4 -1 -0.4 -1 -0.2 -1 -0.2 -1 0 -1 0.1 -1 0.3 -1 0.3 -1 0.3 -1 0.3 -1 0.2 -1 0.2 -1 0.2 -1 0 -1 0 -1 -0.1 -1 -0.2 -1 -0.2 -1 -0.1 -1 -0.2 -1 -0.2 -1 -0.1 -1 0 -1 0 -1 0.2 -1 0.2 -1 0.2 -1 0.1 -1 0 -1 -0.2 -1 -0.2 -1 0 -1 0.1 -1 0.3 -1 0.5 -1 0.6 -1 0.7 -1 0.8 -1 0.7 -0.7 0.8 -0.7 1 -0.7 1 -0.5 1 -0.4 1 -0.2 1 -0.1 0.9 -0.4 0.6 -1 0.5 -1 0.5 -1 0.6 -1 0.9 -1 0.9 -0.6zM239.2 348.4l1 -0.2 1 0.1 1 0.1 1 0.3 1 0.2 1 0.2 1.1 0.2 0.9 0.3 1 0.4 1 0.5 0.9 0.7 0.9 0.7 0.8 0.9 0.4 1.1 0.1 1 -0.3 1 -0.6 1 -0.6 1 -0.7 1 -0.6 1 -0.7 1 -0.8 0.9 -0.7 0.8 -0.5 1 -0.3 1 0.2 1 0.7 1 0.8 0.8 0.8 0.8 0.4 1 -0.8 0.7 -1.1 0.6 -1 0.5 -1 0.3 -1 0.2 -1 0 -1 0 -1 -0.1 -1 -0.1 -1 -0.1 -1 -0.2 -1 -0.2 -1 -0.4 -0.9 -0.5 -0.9 -0.5 -0.9 -0.5 -1 -0.7 -0.7 -0.8 -0.6 -1 -0.4 -1 -0.1 -1 0 -1 0.3 -1 0.4 -1 0.4 -1 0.5 -1 0.6 -1 0.4 -1 0.4 -1 0.4 -1 0.2 -1 0.3 -1 0.3 -1 0.5 -1 0.5 -1 0.7 -0.8 0.9 -0.6 1 -0.5zM256.2 367.9l1 -0.1 1 0 1 0.1 1 0.3 1 0.6 0.6 0.8 -0.2 1 -0.8 0.8 -1 0.4 -1 0.1 -1 -0.1 -1 -0.3 -1 -0.5 -1 -0.8 -0.8 -0.8 0.5 -0.9 1 -0.5zM275.2 310.6l1 0.3 0.8 0.9 0.5 1 0.4 1.1 0.3 1 0.2 1 0.2 1 0.1 1 0.1 1 0.1 1 0 1 0.1 1 0 1 0 1 0 1 0.1 1 0 1 0 1 -0.1 1 -0.1 1 -0.1 1 -0.1 1 -0.1 1 -0.2 1 -0.1 1 -0.2 1 -0.3 1 -0.3 1 -0.3 1 -0.3 1 -0.4 1 -0.4 1 -0.2 1 -0.1 1 -0.1 1 0.1 1 0 1 0.1 1 0.1 1 0.1 1 0.1 1 0 1 -0.1 1 -0.1 1 -0.3 1 -0.4 1 -0.5 1 -0.5 1 -0.5 1 -0.8 1 -1 0.7 -1 0.5 -1 0.2 -1 0.1 -1 0 -1 -0.2 -1 -0.4 -1 -0.5 -0.8 -0.7 -0.7 -0.7 -0.7 -1 -0.6 -1 -0.4 -1 -0.3 -1 -0.3 -1 -0.1 -1 0 -1 0.1 -1 0.2 -1 0.3 -1 0.2 -1 0.2 -1 0.2 -1 0.2 -1 0.3 -1 0.2 -1 0.3 -1 0.2 -1 -0.1 -1 -0.3 -1 -0.5 -1 -0.4 -1 -0.3 -1 -0.2 -1 0 -1 0.1 -1 0.3 -1 0.4 -1 0.4 -1 0.2 -1 0.1 -1 0 -1 -0.2 -1 0 -1 0.4 -1 0.8 -0.7 1 -0.5 1 -0.4 1 -0.3 1 0 1 0.1 1 -0.3 0.6 -0.9 0.3 -1 0.4 -1 0.3 -1 0.3 -1 0.3 -1 0.3 -1 0.2 -1 0.4 -1 0.5 -0.9 0.6 -0.8 0.8 -0.6zM239.8 350.4l0.9 -0.1 1.1 0.4 1 0.5 1 0.4 1 0.3 1 0.3 0.9 0.7 0.4 1 0.1 1 -0.1 1 -0.1 1 -0.3 1 -0.8 0.7 -1.1 0 -0.7 -1 -0.3 -1 -0.5 -1 -0.8 -0.6 -1 -0.5 -1 -0.2 -1 -0.5 -0.7 -0.6 -0.3 -1 0.3 -1 0.7 -0.7zM237.5 359.6l1 0.1 1 0.3 1 0.3 1 0.5 0.7 0.7 0.3 1.1 0 1 -0.1 1 -0.1 1 0.3 1 0.4 1 -0.1 1 -0.9 0.7 -1 0.2 -1 -0.1 -1 -0.3 -0.8 -0.7 -0.6 -1 -0.3 -1 -0.5 -0.8 -1 -0.7 -1 -0.7 -0.6 -0.9 0.2 -1.1 0.5 -1 0.9 -1 1 -0.5zM275.2 311.8l1 0.3 0.7 0.8 0.5 1 0.3 1 0.3 1 0.2 1 0.2 1 0.1 1 0.1 1 0 1 0 1 0.1 1 0 1 0 1 0.1 1 0 1 0 1 -0.1 1 -0.1 1 -0.1 1 -0.2 1 -0.2 1 -0.1 1 -0.2 1 -0.3 1 -0.3 1 -0.4 1 -0.6 0.9 -0.7 0.7 -1 0 -0.6 -0.9 -0.5 -1 -0.4 -1 -0.4 -1 -0.3 -1 -0.3 -1 -0.2 -1 0 -1 0 -1 0 -1 0 -1 -0.1 -1 0 -1 -0.1 -1 0 -1 0.1 -1 0.1 -1 0.1 -1 0.2 -1 0.2 -1 0.2 -1 0.3 -1 0.2 -1 0.3 -1 0.2 -1 0.4 -1 0.5 -1 0.7 -0.7zM268.5 341.1l1 -0.1 1 0.1 1 0.3 1 0.4 0.9 0.6 0.6 1 0.3 1 0.3 1 0.2 1 0.1 1 0.2 1 0.1 1 0.1 1 0.1 1 -0.1 1 -0.1 1 -0.3 1 -0.4 0.9 -0.5 1.1 -0.5 0.9 -0.7 1.1 -0.8 0.9 -1 0.6 -1 0.3 -1 0.1 -1 -0.1 -1 -0.2 -1 -0.5 -0.9 -0.6 -0.7 -0.7 -0.6 -1 -0.5 -1 -0.4 -1 -0.3 -1 -0.2 -1 0 -1 0.1 -1 0.2 -1 0.2 -1 0.2 -1 0.2 -1 0.2 -1 0.3 -1 0.4 -1.1 0.6 -0.9 0.7 -0.8 1 -0.7 1 -0.4 1 -0.2zM275.5 313.1l1 0.5 0.6 1 0.4 1 0.3 1 0.2 1 0.1 1 0.1 1 0.1 1 0 1 0 1 0.1 1 0 1 0.1 1 0 1 0 1 -0.1 1 -0.1 1 -0.2 1 -0.2 1 -0.1 1 -0.2 1 -0.3 1 -0.3 1 -0.5 1 -0.7 0.7 -1 -0.2 -0.7 -0.9 -0.5 -1 -0.4 -1 -0.3 -1 -0.1 -1 -0.1 -1 -0.1 -1 0 -1 -0.1 -1 0 -1 -0.1 -1 0 -1 0 -1 0 -1 0.1 -1 0.1 -1 0.2 -1 0.2 -1 0.3 -1 0.2 -1 0.3 -1 0.3 -1 0.4 -1 0.7 -1zM268 343.4l1 -0.1 1 0.1 1 0.3 1 0.6 0.8 0.8 0.6 1.1 0.4 1 0.3 1 0.2 1 0.1 1 0.1 1 -0.1 1 -0.2 0.9 -0.3 1.1 -0.5 1 -0.5 1 -0.6 1 -0.8 0.9 -1 0.7 -1 0.3 -1 0 -1 -0.2 -0.9 -0.5 -0.8 -0.7 -0.7 -0.8 -0.5 -1 -0.4 -1 -0.3 -1 -0.1 -1 0 -1 0 -1 0.1 -1 0.2 -1 0.2 -1 0.3 -1 0.4 -1 0.5 -0.9 0.7 -0.8 0.9 -0.6zM275.5 314.6l1 0.4 0.5 0.9 0.3 1 0.3 1 0.2 1 0.1 1 0.1 1 0 1 0 1 0.1 1 0 1 0.1 1 0 1 -0.1 1 -0.1 1 -0.1 1 -0.2 1 -0.2 1 -0.3 1 -0.2 1 -0.5 1 -0.7 0.8 -1 -0.4 -0.6 -0.9 -0.4 -1 -0.3 -1 -0.1 -1 -0.1 -1 -0.1 -1 -0.1 -1 0 -1 -0.1 -1 -0.1 -1 0 -1 0 -1 0.1 -1 0.1 -1 0.1 -1 0.3 -1 0.3 -1 0.3 -1 0.3 -1 0.4 -1 0.7 -0.8zM268.2 345.6l1 0 1 0.1 1 0.4 1 0.8 0.6 0.9 0.4 1.1 0.2 1 0.1 1 -0.1 1 -0.2 1 -0.4 1 -0.6 0.9 -0.5 0.8 -0.7 1 -1 0.7 -1 0.2 -1 -0.2 -1 -0.6 -0.7 -1.1 -0.4 -1 -0.3 -1 -0.2 -1 -0.2 -1 0 -1 0 -1 0.2 -1 0.4 -1 0.7 -1 0.7 -0.6 1 -0.4zM275.8 316.1l0.9 0.8 0.4 1 0.2 1 0.2 1 0.1 1 0.1 1 0 1 0 1 0.1 1 0 1 0 1 0 1 -0.1 1 -0.2 1 -0.3 1 -0.3 1 -0.3 1 -0.6 1 -1 0 -0.6 -1 -0.3 -1 -0.2 -1 -0.1 -1 -0.1 -1 -0.1 -1 -0.1 -1 -0.1 -1 0 -1 -0.1 -1 0.1 -1 0.1 -1 0.1 -1 0.3 -1 0.3 -1 0.3 -1 0.5 -1 0.7 -0.7zM268.5 347.8l1 -0.1 1 0.2 1 0.7 0.6 1 0.2 1 -0.1 1 -0.4 1 -0.8 1 -1 0.7 -1 -0.1 -0.9 -0.8 -0.6 -0.9 -0.5 -1 -0.2 -1.1 0.1 -1 0.6 -1 1 -0.6z" fill="none" stroke="#000" stroke-width="0.78" stroke-linejoin="round"/>
<path d="M282.4,340V375" fill="none" stroke="#000" stroke-width="3.0" stroke-linecap="round" stroke-linejoin="round" opacity="0.8"/>
<path d="M254.8,341C254,352 255.5,364 257.5,374" fill="none" stroke="#000" stroke-width="2.4" stroke-linecap="round" stroke-linejoin="round" opacity="0.55"/>
<path d="M224,379.5L236,377.5 250,375.6 262,374.4 283.8,373.6 283.8,380 224,380Z" fill="#000" stroke="none" opacity="0.92"/>
</g>
<path d="M184.50,258.90H305.60V379.90" fill="none" stroke="#000" stroke-width="1.4"/>
<path d="M184.50,258.20V380.95" fill="none" stroke="#000" stroke-width="2.5"/>
<path d="M184.50,379.90H306.30" fill="none" stroke="#000" stroke-width="2.1"/>
<path d="M184.50,379.90h-3.4M184.50,379.90v3.4M184.50,370.79h-2.0M193.61,379.90v2.0M184.50,365.47h-2.0M198.94,379.90v2.0M184.50,361.69h-2.0M202.73,379.90v2.0M184.50,358.76h-2.0M205.66,379.90v2.0M184.50,356.36h-2.0M208.06,379.90v2.0M184.50,354.34h-2.0M210.09,379.90v2.0M184.50,352.58h-2.0M211.84,379.90v2.0M184.50,351.03h-2.0M213.39,379.90v2.0M184.50,349.65h-3.4M214.78,379.90v3.4M184.50,340.54h-2.0M223.89,379.90v2.0M184.50,335.22h-2.0M229.22,379.90v2.0M184.50,331.44h-2.0M233.00,379.90v2.0M184.50,328.51h-2.0M235.94,379.90v2.0M184.50,326.11h-2.0M238.33,379.90v2.0M184.50,324.09h-2.0M240.36,379.90v2.0M184.50,322.33h-2.0M242.12,379.90v2.0M184.50,320.78h-2.0M243.66,379.90v2.0M184.50,319.40h-3.4M245.05,379.90v3.4M184.50,310.29h-2.0M254.16,379.90v2.0M184.50,304.97h-2.0M259.49,379.90v2.0M184.50,301.19h-2.0M263.28,379.90v2.0M184.50,298.26h-2.0M266.21,379.90v2.0M184.50,295.86h-2.0M268.61,379.90v2.0M184.50,293.84h-2.0M270.64,379.90v2.0M184.50,292.08h-2.0M272.39,379.90v2.0M184.50,290.53h-2.0M273.94,379.90v2.0M184.50,289.15h-3.4M275.33,379.90v3.4M184.50,280.04h-2.0M284.44,379.90v2.0M184.50,274.72h-2.0M289.77,379.90v2.0M184.50,270.94h-2.0M293.55,379.90v2.0M184.50,268.01h-2.0M296.49,379.90v2.0M184.50,265.61h-2.0M298.88,379.90v2.0M184.50,263.59h-2.0M300.91,379.90v2.0M184.50,261.83h-2.0M302.67,379.90v2.0M184.50,260.28h-2.0M304.21,379.90v2.0M184.50,258.90h-3.4M305.60,379.90v3.4" fill="none" stroke="#000" stroke-width="1.1"/>
<clipPath id="clip3"><rect x="23.7" y="428.9" width="121.3" height="119.89999999999998"/></clipPath>
<g clip-path="url(#clip3)">
<path d="M122.3 538.2h0M63.2 514.1h0M29.9 516.1h0M120.2 493h0M114.7 480.2h0M119 506.7h0M56.5 514.4h0M53.6 479.1h0M110.6 490.8h0M93.3 479.9h0M122.5 518.9h0M66 502.4h0M115.7 505.9h0M63.9 481.1h0M120 528.1h0M78.6 475.5h0M119.9 534.5h0M117 503.2h0M54.3 498.6h0M73.3 478.9h0M65.9 512.8h0M61.9 498.2h0M78.8 480.5h0M118.2 489h0M26.2 506.3h0M55.9 482.4h0M71.8 515.8h0M66.2 503.5h0M67.7 510.9h0M56.6 496.4h0M124.5 483h0M67.8 508.1h0M66.8 503.4h0M57.6 490.8h0M43.3 498.6h0M78.7 482.2h0M68.7 510.5h0M48.5 502.3h0M40.9 501.8h0M49 515.6h0M44.4 511.2h0M68.9 478.5h0M69.4 510.1h0M66.8 515.6h0M123.1 530.2h0M112.2 491.1h0M111.1 492.6h0M71.5 512.9h0M120.3 544.7h0M117.7 502.4h0M46.9 491.9h0M121.2 510.3h0M120 513.6h0M114 500.6h0M55.4 494.7h0M68.1 506.8h0M61.6 513.4h0M105.4 464.3h0M86.3 483.8h0M60.7 502.5h0M53.5 516.1h0M86.3 481.6h0M98.6 481.6h0M61.3 496.8h0M25.8 516.9h0M119.2 526h0M80.1 482.7h0M121.9 525.1h0M118.8 532.9h0M122.8 494.9h0M62.6 482.6h0M70.8 478.7h0M86.6 481.8h0M71.2 512h0M71.3 511h0M121.1 532h0M103.4 482.4h0M77.9 481.6h0M120.9 509.6h0M121 501.8h0M55.8 496.3h0M116.7 512.3h0M128.2 509.9h0M85 472.3h0M122.3 510.2h0M115.4 490.8h0M61.3 492.8h0M105.2 484.4h0M65.9 478.6h0M118.8 529.7h0M42 516.8h0M49.2 503.7h0M73 516h0M98.3 481.9h0M121.3 518.4h0M36.9 517.5h0M63.7 515.1h0M57 486.2h0M119.3 500.6h0M66.1 501.5h0M120.6 508.7h0M50.5 514.6h0M115 496.4h0M119 545.4h0M65 510h0M61.7 483.2h0M121.8 507.2h0M119.8 513.3h0M56.5 477.2h0M63.1 507.7h0M92.1 472.6h0M65.8 502.2h0M59.9 494.2h0M49.1 512.4h0M117.3 508.8h0M65.1 515.1h0M60.7 487.8h0M58.9 487.1h0M41.3 513.8h0M126.2 521.7h0M107.5 481.7h0M54.5 516h0M66.6 506.4h0M94.3 481.8h0M105.8 482.8h0M121.1 522.6h0M122.2 494h0M60.6 490.2h0M79.7 483.1h0M30.4 517.3h0M116.7 507.2h0M119 510.7h0M83.4 479.4h0M95.2 480.9h0M112.3 489.2h0M76.3 482.6h0M125 500.1h0M59.1 493.2h0M68.8 508h0M121 545.4h0M82.6 481.9h0M112.4 496.1h0M84.9 481.9h0M59.6 502.7h0M117.9 488.5h0M53.3 500.9h0M69.2 476.9h0M58.7 485h0M62.5 500.8h0M117.9 515.6h0M119.6 544h0M123.3 496.4h0M121.1 526.4h0M70.4 512.6h0M113.3 497.2h0M56.3 496.1h0M124.2 525.2h0M114.6 503.1h0M121.6 514.7h0M110 484.7h0M113.5 491.9h0M83.5 477.3h0M67 472.3h0M101.6 478.9h0M123 538.9h0M120.7 507.3h0M114.6 497.3h0M43.8 513.6h0M73.3 481.6h0M79.1 478.2h0M117.3 507.2h0M87.3 482.2h0M89.5 478.1h0M58.4 482.3h0M71.1 508.6h0M114.9 478.5h0M123.5 485.8h0M118.8 499.2h0M66.2 501.5h0M107.1 485h0M130.1 525.4h0M55.8 487.9h0M66.3 479.6h0M51 483.4h0M45.8 508.8h0M69.7 507.4h0M117.7 500.5h0M125.3 532.9h0M121.1 541.6h0M113 498h0M62.7 498.5h0M69.1 481h0M71.4 512.2h0M120.6 523.2h0M45.7 516.5h0M79.6 481.2h0M123.3 487.6h0M117.6 480.3h0M123.8 472.4h0M52.5 483.5h0M122.7 511.7h0M62.5 499.6h0M65.2 513.6h0M126.1 489.5h0M71.8 511.8h0M85.7 469h0M128.3 505.5h0M116.6 503.6h0M73 514.6h0M72.3 510.9h0M114.3 498.4h0M70.4 481.4h0M102.2 480.6h0M72.5 511.2h0M58.9 516.2h0M54.5 503.5h0M119.1 506.3h0M118.9 522.6h0M120 539h0M102.2 482.1h0M55.1 515.6h0M39.5 500.8h0M118.9 514.7h0M38.6 515.9h0M120.7 509.8h0M128 520.3h0M117.4 517.6h0M122.9 536.9h0M65.3 499.8h0M118.7 508.1h0M121.1 525.9h0M69.2 477.4h0M59.4 492.8h0M71.5 514.9h0M46.9 484.9h0M115.5 481.6h0M119.6 488.7h0M119.3 538.7h0M33.4 516.7h0M109.1 483.7h0M114 492.7h0M30.1 508.1h0M36.9 515h0M118.7 547.1h0M114 493.5h0M116.4 514.6h0M118.8 524.1h0M51.9 506.6h0M64.3 481.1h0M122.7 482.4h0M88.3 482.1h0M58.8 500.1h0M123.7 515.4h0M117.6 511.2h0M119.3 518.7h0M116.8 507.9h0M92.6 482.5h0M109.4 487.2h0M77.9 481.7h0M115.1 502.9h0M42.1 489.3h0M123.6 544.5h0M114 499.2h0M78 480.8h0M77.4 481.9h0M111.2 486.9h0M55.2 491h0M59.2 512.1h0M120 546.5h0M51 515.7h0M119.8 519.3h0M72.5 480.2h0M118.2 513.9h0M83.5 480.6h0M124.7 489.5h0M80 482.6h0M96 481.6h0M62.5 483.7h0M120.9 492.9h0M99.2 481.6h0M64.7 514.2h0M67.5 515.6h0M110.2 488.2h0M65.4 510.9h0M120.9 494.6h0M125.7 501.3h0M117.7 515.5h0M115.5 500.4h0M123.8 500.2h0M121.9 502.1h0M118.4 517.3h0M120.1 515.8h0M126 519h0M69.9 515.5h0M54.1 480.7h0M123.9 514.2h0M121.2 537.3h0M124.1 490.2h0M125.7 543.4h0M121.6 533.1h0M111.9 492.9h0M118.3 495.8h0M124.1 493.4h0M74.9 479h0M121.8 495.8h0M84.4 482.2h0M66.9 503.6h0M71.8 481.8h0M108.1 484h0M43.7 515.1h0M125.4 496.2h0M115.9 500.3h0M47.3 515.6h0M107.4 486.4h0M133.3 514.3h0M117 515.3h0M51.2 503.3h0M80.7 480.9h0M68.4 479.7h0M54.1 514.3h0M58.9 475.2h0M44.3 515h0M122.9 498.3h0M79.7 482.5h0M89.9 482.4h0M120.2 512.9h0M58.3 502.5h0M116.1 504.4h0M69.1 506.9h0M121.1 525h0M119 543.8h0M66.1 481.1h0M121.7 516.6h0M64.8 473.9h0M26 515.4h0M121 533.8h0M120.8 544.8h0M119.1 515.1h0M88.3 476.8h0M114.4 503.3h0M49.6 502.6h0M68.2 514.4h0M67.5 503.6h0M112.3 493.9h0M100.1 481h0M115.2 502.6h0M38.7 517.3h0M59.3 514.3h0M92.4 481.2h0M119.8 501.5h0M73.4 478.1h0M70 479.9h0M75.3 480.6h0M121.9 521.7h0M94 479.1h0M110.9 491.4h0M72.7 516.2h0M56.5 485.7h0M114.6 504.9h0M62.4 481.1h0M62.2 495.7h0M126.6 526h0M122.8 503.5h0M118.8 507.6h0M116.3 509.2h0M121.6 545.7h0M44.9 468.2h0M123.5 488.8h0M31.1 517.2h0M64.8 477.2h0M77.2 471.2h0M79.9 483.1h0M122.7 539.5h0M80 483h0M109.2 484.6h0M61.6 512h0M53.6 463.4h0M58.8 514.3h0M45.3 515.9h0M68.7 504.6h0M110.1 479.1h0M59.1 483.2h0M65.8 508.9h0M88.8 478.7h0M81.8 480.7h0M138.2 479.5h0M59.9 481.8h0M60.8 497.7h0M78.1 482.6h0M78.3 481.8h0M45.6 516.3h0M120 502.1h0M121.1 472.2h0M72 513.7h0M111.6 483.8h0M109.9 487.5h0M121.8 504.5h0M120.4 539.6h0M124.6 502.6h0M120.5 519.2h0M57.4 507.6h0M53.1 494h0M54.2 515.3h0M57.3 490.1h0M66.9 502.1h0M73.3 471.6h0M82.1 477.3h0M120 516.5h0M100.9 475.6h0M121.9 504.9h0M78 481.3h0M116.7 497.2h0M124.1 541.4h0M125.4 507.1h0M120.2 469.4h0M114.8 504.4h0M119.2 527.3h0M70.2 510.8h0M62.6 482.8h0M65.5 501.6h0M68 515.1h0M52.4 505.1h0M123.1 528.4h0M131.8 503.4h0M64.5 500.7h0M60.7 485.2h0M122.4 486.8h0M124.4 482.7h0M72.5 514h0M110.9 481.9h0M28.3 517.9h0M101.6 479.4h0M65.8 481.6h0M123.9 485.4h0M72.1 513.3h0M123.7 497.2h0M108.7 487.9h0M124.9 522.7h0M72.2 480.9h0M65 501.6h0M56.6 503.4h0M117.4 506.3h0M119.8 477.9h0M41.8 475.4h0M110.9 485.3h0M56.1 507.8h0M103.7 483.8h0M61.3 480.3h0M61.3 481.8h0M72.5 515.1h0M67.7 514.7h0M121.8 514.3h0M124.8 525h0M119.6 527.8h0M73.6 482.2h0M71 514.6h0M120.6 499.6h0M56.4 494.2h0M127.3 508.3h0M112.9 497.1h0M69.1 510.3h0M62.3 515.1h0M121.2 493.7h0M35.7 515.7h0M31.5 516.7h0M128 489.7h0M69.1 508.3h0M47.3 497.5h0M111.6 483h0M111.4 492.6h0M67.8 514.9h0M90.3 479.9h0M129.1 500.6h0M80.6 470h0M64.7 499h0M119.1 529.5h0M75.6 478.3h0M42 516.5h0M126.1 526h0M124.4 509.6h0M59.2 500.5h0M67.4 504.6h0M66.1 515.9h0M52.1 473.2h0M119.3 544.9h0M74.6 476.8h0M69.5 506.7h0M67.5 503.1h0M65.4 480.1h0M120.5 547.1h0M84.5 483.1h0M111.3 477.3h0M66.1 510.6h0M113 497.5h0M114.4 503.8h0M116.2 506.5h0M115.8 503.1h0M63 496.2h0M65.2 479h0M48.1 485.6h0M121.8 531.7h0M63.1 496.2h0M120 528.5h0M61.5 504h0M61.7 494.2h0M123.7 483.1h0M65 482h0M82.4 483.7h0M115.1 497.1h0M126.5 501h0M124.7 508.6h0M122.1 518.9h0M119.4 525.7h0M126.5 504.6h0M55.5 513.4h0M70.4 507.2h0M123.2 526.5h0M114.2 490.1h0M118.9 510.9h0M116.4 485.6h0M71.8 512.9h0M70.1 514.8h0M125 518.2h0M120.6 487.7h0M47 516.1h0M115 504.9h0M125 478h0M96.3 481.7h0M63.8 501.6h0M57.1 510.1h0M114.9 499.7h0M71.8 512.2h0M118.7 505.6h0M116.6 516.8h0M72.9 515.4h0M33.7 482.3h0M66.6 512.2h0M116.8 512.2h0M87.9 483.7h0M123.3 510.6h0M118 503.3h0M82.1 482.3h0M47.6 485.5h0M124.9 508.9h0M122.5 513.8h0M62.7 498.1h0M118.7 526.2h0M84 483.2h0M122.3 513.3h0M37.5 511h0M121.2 514.9h0M59.5 489.9h0M36.8 509.4h0M65.6 478.7h0M61.7 492.4h0M93.3 481.4h0M119.3 530.5h0M34 514h0M38.6 510.7h0M64.2 473.4h0M38.2 513.2h0M48.9 505.2h0M115.3 507h0M43.8 516.4h0M61.7 505.6h0M94.7 475h0M117.6 500.8h0M64.7 504.3h0M119.3 531.3h0M76.2 481.9h0M119 540.1h0M42.4 506.3h0M116.4 503.8h0M110.5 490.2h0M88 483h0M126.6 535.9h0M49.2 489.3h0M123.5 517.3h0M119 513.5h0M64 497.9h0M125.4 513.4h0M43.5 516.5h0M123.6 510.6h0M53.3 490h0M72.8 476.1h0M55.6 490.7h0M51.1 493.7h0M117.9 498.1h0M121.1 516.9h0M41.2 511.9h0M131 508.4h0M113.3 476.9h0M106.5 484.7h0M61.6 482.7h0M125.8 491.1h0M55.4 505.3h0M61.2 511.7h0M59.9 496.2h0M72.8 514.9h0M59.5 489.6h0M48.4 505.5h0M73.8 474.4h0M118.7 521.8h0M66.5 502.1h0M119.2 511.9h0M44.5 516.9h0M91.2 468.7h0M78.6 481.2h0M99.6 469.8h0M124.5 503.2h0M65.3 505.8h0M39.6 505.3h0M54.7 515.3h0M115.8 502.8h0M113.6 498.5h0M120.4 535.3h0M44.9 500.4h0M110.2 489.1h0M114.3 486h0M118.8 498.2h0M117 513.2h0M53.1 501.7h0M112.7 497.4h0M119.5 531.5h0M117.4 512.9h0M114.5 492.1h0M65.4 515.6h0M71.4 512.9h0M126.5 523.4h0M88.7 480.2h0M112.1 494.2h0M122.6 502.6h0M56.2 487.5h0M62.6 497.3h0M115.3 500.5h0M121.9 520.7h0M70.2 478.8h0M66.1 506.5h0M57.8 483.2h0M56.9 478.4h0M60.4 494h0M116.8 512.3h0M127.5 506.4h0M120.3 544.3h0M69.2 512.5h0M103.5 481.3h0M76 481h0M120.2 473.1h0M64.1 498.4h0M120.7 505h0M125.1 536.3h0M116.5 489.1h0M67.9 509.3h0M116.4 508.2h0M72.6 481.7h0M121.4 537.6h0M126.1 541.8h0M64.3 498.5h0M41.3 504.9h0M118.7 512.3h0M69 514.8h0M54.6 506.2h0M85.9 480.9h0M122.1 537.4h0M119.2 526.6h0M98.6 476.1h0M119.5 514.4h0M121.9 514.4h0M44.8 482.9h0M62.9 476.2h0M121.7 496.9h0M121.7 490.7h0M104.2 480.6h0M33 512.7h0M61 482.8h0M119.2 487.7h0M113.3 496.8h0M119.7 508.4h0M70 508.9h0M118.6 539.4h0M45.5 493.3h0M117.7 507.3h0M58.1 494.8h0M121.2 534.8h0M128 514.6h0M123 530.1h0M118.4 518.4h0M83.9 483h0M117.4 510.9h0M70.7 512.3h0M70 514.8h0M119.4 536.6h0M58.2 486.5h0M113.9 502.2h0M74.7 479.7h0M73.6 516.4h0M70.2 510.7h0M114 498.5h0M72.8 514.2h0M103.2 482.7h0M68 507.4h0M100.9 472.2h0M58.2 495.1h0M65.8 507.7h0M121 529.6h0M118.7 492.9h0M108.1 478.7h0M116.3 504.6h0M126.1 504.9h0M120.9 505.7h0M103.3 480.9h0M65 500.9h0M63.6 498.4h0M121.5 523.7h0M123.2 497.7h0M105.9 484.2h0M57.6 514.6h0M62 506.1h0M123.9 534.3h0M121.7 511.6h0M83.3 476.9h0M119 502.3h0M110.6 486.4h0M51.4 510.9h0M28.1 517.6h0M118.9 517.1h0M128.7 474.2h0M120.4 530.2h0M67 513.2h0M34.6 513.9h0M53.3 487.1h0M67.4 513.7h0M116.7 504.6h0M115.6 491.1h0M75.2 482.1h0M50.1 511h0M37.6 515.7h0M121.4 542.1h0M123.6 504.3h0M72.4 473.8h0M102.9 480.4h0M61.1 493.7h0M68.8 513.4h0M65.4 512.9h0M112 492.5h0M119.3 545.2h0M64.3 514.3h0M44.1 516.7h0M118.9 537.2h0M64.8 506.9h0M80 469.5h0M63.8 497.1h0M32.5 511.9h0M61.6 493.7h0M78.2 483h0M119.8 539.9h0M80.2 483.4h0M67.2 503.5h0M75.9 480.6h0M72.2 478.7h0M141.4 479.6h0M128.6 509.6h0M119.2 505.2h0M69.5 510.6h0M79.4 481.4h0M68.2 478.8h0M115.8 496.3h0M63.1 503.8h0M122.5 540.6h0M120.4 494.8h0M119.6 531.1h0M59.3 487.1h0M33.7 515.9h0M119.8 540.9h0M70 509.9h0M25.5 518.2h0M81.2 481.2h0M123.9 491.3h0M121.6 514.8h0M61.9 494.2h0M61.8 507.9h0M126.3 532.4h0M117.2 511.2h0M80.2 479.6h0M65.4 514.4h0M123.6 505.3h0M119.4 485.2h0M124.9 510.1h0M122.5 513.9h0M29 517.9h0M58.1 491.8h0M100.2 481.5h0M60.1 486.6h0M118.9 498.8h0M41.5 516.8h0M119.5 510.4h0M52.4 514.7h0M119.6 534.3h0M76.7 481.9h0M125.4 488.6h0M106.6 477.6h0M68.3 504.5h0M116.7 516.3h0M71.9 514.6h0M115.4 498.2h0M68.9 509.2h0M44.8 497.3h0M118 512.7h0M120.9 528.3h0M118.1 505.8h0M116.4 504h0M80.1 483.4h0M120.9 520.9h0M67.9 481h0M69.1 508.4h0M116.8 511.2h0M59.7 515.9h0M101.9 475.4h0M118.1 498.1h0M68.2 508.2h0M42.1 513.1h0M61.7 515.1h0M50.6 514.1h0M120.6 538.9h0M118.6 529.2h0M76.3 474.1h0M60 494.5h0M60.1 496.7h0M88.8 483.4h0M38 515.2h0M118.4 485.3h0M75.9 480.9h0M123.3 523.9h0M59.2 491.1h0M120.7 521.7h0M121.5 519h0M123.5 481.2h0M107.9 485.2h0M117.2 510.7h0M127.1 541.1h0M115.8 508.8h0M120.2 507.1h0M60.5 482.6h0M99.3 480.2h0M125.8 525.1h0M63.9 514.5h0M124.5 495.4h0M70.5 511.7h0M120.8 501.1h0M101.5 481.3h0M128.1 481.2h0M59.5 495h0M64.8 503.6h0M120.1 529.9h0M57.4 490.9h0M126.1 507.5h0M75 481.8h0M66.7 515.1h0M72.8 513.1h0M59.8 491h0M52.5 489.5h0M63.5 506.2h0M74.9 482.4h0M118.3 498.5h0M116.1 493.4h0M121.4 513.1h0M123.2 502.9h0M69 515.1h0M58.6 482h0M65.4 506h0M71.9 514.6h0M118.1 496.7h0M38.7 511.7h0M65.5 479.4h0M71.9 512.6h0M60.4 491.5h0M56.6 501.3h0M91.6 480.6h0M122.9 523.4h0M65.1 508.4h0M61 485.1h0M71.5 472.4h0M119.6 546.6h0M58.4 491.2h0M122.2 516.4h0M53.2 496.6h0M45.1 514.3h0M123.2 540.7h0M73.6 481.4h0M131.6 494.1h0M84.5 482.6h0M126 517.5h0M115.1 488h0M61.4 507.4h0M100.8 481.7h0M65.7 478.6h0M55.5 515.9h0M110.8 491.6h0M115.7 504.8h0M117.2 516.8h0M64 515.3h0M118.9 536h0M118.1 503.7h0M81.4 482.9h0M80.9 483.6h0M68.1 505.5h0M120.2 533.5h0M108 480.6h0M120.3 530.9h0M114.7 502.5h0M123 514.4h0M66.5 512.1h0M71.4 475.2h0M115.1 502.5h0M64.6 512.1h0M38.8 495.3h0M69.3 479.3h0M121.2 511.2h0M60.6 493.4h0M84.1 481.1h0M114.1 501.9h0M131.1 490h0M79.7 474.8h0M82 482.7h0M66.7 506.4h0M76 481.7h0M67 507.2h0M38.4 516.4h0M64 505h0M119.9 520.7h0M55.7 495.8h0M27 518h0M41.7 515.6h0M58.8 490.3h0M61.2 491.7h0M117.5 515.7h0M112.5 491h0M51 515.8h0M66.6 480.8h0M56.4 494h0M119.8 531.2h0M68.4 513.6h0M42.9 511.2h0M54 516.3h0M43.4 514.8h0M120.4 547h0M46.2 510.5h0M122.9 501.2h0M90.6 479.9h0M55.9 475.9h0M122.7 523.3h0M106.9 483.9h0M118.3 510.7h0M84.7 480.8h0M101.5 481.9h0M102.8 483h0M36.2 517.2h0M129.3 540.3h0M127 493h0M46.3 516.8h0M77.3 473.3h0M56.8 480h0M67.3 515.6h0M118.3 487.5h0M122.5 534.6h0M98.9 479.6h0M72.3 513.9h0M77.1 471.6h0M128.2 499.3h0M68.9 475.5h0M112.2 493.9h0M69.9 509.8h0M86.5 481.5h0M41.7 510.1h0M57.4 515.8h0M116.9 492.5h0M103.7 483.5h0M74.7 481h0M116.4 511.7h0M84.2 480.7h0M120.1 518.7h0M78.8 481.6h0M120 531.9h0M116 502.5h0M59.8 490.3h0M82.7 483h0M125.4 493.9h0M117.1 494.3h0M51.8 502.8h0M92.3 478.7h0M63.4 509.5h0M113.1 488.8h0M89.8 477.3h0M60.1 514.6h0M126.1 472.8h0M119.1 498.1h0M119.1 543.5h0M118.6 540.5h0M119 528.2h0M62.7 483h0M126.3 517h0M122.4 530.4h0M126.4 489.7h0M65.5 506.3h0M118.9 519.6h0M126.2 507.3h0M118.6 524.1h0M123.3 491.5h0M96.1 481.1h0M119 529.3h0M81.8 483.4h0M56.7 515.3h0M71.5 515.1h0M122.7 516.8h0M118.8 542.2h0M118.3 505.9h0M42.5 515.5h0M78.6 470.6h0M118.3 515.9h0M59 481.1h0M62.1 496.6h0M116.6 515.1h0M74.9 481.5h0M117.2 509.4h0M121 507.2h0M111.9 491.2h0M121.1 523.8h0M117.2 501.2h0M63.7 501.1h0M68.3 509.7h0M132.5 495.8h0M64.1 501.2h0M67 503.1h0M61.9 484.3h0M119.2 541h0M123.2 512.9h0M111.8 485.6h0M132 515.4h0M66.7 512.7h0M124.2 506.1h0M99.7 479.4h0M75.7 481.4h0M69.5 481h0M68.4 513.6h0M83.9 473.1h0M118.2 492.2h0M122.4 543.2h0M119.3 545.4h0M60.8 485.4h0M123.2 516.7h0M70.3 474.8h0M58.5 516.3h0M66.8 503.5h0M128.7 531.2h0M42.9 488.5h0M121.5 478.6h0M117.6 493.1h0M63.9 497.6h0M111 489.9h0M127.3 501.1h0M65.4 502.6h0M58.5 494.5h0M117.8 518.1h0M66.2 510.4h0M119.6 517.8h0M93.4 480.7h0M60.2 486.9h0M97.4 480.4h0M65 514.5h0M72.9 513.9h0M69.7 510.4h0M87.5 483.1h0M120.6 536.9h0M59.9 503.1h0M121 524.1h0M71.2 479.6h0M64.7 512.6h0M125 522.6h0M126.4 498.5h0M128.6 520.2h0M69.6 515.4h0M113.6 467.4h0M63.6 500.6h0M60.5 513.6h0M25.9 517.2h0M67.3 480.4h0M121.3 542.2h0M118.8 525.7h0M86.3 478.9h0M40.9 512.3h0M45.9 484.7h0M59.3 488.8h0M35.2 515.3h0M66.8 477h0M58.2 493.7h0M119.3 515h0M125.4 526.4h0M124.1 490.8h0M101.1 480.3h0M55.8 504.9h0M120.8 520.7h0M123.5 522.3h0M119.9 547.1h0M119.6 528.8h0M119.7 514.1h0M116.5 496h0M26.8 513.4h0M127.3 500h0M67.1 502.5h0M121.6 484.7h0M52.7 483.1h0M101.2 477.7h0M119.1 518.6h0M91.1 482.2h0M122 464.4h0M57.4 513.1h0M61.9 507.2h0M125.2 482.2h0M65.5 514.8h0M64.7 506.9h0M49.4 513.6h0M82.9 481.3h0M119 523.3h0M71 512.2h0M116.6 499.2h0M58.6 483.7h0M121.5 520h0M37.1 516.4h0M67.9 513.9h0M34.7 514h0M117.7 512.9h0M125.2 499h0M66.6 476.1h0M48.7 480.6h0M118.8 526h0M61.3 479.6h0M114.4 491.1h0M60.8 496.1h0M56.8 492.5h0M89.2 483.4h0M117 514.9h0M111.9 491.1h0M99.5 482h0M119 513.3h0M98.4 479.2h0M112.4 489.2h0M117.1 511.3h0M120 526.4h0M128.9 478.6h0M121.5 495.6h0M117.4 509.7h0M59.9 491.9h0M111.5 475.8h0M118.5 508.5h0M113 497.2h0M87.1 481.9h0M53.2 516.5h0M107.2 472.9h0M63.6 499h0M66.9 504.8h0M121.9 509.1h0M118.8 524.2h0M70.9 477.7h0M120.7 466.9h0M116.9 516.5h0M123.5 481.7h0M41.5 516.8h0M29.3 512.5h0M116.7 497h0M124.2 544.4h0M70.4 515.7h0M115.6 500.9h0M58.1 511.9h0M119 481.9h0M63.3 500.4h0M114.9 502.8h0M90.7 481.3h0M81.8 477.2h0M82.9 480.8h0M117.1 505.4h0M119 528.8h0M42.5 515.1h0M55.8 500.3h0M122.3 520h0M117.9 506.7h0M63 514.2h0M113.6 496.6h0M121.8 518.8h0M68.5 481.4h0M132.6 535.6h0M78.9 483.1h0M125.6 503.3h0M65.2 505.7h0M132 527.5h0M123.2 521.6h0M116.1 497.9h0M91.1 480.7h0M110.9 492.2h0M79.2 480.2h0M84.9 481.4h0M126.9 493.8h0M69.8 478.4h0M121.2 519.2h0M54.3 486h0M38.2 517h0M83.7 481.4h0M60 494.1h0M72.4 515.2h0M58 509.2h0M59.4 515.6h0M115.6 501h0M65 499.2h0M97.4 481.3h0M126.8 484.4h0M114.6 503.2h0M108.9 488.5h0M46.8 486.3h0M47.5 499.5h0M90.2 479.4h0M58.1 495.2h0M70.8 511.4h0M127.2 517.9h0M101.1 475.2h0M68.6 505.3h0M34.5 516.9h0M122.6 531.5h0M64.1 503.5h0M83.7 483.2h0M65.7 482h0M47 514.4h0M58.4 499.7h0M83.7 483.3h0M76.6 478.3h0M113.4 491.4h0M125.8 496.3h0M119.1 528.9h0M102 482.9h0M90.2 473.9h0M63.3 515.8h0M65.1 499.5h0M111 488.9h0M64.2 513.2h0M72.4 513.2h0M129.2 517.4h0M59.3 513.2h0M127.8 540.4h0M57.7 496.2h0M122.6 495.8h0M65.4 506h0M109.6 484.5h0M67.1 515.4h0M26.1 518.1h0M118.2 516.5h0M126.3 503.5h0M38.4 514.3h0M51.6 481.8h0M114.6 497.8h0M62.7 503.8h0M67.6 505.1h0M60.6 481.6h0M72.7 513.1h0M117 517.5h0M61.3 495.7h0M65.2 515.2h0M66 505.7h0M62.9 483.4h0M64.4 480.2h0M123.6 528.2h0M57 484.2h0M118.5 498.2h0M70.3 507.9h0M60.9 483.3h0M121.2 528.6h0M66.9 507.8h0M122.7 525.5h0M72.2 514.8h0M66.2 502.9h0M132.5 487.2h0M120.6 525.5h0M117.6 517.9h0M82.8 483.2h0M117.2 487.8h0M67.1 507.6h0M119 491.3h0M123.9 478.1h0M57 510.3h0M56.9 487.9h0M64.3 499.5h0M109 487.7h0M123 528.2h0M133.4 494.3h0M81.4 478.2h0M65.7 511h0M126.7 488.9h0M126.5 524.6h0M63.9 502.5h0M127.2 522.5h0M121.6 509.6h0M114.5 500.7h0M73.2 480.3h0M97.4 478.9h0M118.9 539.9h0M123.1 520.3h0M126.1 534.4h0M128.7 507.1h0M127.1 475.1h0M120.2 532.3h0M81.1 481.3h0M121.3 505.5h0M121.3 543h0M105.1 484.4h0M123.9 528h0M115.1 498.8h0M71.7 480.6h0M62 499.2h0M121.5 507.3h0M117 513.4h0M102.3 478.3h0M119.7 542h0M120.4 518.4h0M42.2 516.6h0M62.8 496.5h0M115.2 504.8h0M78.4 480.9h0M52 483.2h0M72.9 513.3h0M115 496.2h0M30.4 511.3h0M124.9 513.2h0M113.3 493.8h0M125.3 456.3h0M70.6 481.1h0M62.9 495.7h0M119.7 542.4h0M84 481.1h0M48.9 514h0M113.5 490.1h0M123.9 517.6h0M116.9 501.1h0M50.7 497.9h0M129 491.4h0M63.3 510.8h0M118 497.2h0M111.2 488.3h0M121.6 526.8h0M123.8 517.6h0M74.9 481.2h0M120.4 540.3h0M92.6 482.7h0M78.4 478.3h0M39.8 514.4h0M125.3 517.8h0M70.6 511.5h0M53.6 493.2h0M117.9 488.9h0M36.4 515h0M75.8 477.9h0M60.8 497.5h0M124.5 484.7h0M74.7 475.5h0M59.3 490.3h0M79.2 475.6h0M114.7 486.3h0M73.6 477.9h0M67.6 505.8h0M120.4 515.2h0M71 511.8h0M72.5 515.2h0M126.4 493.3h0M109.7 479.7h0M119.5 465h0M68.1 510h0M47.9 512.3h0M26.1 517.5h0M128.4 474h0M62.4 500h0M116.8 515.1h0M58.9 510.7h0M63.2 499.1h0M50.8 515.2h0M70.3 515.2h0M45.6 495.6h0M118.7 544.2h0M71.8 509.7h0M69.8 511.8h0M120.7 513h0M64 481.4h0M109.9 488.4h0M63.3 515.2h0M62.6 511.3h0M116.9 499.2h0M27.4 517h0M61.9 515.4h0M47 511.5h0M119 534.9h0M74.9 476h0M119.1 497.8h0M37.5 510.8h0M82 481.4h0M70.2 511.4h0M84.4 479.4h0M57.6 515.2h0M121.2 523.8h0M91.4 481.4h0M124.1 514.9h0M93.8 473.1h0M129.5 508.2h0M63.1 482.4h0M123.9 487.1h0M67.4 502.7h0M62.6 515.3h0M53.7 516.2h0M73.5 473.6h0M96.2 481.4h0M72.1 514.4h0M116.9 493.5h0M123.2 537.5h0M116.5 504.9h0M120.6 537.7h0M111.1 491.7h0M121.6 513.2h0M104.3 477.5h0M88.7 470.6h0M73.5 516.1h0M126.3 495.5h0M118.4 510.7h0M128.4 501.9h0M99.6 480.7h0M53.5 506.8h0M106.9 483.6h0M123.9 518.7h0M43.8 509.9h0M115.2 499.2h0M37.6 497.6h0M108 486.5h0M67.3 515.8h0M71 481h0M130.1 497.9h0M119.7 524.5h0M86.7 477h0M75 482.3h0M51.5 479.2h0M118.6 534.5h0M60.7 508.3h0M84.4 474.6h0M120.3 535.2h0M45.2 514.8h0M122 516.2h0M118.9 495.5h0M122.6 523.7h0M59.2 514.4h0M61.7 500.2h0M71.7 511h0M83.2 482.6h0M66.6 503.1h0M121.3 544.3h0M59 485.2h0M68.4 515.9h0M91.4 476.4h0M91 480.9h0M65.8 501.5h0M119.5 512.4h0M128.2 476.1h0M54 503.5h0M69.9 508.4h0M123.7 506.1h0M69.8 469.8h0M60 476.3h0M62.7 480.7h0M124.4 503.1h0M84.7 483.8h0M66.9 506.5h0M104.6 479.1h0M71.6 473.7h0M60.4 468.7h0M119.7 544.6h0M69.1 477.6h0M106.8 483h0M119.9 517.3h0M63.4 499.4h0M36.5 515.4h0M116.5 508.8h0M120.1 518h0M125.4 492.7h0M118.8 514.8h0M120.8 504.3h0M64.7 501.5h0M106.8 470.7h0M119.8 531.3h0M71.1 509.9h0M101.4 482.2h0M36 494h0M116.7 504.5h0M70.1 514.4h0M63.9 501.7h0M50.6 512.5h0M116.7 513.2h0M32.3 517.2h0M108.7 485.4h0M98.5 472.3h0M119.3 515h0M121.8 539.1h0M83.4 481.2h0M51.4 513.6h0M113.8 492.2h0M61.4 479.7h0M120.9 531.9h0M89.3 473.4h0M113.9 484h0M122.6 544.8h0M66.4 509.6h0M81 482.5h0M127.3 511.8h0M62.3 494.7h0M58 489.9h0M35.5 517h0M60.9 496.9h0M89.7 479.7h0M121.6 528.7h0M33.8 517.1h0M127 505.2h0M41.8 489.4h0M117.1 501.9h0M73.1 514.5h0M59.8 510.1h0M61.9 478.1h0M61.7 483h0M64.9 500.5h0M54.2 489.4h0M111.3 489.2h0M64.8 502.7h0M78.6 480h0M121 513.5h0M52.4 514.9h0M120 492.2h0M118.7 517.6h0M117.4 510.2h0M124.8 492.7h0M97.8 481h0M103.9 481.2h0M60.2 480.9h0M122.7 505.4h0M57.7 484.9h0M112 484.6h0M53.7 515.2h0M120.2 505.9h0M125.3 489.9h0M120.3 542.5h0M64.6 510.6h0M126.6 505.3h0M116.7 510.4h0M79.1 476.9h0M82.4 482.6h0M119.9 532.4h0M64.9 481.2h0M69.2 510.6h0M49.1 514.5h0M69.9 480.4h0M62.3 499.3h0M52.6 501.7h0M119.9 509.3h0M112.1 483.5h0M121.3 532.2h0M35 510.3h0M117.6 514.5h0M119 518.5h0M60.7 494.9h0M60.9 499.5h0M118.7 498.3h0M71.1 514.3h0M124.2 498.5h0M111.7 493.2h0M117.5 501.3h0M85.7 473.5h0M71.1 481.2h0M77.1 480.6h0M119 514.1h0M116.6 508.9h0M119.1 505.5h0M103.9 478.6h0M118.8 537.1h0M68.7 504.6h0M86.6 483h0M123.3 541.6h0M58.8 487.3h0M101.2 477.7h0M122.4 485.4h0M39.5 513.9h0M49.2 487.9h0M117.3 493.8h0M114.1 486.7h0M117.4 505.6h0M63.9 505.8h0M43 516.2h0M82.3 482.7h0M62.8 501h0M117.2 507.5h0M56.2 498.6h0M40.8 516.6h0M80 472.9h0M120.7 522.9h0M113.6 497.1h0M121.7 536.9h0M123.9 474.3h0M76.1 474.4h0M28.9 516.8h0M121.5 518.1h0M121.2 522.1h0M127.7 517.2h0M44.9 514.6h0M57.5 483.8h0M118.8 516.5h0M79.7 481.3h0M60.9 490.4h0M99.9 481.8h0M116.1 508.2h0M32.5 515.2h0M116.5 516.9h0M117.8 518.3h0M63.2 505.8h0M115.9 505h0M65.4 505.3h0M46.1 516h0M59.6 498.8h0M65.1 503h0M114.2 502h0M115.4 502.4h0M81.4 472.5h0M123.7 510h0M70.5 511.9h0M78.2 482.5h0M62.2 480.6h0M46.1 475.9h0M55 511h0M44.7 516.2h0M86.4 482h0M122.4 493.9h0M110.8 481.5h0M50.7 516.7h0M46.1 514.9h0M62.5 509.7h0M54.1 516.5h0M63.6 515.7h0M115.1 496.2h0M116.5 504.8h0M76.4 481.7h0M53.7 493.1h0M114.4 496.9h0M69.5 514.5h0M87.6 479.6h0M51.1 513.1h0M119.1 497h0M47.1 506.5h0M29.2 517.6h0M71.5 481.6h0M32.5 504.9h0M109.9 488.4h0M40.3 516.1h0M59.2 515.5h0M96.1 471.4h0M91 481.2h0M120.1 543h0M51 516.4h0M52.5 516.6h0M60.4 498.1h0M60.9 490.7h0M61.2 492.5h0M58.4 487.9h0M74.3 469.5h0M118.4 519.4h0M42.6 495.6h0M125.5 493.6h0M114.4 495.3h0M49.1 451h0M80.4 482.2h0M50 489.6h0M122.2 528.2h0M75.9 475.6h0M121.5 492.1h0M63.5 503.4h0M98.7 477.3h0M112.2 490.9h0M91.9 482h0M75.6 479.4h0M121.7 543.3h0M119 520.4h0M62.4 502.8h0M58.5 515.7h0M78.4 480.1h0M61.8 499.5h0M40.6 511.2h0M65.2 513.5h0M62.4 470.4h0M118.4 506.4h0M127 530.3h0M60 492.2h0M113 494.3h0M62.8 514.3h0M46.3 515.6h0M54.3 498.4h0M129.1 494.8h0M93.5 476.6h0M110.4 483.1h0M121 513.2h0M61.1 494.9h0M54.8 491.5h0M61 490.1h0M47 502.1h0M84.2 481.7h0M90.5 467.1h0M27.6 517.3h0M121.7 513.7h0M112 490.3h0M126.4 498h0M72.8 514.1h0M54.2 515.2h0M89 483.3h0M56.8 491.1h0M71.8 515.2h0M92.9 480.5h0M81.6 482.5h0M128.1 513.8h0M126.9 471.9h0M120.2 515.5h0M120.1 529.3h0M78 478.2h0M96.4 478.2h0M64 511h0M116.7 495h0M59.6 496.3h0M93.9 479.9h0M120.6 511.4h0M120.3 494.6h0M118.4 516.3h0M116.2 507.7h0M118.6 487.8h0M61.6 498h0M62.5 513.9h0M59.3 499.5h0M110.7 486.9h0M118.1 514.9h0M118.9 532h0M68.1 480.7h0M115.8 498.5h0M112.8 495.6h0M69.7 511.2h0M62.4 508.2h0M124.5 504.4h0M113.1 482.9h0M70.8 481.5h0M119.4 502.4h0M30 508.8h0M95.3 471.1h0M115.4 502.4h0M60.5 514.6h0M117.9 488.8h0M47 513.3h0M113 490.2h0M123.8 526h0M122.5 506.4h0M71.5 509.7h0M62 497.2h0M71.7 477.4h0M118.2 484.3h0M79.5 478.1h0M124.9 518.4h0M56.9 513.6h0M117.1 511.3h0M128.4 507.8h0M52.5 509.8h0M29.7 517.4h0M119.8 513.9h0M34.6 512.8h0M120.7 511.6h0M117.1 514.6h0M82.2 481.9h0M63.5 507.7h0M69.1 511h0M119.4 528.1h0M113.9 495.7h0M108.2 466.7h0M125.7 546.4h0M75.9 479.1h0M71.2 514.2h0M68.4 510.6h0M66.9 514.1h0M62.7 497.6h0M126.9 483.6h0M72.5 513.5h0M111.1 490.9h0M57.4 484.7h0M50.4 516.7h0M97.2 480.2h0M35 516.1h0M127.4 486.4h0M114.7 486.2h0M74.7 480.7h0M37.5 516.5h0M120.4 490.5h0M53.5 490h0M133.9 530.3h0M103.2 481.1h0M115.2 503.6h0M122.4 513.3h0M128.5 515.7h0M132.6 500.5h0M118.5 517.5h0M126 513h0M40.1 513.8h0M62.5 496.4h0M121.2 526.1h0M47.3 477.6h0M31.9 501.8h0M63.7 516h0M62.2 495.8h0M85.6 476.2h0M118 509.9h0M36.6 491.2h0M119.7 508.6h0M78.3 472.2h0M112.9 487.6h0M60.1 485.9h0M52.7 512.9h0M66.5 479.2h0M113.5 496.6h0M123.4 525.4h0M119.1 524.4h0M117.3 514.5h0M118.3 511.1h0M114.5 498.7h0M47.7 516.5h0M123.3 497.1h0M132.2 494.5h0M34.5 517.7h0M85.4 483.2h0M52.8 515.8h0M129.8 498.9h0M71.4 480.4h0M63.4 503.2h0M124.9 504.7h0M56.7 491.1h0M50.9 497.2h0M118.3 513.4h0M90.1 481.9h0M130.7 485.5h0M86.7 480.4h0M70.2 509.1h0M115.7 485.5h0M103.5 482.4h0M49.4 500.8h0M116.8 513.7h0M65.5 500.6h0M88.7 479.6h0M65 503.7h0M121.4 524.5h0M60.3 495.6h0M64.5 508.1h0M84.8 472.4h0M82.6 482.3h0M42.7 513.8h0M128.2 503.7h0M92.5 478h0M120.1 544.5h0M71.5 476.4h0M71 508h0M120.4 522.8h0M65.2 501.4h0M38.2 509.5h0M117.6 488.9h0M69.8 515.8h0M69.7 510.3h0M122.7 510h0M119.1 495.3h0M73 513h0M25.7 517h0M120.9 520h0M123.3 544h0M83.4 464.8h0M70.9 515.8h0M115.7 507.5h0M76.1 471.3h0M54.2 492h0M117.5 506.2h0M124.7 506.2h0M60.6 515.2h0M117.4 512.8h0M71.1 474.7h0M117.1 508.2h0M70 512.7h0M88.2 483.6h0M122.9 471.7h0M46.7 507.3h0M96.7 480.3h0M84.2 481.4h0M64.5 482.4h0M60.5 490.9h0M119.2 518.9h0M72.3 516.1h0M66.6 515.2h0M54 513.6h0M65.6 501.8h0M59.2 482.7h0M65.5 515.3h0M123 490.4h0M54.6 511.7h0M120.4 502.2h0M64.5 505h0M86.3 481.6h0M68.4 507.5h0M52.9 490.5h0M69.7 506.3h0M112.2 488.8h0M58.2 505.4h0M121.7 530.5h0M122.2 525.5h0M123.6 517.1h0M119.1 493.4h0M114.3 498.6h0M112.3 491h0M55.1 508.8h0M62.1 482.6h0M120.7 522.9h0M102.2 479.1h0M108.8 488.2h0M115.7 504.7h0M55.6 494.2h0M119.3 492.1h0M115.7 503.8h0M60.5 514.1h0M77.1 477.1h0M28.7 517.9h0M123.3 529.3h0M113.6 483.2h0M59.9 490.9h0M69.5 474.3h0M33.7 493.8h0M119 520.4h0M123.4 527.2h0M118.5 512.3h0M122.4 521.2h0M57 486.5h0M61.5 481.5h0M119.9 469.5h0M58.4 502.1h0M116.7 515.7h0M57.4 490.2h0M120.9 524.4h0M47.3 510h0M59.4 490.6h0M58.2 499.4h0M124.8 519.3h0M65.5 513.7h0M58.4 499.9h0M57.3 510.2h0M124.6 503.2h0M39.3 513.2h0M72.4 479h0M123.6 491.3h0M27.1 513.7h0M32.6 516.6h0M73.1 514.1h0M123.7 501.7h0M123.9 534h0M34.7 510.6h0M42.9 516.2h0M122 528.7h0M123 546.7h0M115.4 504.1h0M72.1 515.3h0M79 481.3h0M71 508.9h0M124 501.2h0M119.1 544.3h0M51.1 478.2h0M129.7 537.8h0M56.5 483.6h0M61.5 513.6h0M66.2 503.4h0M122.9 518.7h0M120.7 523.5h0M103.3 481.7h0M62.1 482.3h0M61 482.9h0M118.9 530h0M52.5 515.2h0M117.5 510.6h0M59.4 493.3h0M116 493.4h0M105.2 484.3h0M98 482.3h0M118 518.3h0M55.9 497.9h0M35.7 517.5h0M90.6 477.2h0M121.3 520.2h0M125.8 530.1h0M88.5 477.8h0M58.3 490.1h0M119.3 498.9h0M113.9 502.5h0M140.9 516h0M97.5 460.4h0M136.7 479.8h0M50.6 439h0M126.8 540.9h0M50.9 513.7h0M79 431.6h0M80.5 460.2h0M27.2 460.5h0M71.8 478.3h0M131.4 465.7h0M101.9 472.3h0M90.3 431.5h0M43.8 495.6h0M44.1 475.5h0M33.3 474h0M43.6 503.7h0M57.2 489.8h0M78.2 469.1h0M86 473.4h0M140.2 445.6h0M92.4 431.4h0M48.8 509.5h0M96.1 456.2h0M39.8 477.6h0M35.6 503.5h0M125.7 447.4h0M66 515.1h0M123.8 506.6h0M113.9 449.5h0M80.8 448.7h0M52.6 512.3h0M39 466.1h0M83.1 440.6h0M61.5 511.7h0M57.4 491h0M45.6 500.1h0M56.6 438.3h0M68.6 508.2h0M66.5 510h0M142.1 435h0M72.4 515.9h0M135.4 439.6h0" fill="none" stroke="#333" stroke-width="0.75" stroke-linecap="round"/>
<path d="M96.7 508.3h0M74.4 488.2h0M75.4 495.9h0M81.7 493.5h0M78.8 497.1h0M79 516h0M77.3 492.7h0M97.5 508.4h0M94.9 487.3h0M72.2 499.1h0M75.5 494h0M103.1 498.3h0M85 492.6h0M104.6 488.8h0M76.8 495.1h0M99.4 505.7h0M85.2 493.7h0M82.3 492.1h0M70.9 498.6h0M82.2 494.4h0M84.4 495.2h0M76.6 508.9h0M78.5 496.7h0M80.7 497.6h0M78.3 499.1h0M73.2 492.2h0M87.1 496.5h0M80.9 500h0M79.4 504.3h0M104.9 497.8h0M108.9 507.5h0M72.6 492.9h0M79.7 493.5h0M82.6 493.6h0M79.4 499.8h0M79 508.3h0M101.9 505.3h0M77.4 497.7h0M84.5 490.2h0M102.3 499.4h0M100 506.4h0M101.1 510.2h0M94.1 513.3h0M79.2 499.5h0M74.7 489.6h0M95.2 488.8h0M87 508.6h0M74.6 504.3h0M81.4 506.8h0M77.7 495h0M82.7 497.9h0M81 494.8h0M76.7 500.8h0M75.9 493.7h0M87 503.3h0M68 485.3h0M78 494h0M78.2 495.8h0M81.9 490.6h0M76.5 495.5h0M81.8 495.8h0M83.9 496.3h0M74.4 490.7h0M82.5 497.1h0M76.7 488.3h0M77.9 491.4h0M104.7 505.4h0M74.6 495.5h0M75.9 491.5h0M76.2 495.4h0M75.9 506.6h0M72.8 497.7h0M78.8 494h0M76.6 499h0M97.2 505.6h0M99.2 489.1h0M93.6 505h0M75.2 498.6h0M98.9 488.6h0M76.6 490.7h0M79.6 496.9h0M78.4 498.3h0M97.1 514.1h0M67.7 488.3h0M101.8 499.1h0M97 488.4h0M73.2 499.2h0M92.9 502h0M85.4 500h0M72 496.3h0M93.9 500h0M90.2 488.4h0M104.2 510.7h0M80.8 496.1h0M96.3 495.7h0M80 498.5h0M100 495.5h0M78.5 501.5h0M100.2 509.6h0M97 500.6h0M78.9 494.4h0M100.3 500.8h0M80.3 496.1h0M93.8 499h0M87.1 498.3h0M94 506.2h0M98.4 500.7h0M100.3 502.3h0M78.4 491.7h0M76.8 490.5h0M101.3 502.4h0M73.2 495.1h0M92.6 493h0M77.7 498.1h0M84.1 498.2h0M75.4 495.1h0M79.6 502.8h0M83.1 517.3h0M93.4 496.1h0M101.4 494.1h0M97.2 503.1h0M75.5 494.5h0M80.7 496h0M79 514.7h0M100 509.2h0M81.2 492.7h0M88.6 506h0M95.2 503.9h0M84.8 494.4h0M97.1 503.9h0M96.8 499.6h0M99 495.2h0M81.8 498.4h0M76.2 499.7h0M79.9 498.2h0M84.1 507.2h0M99.6 490.4h0M95.1 501.3h0M78.2 500.5h0M103.6 489.1h0M95.8 503.2h0M78.8 494.2h0M68.6 488.7h0M88.4 513.5h0M77.3 493.5h0M97.3 503.6h0M80.8 498.4h0M74.9 487.8h0M98.4 510.8h0M79 494.7h0M81.3 497.8h0M67.9 487.1h0M98.5 502.7h0M100.3 488.4h0M86.3 502.6h0M98.1 505.1h0M73.8 485.8h0M98 495.8h0M98.6 500.7h0M97.7 511.6h0M82.9 498h0M97.9 492.5h0M74.4 500.4h0M94.8 508.9h0M95.4 498.1h0M80.8 494.9h0M82.7 508.9h0M91.3 511.8h0M77.2 492.5h0M90.2 492.5h0M93 503.1h0M72.1 497.4h0M71.3 488.8h0M83.7 517.6h0M84.6 495.1h0M89.4 494h0M77 491.5h0M79.1 493.1h0M93.3 496.7h0M81.7 490.7h0M84 503.2h0M80.9 496.7h0M101.2 496.8h0M100.8 489.6h0M71.4 491.7h0M97.6 501.6h0M88.9 514.1h0M94 504.7h0M98.5 500.8h0M73.6 499.6h0M83 492.3h0M80.4 506.3h0M81.6 500.4h0M77.4 491.4h0M76.5 497.6h0M101.9 488.1h0M81 495.5h0M75.3 493.1h0M82.1 494.5h0M101.2 501.3h0M99.9 501.5h0M71.9 491h0M76.5 508.4h0M78.9 515.7h0M95 506.6h0M102.7 490.5h0M82.8 516.9h0M78.9 496.2h0M100.1 509.8h0M95.8 514.1h0M78.2 493.7h0M86.6 489.4h0M76.3 489.1h0M76.1 497.1h0M76.8 490.6h0M76.2 499.5h0M78.9 507.2h0M75.3 501.2h0M95 501.1h0M94.1 486.9h0M85.7 493.5h0M104.9 491.1h0M96.9 509.4h0M89.5 498.5h0M73.1 494.6h0M75.7 499.5h0M76.4 499.1h0M81.5 496.6h0M78.5 491h0M84.1 494.5h0M99.3 506.6h0M78.7 498.9h0M104.8 507.5h0M84.9 488.4h0M97.8 502.3h0M80.1 501.5h0M81.3 505.3h0M90.5 505.1h0M72.1 490.6h0M81.2 499h0M66.3 489.6h0M79.8 487.8h0M84.8 500.4h0M80.6 513.5h0M103.5 514h0M72.7 495.9h0M79.2 513.5h0M72.1 497.1h0M107.8 513.5h0M93.2 507.5h0M74.5 499.7h0M99.2 497.8h0M96.3 504.6h0M96.6 508.3h0M75.7 493.2h0M98.6 487.9h0M83.1 496.8h0M81.8 518.8h0M78 498h0M88.8 506.9h0M106.2 508h0M105.2 497.4h0M79.7 497.5h0M106.9 514.7h0M72 490.9h0M87.2 512.2h0M91.1 509.4h0M92.9 487.4h0M72.4 488.5h0M99.6 502.7h0M88.5 495.4h0M81.8 499h0M76.7 497.5h0M88.4 491h0M92 505.4h0M85.2 501.7h0M75.8 509.1h0M75.8 493.9h0M99.5 506.5h0M99.6 504.1h0M77 488.9h0M93.2 503.1h0M107 513.9h0M68.9 493.7h0M78.2 497.9h0M98.8 504.3h0M83.3 517.2h0M76.3 505.7h0M77.4 498.4h0M67.5 486.6h0M81.9 499.7h0M79.7 500h0M83.4 494.3h0M84.2 494.5h0M77 497.9h0M67.1 491.5h0M77 491.9h0M97.8 485h0M98.8 502.9h0M100.9 488.1h0M77.5 499.6h0M79.6 501.4h0M100.3 504h0M67.5 488.7h0M73.7 488.6h0M87.5 488.6h0M82.2 493.6h0M80 493.7h0M101.3 505.5h0M97.2 499.2h0M88 490.1h0M81.3 515.9h0M79.7 491.9h0M97.3 506.4h0M78.2 488.1h0M90.9 505.2h0M76.8 496.9h0M78 517.5h0M77.9 509.9h0M96.7 507.8h0M89.3 505.6h0M97.3 502.9h0M78.6 489.1h0M98.4 507.9h0M96.7 508.1h0M75.7 493.9h0M77.9 494.5h0M85.7 491.9h0M80.1 495.2h0M80.9 492.9h0M79.9 505.9h0M88.2 499.8h0M99.9 506h0M72 498.2h0M107.2 516.2h0M70.7 487.2h0M88.4 505.7h0M80.4 508.3h0M81.4 514.7h0M79.2 498.1h0M86.5 501.1h0M81.9 492.6h0M69.1 498.4h0M97.4 504h0M85.2 491h0M79.7 495.9h0M77.9 495.9h0M81.6 498.3h0M83.6 495.2h0M77.6 503.3h0M73.6 491.8h0M78.1 495.2h0M83.9 495.6h0M77.8 497.2h0M66 488.8h0M68.4 495.4h0M98.1 497.9h0M73.5 495h0M79.8 499.9h0M73.7 497.5h0M80.1 499.6h0M69.3 490.8h0M83.4 498.6h0M79.7 495.3h0M76.7 495h0M82.2 491.1h0M88.9 499.1h0M74.8 489.2h0M82.7 499.4h0M98.6 507.5h0M88 489.7h0M90 501.1h0M82.6 502.8h0M107.5 499.4h0M84.5 491.4h0M68.1 492h0M96.2 507.7h0M82.4 496.3h0M97.6 500.7h0M82.9 496.1h0M105 495.8h0M103.8 505.2h0M105 492.5h0M102.9 498.5h0M107.6 505h0M107.2 501.4h0M77.1 496.4h0M103.2 507.2h0M86.8 504.7h0M80.7 488.8h0M76.8 508.4h0M74.3 493.5h0M102.8 495.4h0M85.6 495.5h0M81.6 503.7h0M89.3 503.4h0M95.8 502.7h0M73 491.3h0M75.6 489.8h0M101.1 490.9h0M76.8 495.6h0M102.2 492.6h0M96.2 503.5h0M72.7 487.7h0M102 493.1h0M83.3 498.8h0M84.8 506.9h0M100.5 499.3h0M93.6 503h0M98.1 503h0M91.6 488.5h0M77.5 510.6h0M73.9 493h0M79.4 494.9h0M105.5 499.6h0M102.2 510.9h0M95.4 512.8h0M76.4 496.2h0M68.5 488h0M93.2 507.3h0M77 496h0M81.8 495.6h0M75.4 502.6h0M80.5 499.9h0M77.6 486.6h0M106.7 496.4h0M80.2 495.2h0M97.9 507.9h0M106.8 512.4h0M81.2 493.9h0M84.6 492.8h0M74.7 495.7h0M103 489.2h0M93.7 500.4h0M72.9 491.4h0M74.2 490.9h0M71.3 486.7h0M65.7 493.4h0M73.7 493.6h0M99.4 502.9h0M71.9 493.9h0M83.8 500.4h0M86.9 491.3h0M82.1 500.9h0M96.3 493.5h0M74 494.4h0M92.2 505.2h0M104.5 511.9h0M96.3 500.5h0M75.7 486.6h0M67.6 486.3h0M87.1 507.7h0M79.3 499h0M102.6 499.3h0M77.2 492.4h0M74.2 498.4h0M83.4 492.8h0M109.7 510h0M83.2 492.7h0M77.2 497.9h0M70.7 490.9h0M75.4 500.8h0M92.2 487.2h0M75.3 495.2h0M75.5 494.1h0M81.9 495.7h0M97.1 486.3h0M97.7 499.3h0M77.9 517.3h0M105.5 512.8h0M76.4 510.2h0M70.1 490.8h0M75.2 493.6h0M79.8 491.2h0M76.9 512.2h0M87.5 510.3h0M79 498.6h0M103.4 507.1h0M83.7 498.1h0M95.8 490.9h0M103.8 496.7h0M93.7 503.5h0M86.6 497.8h0M74.3 496.9h0M74.2 494.2h0M91.6 514.4h0M71.1 496.6h0M106.5 507.2h0M91.5 503.2h0M65.5 486.3h0M75.1 493.9h0M81.9 499.8h0M77.4 493.8h0M80.4 497.5h0M93.2 498h0M80.9 499.5h0M83.7 497.1h0M94 510.7h0M69.9 495.4h0M77.6 496.6h0M98.2 502.7h0M98 506.5h0M70.1 489.8h0M100 492.9h0M78.9 489.7h0M71.5 495h0M82.3 499.8h0M87.7 497.8h0M69.7 494.1h0M97.7 507h0M102.2 486.4h0M88.5 495.3h0M84.7 515.4h0M100.7 491.3h0M76.1 495.7h0M77.1 491.8h0M73 493.3h0M82.7 495.5h0M84.4 494.7h0M81.3 497h0M82.3 496.2h0M78.2 500.3h0M82.3 517.5h0M82.1 496.2h0M77.7 497.6h0M79.1 502.9h0M99 505h0M78.1 498.4h0M70.8 487.5h0M85 500.8h0M86.5 490.1h0M96.5 486.5h0M67.5 492.6h0M75 497.8h0M99.7 504.8h0M81.7 494.8h0M102.8 504.5h0M79.4 516.3h0M87.1 494.2h0M78 497.8h0M89.9 500h0M79.1 494.8h0M74 493.1h0M83.5 491.8h0M99.1 489.1h0M76.4 489.8h0M101.4 509.5h0M80.3 493h0M75 494.5h0M98.7 506.4h0M104.8 496h0M99.6 509.7h0M96.7 502.4h0M82.6 500.7h0M90.9 493.1h0M93.6 497h0M84.8 495.9h0M76.6 498.4h0M96.9 507.7h0M68.2 496.6h0M91.8 511.2h0M83.2 494.7h0M93.3 494.2h0M65.2 491.9h0M98.2 500.8h0M72 493.1h0M96 484.7h0M99.5 504.9h0M90.6 495.6h0M78 497.1h0M73.8 500.5h0M72.4 500.4h0M67.9 496.2h0M83.6 502.1h0M80.5 491.8h0M99.2 505h0M81.4 496h0M76.2 492.2h0M72.9 498h0M104.8 495.1h0M79.2 498.7h0M78.4 514.1h0M104 502.1h0M99.5 504.5h0M87.7 511.5h0M84.9 492.9h0M74.6 494.3h0M99.8 494.7h0M96 507h0M68 487h0M73.9 494.2h0M103.3 488.9h0M83.3 499.4h0M87.6 501.8h0M77.2 494.3h0M79 496.8h0M75.1 506.7h0M95.4 499.2h0M81.1 495.8h0M103.2 488.9h0M80.5 497.8h0M91.6 507.4h0M109.5 505.6h0M87.5 506.7h0M85.5 499.6h0M82.9 505.7h0M85 507.1h0M70.6 489.1h0M74.5 499.4h0M105.5 496.8h0M72.7 496.7h0M97.1 496.3h0M77 493.9h0M80.2 499.1h0M67.7 494.9h0M65 492.4h0M80.1 494.9h0M100.6 501.1h0M99.2 486.7h0M85.7 506.6h0M104.4 500h0M74.6 490.8h0M78 496.9h0M96.1 502.2h0M105.3 512.1h0M78.9 490.3h0M90.5 505.8h0M74.7 496.8h0M74.7 493.2h0M79.8 498.3h0M81.5 497.2h0M79.6 503.1h0M94.5 486.9h0M77 495.6h0M103.1 493.5h0M92.2 507.9h0M77.3 496.1h0M79.2 508.2h0M78.1 489.7h0M72.6 497.6h0M73.3 494h0M83.6 501.4h0M69.9 493.7h0M73.4 497.5h0M75.5 492.8h0M96.2 497.5h0M81.4 506.4h0M105.6 513.5h0M94.9 514.2h0M84.6 494h0M109 513.2h0M85.5 494.6h0M102.4 498.4h0M105.4 506.1h0M80.7 500.2h0M99.5 500.6h0M99.3 505.7h0M81.5 500.2h0M76.4 492.8h0M103.8 509.3h0M69.6 490h0M104.2 488.7h0M90.6 489.3h0M83.4 495.7h0M77.9 500.9h0M76.4 501.4h0M80.8 501.2h0M74.4 500.2h0M100 512.6h0M69.9 495.6h0M75.1 495.2h0M78.5 494h0M90.4 502.1h0M76.3 492.6h0M84.6 502.6h0M78.1 495.8h0M80.3 494.3h0M87.7 511.1h0M98.9 507h0M100 506.7h0M76.9 492.6h0M94.9 505.2h0M74.6 498.4h0M98.1 498.6h0M72.3 485.2h0M82.5 495.8h0M79.8 497.5h0M98.3 502h0M100.5 513.7h0M99.3 499.8h0M97.1 500.4h0M96.1 503.3h0M100 503.3h0M82.3 495.4h0M79.5 490.4h0M76.9 486.9h0M100.6 498.4h0M81.9 493.9h0M101.5 506.8h0M100.5 499.1h0" fill="none" stroke="#666" stroke-width="0.7" stroke-linecap="round"/>
<path d="M67.2 481.6l1 0 1 0 1 0.1 1 0.1 1 0.2 1 0.1 1 0.2 1 0.2 1 0.2 1 0.2 1 0.2 1 0.2 1 0.2 1 0.2 1 0.2 1 0.1 1 0.1 1 0 1 -0.1 1 -0.1 1 -0.2 1 -0.2 1 -0.2 1 -0.3 1 -0.2 1 -0.1 1 -0.2 1 -0.2 1 -0.1 1 0 1 0 1 0.1 1 0.2 1 0.2 1 0.3 1 0.4 1 0.5 1 0.6 0.8 0.7 0.9 0.7 0.7 0.7 0.8 1 0.6 0.9 0.4 0.9 0.6 1 0.4 1 0.5 1 0.5 1 0.4 1 0.3 1 0.3 1 0.3 1 0.2 1 0.3 1 0.2 1 0.3 1 0.2 1 0.3 1 0.3 1 0.3 1 0.3 1 0.3 1 0.3 1 0.2 1 0.2 1 0.1 1 0.1 1 0.1 1 0 1 0 1 -0.1 1 -0.3 1 -0.4 1 -0.6 0.9 -0.8 0.8 -0.9 0.5 -1.1 0.5 -1 0.2 -1 0.2 -1 0 -1 -0.1 -1 0 -1 -0.2 -1 -0.1 -1 -0.2 -1 -0.2 -1 -0.3 -1 -0.3 -1 -0.4 -1 -0.3 -1 -0.3 -1 -0.2 -1 -0.2 -1 -0.1 -1 0.1 -1 0.1 -1 0.2 -1 0.4 -1 0.5 -1 0.7 -0.8 0.6 -0.7 0.8 -0.7 0.7 -0.9 0.7 -0.9 0.6 -1 0.5 -1 0.3 -1 0.1 -1 0 -1 -0.1 -1 -0.3 -1 -0.4 -1 -0.7 -0.8 -0.7 -0.6 -0.8 -0.6 -1 -0.5 -1 -0.4 -1 -0.3 -1 -0.2 -1 -0.3 -1 -0.1 -1 -0.2 -1 -0.2 -1 -0.2 -1 -0.3 -1 -0.4 -1 -0.5 -1 -0.6 -1 -0.7 -1 -0.6 -1 -0.7 -1 -0.6 -0.9 -0.6 -0.8 -0.6 -1 -0.7 -1 -0.7 -1 -0.6 -1 -0.5 -0.8 -0.7 -1 -0.5 -1 -0.5 -0.9 -0.5 -1.1 -0.4 -1 -0.4 -1 -0.2 -1 -0.2 -1 -0.2 -1 0 -1 0 -1 0.2 -1 0.4 -1 0.5 -1 0.8 -0.9 1 -0.8 1 -0.5 1 -0.4 1 -0.1zM66.7 483.6l1 -0.2 1 0 1 0.1 1 0.1 1 0.2 1 0.2 1 0.2 1 0.2 1 0.3 1 0.3 1 0.3 1 0.2 1 0.2 1 0.2 1 0.2 1 0.1 1 0.1 1 0.1 1 -0.1 1 -0.1 1 -0.2 1 -0.3 1 -0.3 1 -0.4 1 -0.3 1 -0.2 1 -0.3 1 -0.2 1 -0.2 1 -0.1 1 -0.1 1 0.1 1 0.1 1 0.2 1 0.4 1 0.4 1 0.6 1 0.8 0.7 0.7 0.8 0.9 0.6 1.1 0.4 1 0.4 1 0.3 1 0.5 1 0.4 1 0.4 0.9 0.4 1.1 0.3 1 0.2 1 0.2 1 0.3 1 0.2 1 0.3 1 0.3 1 0.2 1 0.4 1 0.3 1 0.3 1 0.3 1 0.3 1 0.2 1 0.2 1 0.2 1 0.1 1 0 1 0 1 -0.2 1 -0.5 1 -0.8 0.9 -0.8 0.6 -1.2 0.3 -1 0.2 -1 0 -1 -0.1 -1 -0.1 -1 -0.2 -1 -0.2 -1 -0.2 -1 -0.3 -1 -0.3 -1 -0.3 -0.9 -0.3 -1.1 -0.3 -1 -0.2 -1 -0.1 -1 -0.1 -1 0 -0.9 0 -1.1 0.2 -1 0.2 -1 0.3 -1 0.5 -0.9 0.5 -0.8 0.6 -1 0.9 -0.8 0.7 -0.9 0.8 -1 0.7 -1 0.4 -1 0.2 -1 0 -1 -0.3 -1 -0.5 -0.9 -0.8 -0.8 -1 -0.6 -1 -0.4 -1 -0.3 -0.9 -0.4 -1.1 -0.2 -1 -0.2 -1 -0.2 -1 -0.1 -1 -0.2 -1 -0.3 -1 -0.3 -1 -0.5 -1 -0.5 -1 -0.7 -0.9 -0.5 -0.8 -0.7 -0.9 -0.6 -0.8 -0.6 -0.9 -0.7 -0.9 -0.6 -0.9 -0.6 -0.9 -0.6 -1 -0.7 -1 -0.6 -1 -0.6 -1 -0.6 -0.9 -0.7 -1.1 -0.5 -1 -0.4 -0.9 -0.2 -1.1 -0.2 -1 -0.1 -1 0 -1 0.2 -1 0.5 -1 0.8 -0.9 1 -0.7 1 -0.3zM67 484.6l1 -0.1 1 -0.1 1 0.1 1 0.2 1 0.1 1 0.3 1 0.2 1 0.3 1 0.3 1 0.4 1 0.3 1 0.2 1 0.3 1 0.2 1 0.2 0.9 0.1 1.1 0.2 1 0.1 1 0.1 1 -0.1 1 -0.3 0.9 -0.4 1 -0.6 1.1 -0.4 1 -0.4 1 -0.4 1 -0.3 1 -0.3 1 -0.2 1 -0.1 1 0 1 0 1 0.2 1 0.3 0.9 0.4 0.9 0.5 0.9 0.7 0.7 0.7 0.7 0.9 0.4 1 0.2 1 0.1 1 -0.1 1 0.1 1 0.3 1 0.4 1 0.4 1 0.4 1 0.2 1 0.3 1 0.2 1 0.3 1 0.2 1 0.3 1 0.2 1 0.3 1 0.3 1 0.4 0.9 0.3 1.1 0.3 1 0.2 1 0.3 1 0.1 1 0.1 1 0 1 -0.3 1 -0.8 0.7 -1 0.3 -1 0.1 -1 -0.1 -1 -0.1 -1 -0.2 -1 -0.2 -1 -0.2 -1 -0.2 -1 -0.3 -1 -0.2 -1 -0.1 -1 -0.2 -1 -0.1 -1 -0.1 -1 0 -1 -0.1 -1 0.1 -1 0 -1 0.2 -1 0.3 -1 0.4 -0.9 0.4 -0.9 0.7 -0.7 0.7 -0.7 0.6 -0.8 0.8 -1 0.8 -1 0.6 -1 0.3 -1 0 -1 -0.3 -1 -0.6 -0.8 -0.8 -0.6 -1 -0.5 -1 -0.4 -1 -0.3 -1 -0.2 -1 -0.2 -1 -0.1 -1 -0.2 -1 -0.1 -1 -0.2 -1 -0.2 -1 -0.4 -1 -0.6 -0.9 -0.6 -0.9 -0.7 -0.7 -0.7 -0.7 -0.7 -0.8 -0.7 -0.9 -0.7 -0.9 -0.7 -1 -0.6 -0.9 -0.7 -1.1 -0.6 -1 -0.7 -1 -0.6 -0.8 -0.6 -0.9 -0.6 -0.9 -0.5 -1 -0.4 -1.1 -0.3 -1 -0.1 -1 0 -1 0.3 -1 0.5 -0.8 0.7 -0.8 1 -0.5z" fill="none" stroke="#000" stroke-width="0.6" stroke-linejoin="round"/>
<path d="M96.5 485.4l1 -0.1 1 0 1 0.1 1.1 0.3 0.9 0.4 0.9 0.5 0.9 0.8 0.7 1 0.2 1 -0.3 1 -0.6 0.8 -0.8 0.7 -1 0.6 -1 0.5 -0.8 0.6 0.2 1 0.6 0.8 0.8 0.9 0.7 0.9 0.7 1 0.7 1 0.6 1 0.4 1 0.2 1 0.1 1 0 1 -0.1 1 -0.3 1 -0.4 1 -0.5 1 -0.6 0.8 -0.7 0.8 -1 0.8 -1 0.5 -1 0.4 -1.1 0.2 -0.9 0.1 -1 0 -1 -0.1 -1 -0.1 -1 -0.3 -1 -0.4 -0.9 -0.5 -0.7 -0.8 -0.5 -1 -0.4 -1 -0.3 -1 -0.2 -1 -0.3 -1 -0.2 -1 -0.4 -1 -1.1 -0.1 -1 0.6 -0.8 0.8 -0.3 1 0.1 1 0.4 1 0.5 1 0.5 1 0.3 1 0.2 1 -0.1 1 -0.2 1 -0.5 1 -0.6 1 -0.7 1 -0.8 0.7 -1 0.7 -1 0.3 -1 -0.1 -1 -0.5 -0.8 -0.7 -0.6 -0.9 -0.5 -1 -0.3 -1 -0.1 -1 -0.1 -1 -0.1 -1 0 -1 0.1 -1 0 -1 0 -1 -0.3 -1 -0.6 -0.8 -0.9 -0.7 -0.8 -0.6 -1 -0.7 -0.8 -0.6 -0.8 -0.7 -0.7 -0.8 -0.7 -0.9 -0.6 -0.8 -0.5 -0.9 -0.5 -1 -0.7 -1 -0.7 -1 -0.7 -1 -0.8 -1 -0.5 -0.8 -0.5 -0.9 -0.4 -1 -0.1 -1 0 -1 0.3 -1 0.9 -1 1 -0.5 1 -0.2 1 0 1 0.1 1 0.1 1 0.2 1 0.3 1 0.3 1 0.4 1 0.3 1 0.4 1 0.2 1 0.3 1 0.2 1 0.3 1 0.2 1 0.3 1 0.4 1 0.3 1 0.5 1 0.6 0.8 0.7 0.6 0.8 0.4 1 0.4 1 0.3 1 0.4 1 1 0.2 1.1 -0.4 1 -0.7 0.9 -0.6 1.1 -0.7 0.7 -0.8 -0.7 -0.8 -1 -0.7 -1 -0.6 -1 -0.6 -0.8 -0.8 -0.2 -1 0.3 -1 0.7 -0.7 1 -0.7 1 -0.5 1 -0.3 1 -0.3zM96.4 485.9l1 -0.2 1 0 1 0.2 1 0.3 1 0.4 1 0.8 0.6 0.8 0 1.2 -0.6 1 -1 0.7 -1 0.4 -0.9 0.2 -1 0 -1.1 -0.1 -1 -0.3 -1 -0.5 -1 -0.6 -0.7 -0.6 -0.5 -1 0.3 -1 0.7 -0.8 1 -0.5 1 -0.4zM67.7 486.4l1 -0.2 1 0 1 0.1 1 0.2 1 0.3 1 0.3 1 0.3 1 0.4 1 0.3 1 0.2 1 0.3 1 0.2 1 0.3 1 0.3 1 0.3 1 0.4 1 0.5 1 0.7 0.7 0.6 0.8 1 0.5 1 0.3 1 0.2 1 0 1 -0.2 1 -0.3 1 -0.6 1 -0.9 1 -0.8 0.7 -0.9 0.8 -1 0.8 -0.8 0.7 -0.7 1 0.2 1 0.7 1 0.7 1 0.6 1 0.4 1 0.3 1 0 1 -0.1 1 -0.4 1 -0.6 1 -0.8 0.7 -1 0.3 -1 -0.1 -1 -0.6 -0.7 -1 -0.3 -1 -0.1 -1 -0.1 -1 0.1 -1 0 -1 0.2 -1 0.3 -1 0.3 -1 0.1 -1 -0.8 -0.8 -0.9 -0.5 -0.9 -0.4 -1 -0.5 -1 -0.5 -1 -0.6 -1 -0.7 -0.7 -0.8 -0.8 -0.9 -0.6 -0.9 -0.6 -1 -0.5 -1 -0.6 -0.9 -0.7 -1.1 -0.7 -1 -0.8 -1 -0.6 -1 -0.5 -1 -0.3 -1 -0.1 -1 0.2 -1 0.8 -0.8 1 -0.4zM95.7 496.1l1 -0.2 1 0.1 1 0.4 1 0.7 0.7 0.7 0.8 0.8 0.7 0.8 0.5 0.9 0.6 1 0.3 1.1 0.1 1 -0.1 1 -0.2 1 -0.4 1 -0.5 0.9 -0.7 0.9 -0.8 0.7 -1 0.6 -1 0.5 -1 0.3 -1 0.1 -1 0 -1 -0.1 -1 -0.3 -1 -0.6 -0.8 -0.7 -0.6 -1.1 -0.5 -1 -0.3 -1 -0.2 -1 -0.2 -1 0 -1 0 -1 0.3 -1 0.5 -1 0.8 -0.9 0.7 -0.7 0.8 -0.6 1 -0.6 1 -0.5zM96.7 486.4l1 -0.2 1 0 1 0.2 1 0.5 0.9 0.7 0.4 1 -0.4 1 -0.9 0.7 -1 0.3 -1 0.1 -1 -0.1 -1 -0.4 -0.9 -0.6 -0.8 -1 0.1 -1 0.9 -0.9zM69 487.1l1 0 1 0.1 1 0.1 1 0.3 1 0.3 1 0.3 1 0.3 1 0.2 1 0.3 1 0.2 1 0.3 1 0.2 0.9 0.4 1.1 0.4 1 0.5 0.9 0.6 0.8 0.8 0.7 1 0.5 1 0.3 1 0 1 -0.1 1 -0.4 1 -0.5 1 -0.8 0.9 -0.7 0.8 -1 0.7 -0.9 0.6 -1 0.5 -1.1 0.3 -1 0 -1 -0.2 -1 -0.2 -1 -0.4 -1 -0.4 -1 -0.5 -1 -0.8 -0.7 -0.6 -0.8 -0.9 -0.7 -1 -0.5 -1 -0.5 -1 -0.5 -1 -0.8 -1 -0.7 -1 -0.7 -1 -0.6 -1 -0.4 -1 -0.1 -1 0.2 -1 0.8 -0.7 1 -0.3zM96 497.4l1 -0.1 1 0.2 1 0.5 0.9 0.9 0.8 0.7 0.7 1 0.6 1 0.3 1 0.1 1 -0.1 1 -0.3 1 -0.5 1 -0.7 0.8 -0.8 0.7 -1 0.5 -1 0.4 -1 0.1 -1 0.1 -1 -0.1 -1 -0.4 -1 -0.8 -0.7 -0.7 -0.5 -1 -0.4 -1 -0.2 -1 -0.1 -1 0.1 -1 0.3 -1 0.5 -1 0.7 -0.9 0.8 -0.7 1 -0.6 0.9 -0.5zM97.9 487.1l1.1 0 1 0.5 0.4 1 -0.7 0.8 -1 0.2 -1 -0.3 -0.8 -0.7 0.1 -1 0.9 -0.5zM69.5 488.3l1 -0.1 1 0 1 0.1 1 0.2 1 0.3 1 0.2 1 0.2 1 0.2 1 0.2 1 0.2 1 0.3 1 0.4 1 0.4 0.9 0.5 0.9 0.6 0.8 0.7 0.7 0.9 0.5 1 0.2 1 0 1 -0.2 1 -0.4 1 -0.6 0.9 -0.8 0.8 -1 0.8 -1 0.6 -1 0.4 -1 0.2 -1 0.1 -1 -0.2 -1 -0.2 -0.9 -0.3 -1 -0.5 -1 -0.6 -0.8 -0.6 -0.7 -0.8 -0.7 -0.8 -0.5 -1 -0.5 -1 -0.5 -1 -0.5 -1 -0.6 -0.9 -0.7 -1.1 -0.5 -1 -0.3 -1 0 -1 0.8 -0.9zM95.7 498.6l1 -0.1 1 0.2 1 0.5 0.8 0.7 0.7 0.7 0.7 1 0.4 1 0.1 1 -0.1 1 -0.4 1 -0.7 1 -1 0.7 -1 0.4 -1 0.2 -1 0.1 -1 -0.1 -1 -0.5 -0.9 -0.8 -0.6 -0.9 -0.4 -1.1 -0.2 -1 0 -1 0.3 -1 0.5 -1 0.8 -0.9 1 -0.7 1 -0.4zM71.5 489.6l1.1 -0.2 0.9 0 1 0.1 1.1 0.1 0.9 0.1 1 0.2 1 0.2 1.1 0.2 0.9 0.3 1 0.4 1 0.6 1 0.6 0.8 0.7 0.7 0.7 0.5 1 0.3 1 0 1 -0.2 1 -0.5 1 -0.8 1 -0.8 0.8 -1 0.6 -1 0.5 -1 0.2 -1 0 -1 -0.1 -1 -0.2 -1 -0.3 -0.9 -0.5 -1.1 -0.6 -0.7 -0.7 -0.7 -0.9 -0.6 -0.9 -0.4 -1 -0.5 -1.1 -0.4 -1 -0.5 -1 -0.4 -1 -0.2 -1 0.2 -1 1 -0.7zM95.7 499.9l1 -0.1 1 0.3 0.9 0.5 0.8 0.8 0.6 1 0.3 1 -0.1 1 -0.5 1 -0.7 0.7 -1 0.4 -1 0.2 -1 0 -1 -0.4 -0.9 -0.7 -0.7 -0.9 -0.2 -1.1 0 -1 0.3 -1 0.7 -0.8 0.8 -0.6zM73.5 490.4l1 -0.2 1 0 1.1 0.1 0.9 0.1 1 0.2 1 0.2 1 0.4 1 0.4 1 0.6 0.8 0.6 0.8 0.7 0.6 0.9 0.4 0.9 0 1.1 -0.2 1 -0.4 1 -0.7 1 -0.7 0.6 -1 0.6 -1.1 0.4 -0.9 0.2 -1 -0.1 -1 -0.1 -1.1 -0.3 -0.9 -0.4 -1 -0.6 -1 -0.8 -0.7 -1 -0.6 -1 -0.4 -1 -0.3 -1 -0.3 -1 -0.3 -1 0.1 -1 0.7 -1 1 -0.5zM96 501.9l1 0.1 0.8 0.6 0.4 1 -0.8 0.8 -1 0.1 -1 -0.4 -0.4 -0.9 0.4 -1zM75 490.9l0.9 -0.1 1.1 0 1 0.1 1 0.3 1 0.3 0.9 0.4 0.8 0.5 1 0.7 0.7 0.8 0.7 1 0.3 1 -0.1 1 -0.3 1 -0.7 1 -0.8 0.7 -1 0.7 -1.1 0.3 -1 0 -1 0 -1 -0.2 -1 -0.4 -1 -0.6 -0.9 -0.8 -0.8 -1 -0.5 -1 -0.4 -1 -0.2 -1 -0.2 -1 0.1 -1 0.5 -0.8 0.9 -0.6 1.1 -0.3zM75.7 491.4l1 -0.1 1 0.1 1 0.2 1 0.3 1 0.5 1 0.7 0.9 0.8 0.7 1 0.3 1 0 1 -0.4 1 -0.7 1 -1.1 0.7 -1 0.4 -1 0.1 -1 -0.1 -1 -0.2 -1 -0.4 -1 -0.6 -0.7 -0.7 -0.6 -0.9 -0.5 -1 -0.3 -1 -0.1 -1 0.1 -1 0.6 -1 1.1 -0.6z" fill="none" stroke="#000" stroke-width="0.62" stroke-linejoin="round"/>
<path d="M9.7 519.3l1 -0.2 1 -0.3 1 -0.3 1 -0.1 1 -0.2 1 0 1 0 1 -0.1 1 0 1 0 1 0 1 0 1 0.1 1 0 1 0 1 0 1 -0.1 1 0 1 -0.1 1 0 1 -0.1 1 -0.1 1 0 1 -0.1 1 0 1 -0.1 1 0 1 -0.1 1 -0.1 1 -0.1 1 -0.1 1 0 1 -0.1 1 -0.1 1 0 1 0 1 -0.1 1 0 1 0 1 -0.1 1 0 1 -0.1 1 0 1 -0.1 1 0 1 0 1 -0.1 1 0 1 -0.1 1 -0.1 1 0 1 -0.1 1 -0.1 1 -0.1 1 0 1 0 1 0 1 -0.1 1 0 1 0 1 0.1 1 0.1 1 0.2 1 0.3 1 0.3 1 0.5 1 0.4 1 0.5 1 0.3 1 0.3 1 0 1 -0.1 1 -0.3 1 -0.3 1 -0.4 1 -0.4 1 -0.3 1 -0.3 1 -0.2 1 -0.2 1 -0.2 1 -0.2 1 -0.1 1 -0.1 1 -0.1 1 -0.1 1 -0.1 1 -0.2 1 -0.1 1 0 1 -0.1 1 0.1 1 0 1 0 1 0.1 1 0.1 1 0.1 1 0.1 1 0.1 1 0.1 1 0 1 0.1 1 0.1 1 0.1 1 0.2 1 0.3 0.9 0.6 0.8 0.7 0.6 1 0.4 1 0.1 1 0.1 1 0.1 1 0 1 0 1 0 1 0 1 0 1 0 1 0 1 0 1 0 1 0 1 -0.1 1 0 1 0 1 0.1 1 0 1 0 1 0 1 -0.1 1 0 1 0 1 0 1 0.1 1 0 1 -0.1 1 -0.1 1 -0.2 1 -0.3 1 -0.8 1 -1 0.7 -1 0.5 -1 0.3 -1 0.1 -1 0.1 -1 0 -1 0.1 -1 0 -1 0 -1 0 -1 0 -1 0 -1 0 -1 0 -1 0 -1 0 -1 -0.1 -1 0 -1 0 -1 0 -1 0 -1 0 -1 0 -1 0 -1 0 -1 0 -1 0 -1 0 -1 0 -1 0 -1 0 -1 0 -1 0 -1 0.1 -1 0 -1 -0.1 -1 0 -1 0 -1 0 -1 0 -1 0 -1 0 -1 0 -1 0 -1 0 -1 0 -1 0 -1 0 -1 0 -1 0 -1 0 -1 -0.1 -1 0 -1 0 -1 0 -1 0 -1 0 -1 0 -1 0 -1 0 -1 0.1 -1 0 -1 0 -1 0 -1 0 -1 0 -1 0 -1 0 -1 0 -1 0 -1 0 -1 -0.1 -1 0 -1 0 -1 0 -1 0.1 -1 0 -1 0 -1 0 -1 0.1 -1 0 -1 0 -1 0 -1 0 -1 0 -1 -0.1 -1 0 -1 0 -1 0 -1 0 -1 0 -1 0 -1 0 -1 0 -1 0 -1 0 -1 0 -1 0 -1 0 -1 0 -1 -0.1 -1 0 -1 -0.1 -1 -0.2 -1 -0.2 -1 -0.3 -1 -0.2M97.5 517.1l1 -0.1 1 0 1 0 1 0 1 0.1 1 0.1 1 0.1 1 0.1 1.1 0.2 0.9 0.1 1 0.2 1 0.2 1 0.1 1.1 0.1 0.9 0.2 1.1 0.2 0.9 0.4 0.9 0.8 0.5 1 0.2 1 0.1 1 0 1 0 1 0 1 0 1 0 1 0 1 0 1 0 1 0 1 0 1 0 1 -0.1 1 0 1 0 1 0 1 0 1 0 1 0 1 0 1 0.1 1 0 1 0 1 0 1 -0.1 1 -0.3 1 -0.7 1 -1 0.6 -1 0.3 -1 0.1 -1 0.1 -1 0 -1 0.1 -1 0.1 -1 0 -1 0.1 -1 0.1 -1 0 -1 0 -1 0 -1 -0.1 -1 -0.1 -1 -0.1 -1 -0.1 -1 0 -1 0 -1 0.1 -1.1 0 -0.9 0 -1 0 -1 -0.1 -1 0 -1 0 -1 -0.1 -1 0.1 -1 0 -1 0.1 -1 0 -1 0.1 -1 -0.1 -1 0 -1 0 -1.1 -0.1 -0.9 -0.1 -1 0 -1 0 -1.1 0 -0.9 0 -1 0.1 -1.1 0 -0.9 0 -1 0.1 -1 0 -1 -0.1 -1 0 -1 0 -1 0 -1 -0.1 -1 0 -1 0 -1 0 -1 0 -1 0 -1 0.1 -1 0 -1 0.1 -1 0 -1 0 -1 0 -1 0 -1 0 -1 0 -1 -0.1 -1 0 -1 -0.1 -1 -0.1 -1 -0.1 -1 0 -1 0 -1 0 -1 0.1 -1 0.1 -1 0.1 -1 0 -1 0.1 -1 0 -1 0 -1 -0.1 -1 0 -1 0 -1 -0.1 -1 0 -1 0 -1.1 0 -0.9 0 -1 0 -1 0 -1 0 -1 0 -1.1 0.1 -0.9 0 -1 -0.1 -1 0 -1 0 -1 -0.1 -1 0 -1.1 -0.1 -0.9 -0.3 -1 -0.5 -0.8 -0.7 -0.4 -1 -0.2 -1 0 -1 -0.1 -1 0 -1 0 -1 0 -1 -0.1 -1 0 -1 0 -1 0 -1 0 -1 0 -1 -0.1 -1 0 -1 0 -1 -0.1 -1 0 -1 -0.1 -1 0 -1 -0.1 -1 0 -1 0.1 -1 0.1 -1 0.4 -1 0.6 -1 1 -0.8 1 -0.4 1 -0.2 1 -0.1 1 0 1 -0.1 1 0 1 0 1 0 1 0 1 0 1 0 1 0 1 0 1 -0.1 1 -0.1 1 -0.1 1 -0.1 1 -0.2 1 -0.1 1 -0.1 1 0 1 -0.1 1 -0.1 1 -0.1 1 -0.1 1 -0.1 1 -0.1 1 -0.1 1 -0.1 1 0 1 -0.1 1 0 1 0 1 0 1 0 1 0 1 0 1 0 1 0 1 0 1 0 1 -0.1 1 0 1 0 1 -0.1 1 0 1 -0.1 1 -0.1 1 -0.1 1 -0.1 1 0 1 -0.1 1 0 1 0.1 1 0 1 0 1 0 1 0.1 1 0.1 1 0.3 1 0.3 1 0.3 1 0.4 1 0.4 1 0.3 1 0.2 1 0 1 -0.1 1 -0.3 1 -0.3 1 -0.4 1 -0.3 1 -0.4 1 -0.3 1 -0.3 1 -0.2 1 -0.2 1 -0.2 1 -0.1 1 -0.1 1 -0.1 1 0 1 -0.1 1 -0.1z" fill="none" stroke="#111" stroke-width="0.7" stroke-linejoin="round"/>
<path d="M91.5 518.9l1.1 -0.1 0.9 -0.1 1 0 1 0.1 1 0 1 0 1 -0.1 1 0 1 0.1 1 0.2 1 0.3 1 0.3 1 0.5 1 0.5 1 0.8 0.6 1 0.3 1 0.2 1 0.2 1 0.3 1 0.3 1 0.3 1 0.3 1 0.1 1 0 1 0 1 -0.1 1 -0.1 1 0 1 -0.1 1 -0.1 1 -0.1 1 -0.1 1 -0.2 1 -0.2 1 -0.2 1 -0.3 1 -0.4 1 -0.7 0.9 -0.7 0.7 -1 0.5 -1 0.2 -1 -0.2 -1 -0.5 -0.7 -0.8 -0.6 -1 -0.4 -1 -0.2 -1 -0.1 -1 -0.1 -1 -0.1 -1 -0.3 -1 -0.5 -1 -0.7 -0.8 -0.8 -0.6 -1 -0.3 -1 -0.2 -1 0.1 -1 0.2 -0.9 0.6 -0.7 1 -0.5 1 -0.7 0.9 -0.7 0.9 -0.7 0.7 -1 0.7 -1 0.6 -1 0.6 -1.1 0.5 -0.9 0.5 -1 0.4 -1 0.4 -1 0.2 -1 0.2 -1 0.1 -1 0.1 -1 0 -1 0.1 -1 0.2 -1 0.1 -1 0.2 -1 0 -1 0.1 -1 0 -1 -0.1 -1 0 -1.1 -0.1 -0.9 0 -1 0 -1 0 -1 0 -1 -0.1 -1 0 -1 0 -1 0 -1 0.1 -1 0 -1 -0.1 -1 -0.1 -1 -0.2 -1 -0.1 -1 -0.1 -1 0 -1 -0.1 -1 -0.2 -1 -0.3 -1 -0.3 -1 -0.4 -1 -0.3 -1 -0.1 -1 0 -1 -0.1 -1 -0.1 -1 -0.5 -0.8 -0.8 -0.4 -1.1 -0.2 -1 0 -1 -0.3 -1 -0.7 -0.7 -0.9 -0.5 -1 -0.3 -1 -0.3 -1 -0.4 -1 -0.5 -0.9 -0.5 -0.9 -0.5 -1 -0.6 -0.9 -0.7 -1 -0.7 -1 -0.7 -0.8 -0.8 -0.7 -0.8 -0.8 -0.9 -0.5 -1.1 -0.1 -0.9 0.3 -1.1 0.8 -0.7 1 -0.5 1 -0.3 1 -0.4 1 -0.3 1 -0.5 1 -0.3 1 -0.3 1 -0.3 1 -0.1 1 -0.2 1 -0.1 1 -0.1 1 -0.2 1 -0.2 1 -0.1 1 -0.2 1 -0.1 1 -0.1 1 0 1 0 1 0 1 0.1 1 0.1 1 0.1 1 0.1 1 0.1 1 0.1 1 0 1 0.1 1 0 1 0 1 0 1 0.1 1 0 1 -0.1 1 0 1 0 1 -0.1 1 0 1 0.1 1 0.1 1 0.2 1 0.1 1 0.1 1 -0.1 1 0 1 -0.1 1 0.1 1 0.2 1 0.2 1 0.2 1 0.1 1 0.1 1 -0.1 1 -0.2 1 -0.2 1 -0.4 1 -0.3 1 -0.4 1 -0.4 1 -0.3 1 -0.4 1 -0.3 1 -0.2 1 -0.2 1 -0.2zM30.4 537.9l1 0 1 0.3 1 0.6 0.7 0.8 0.4 1 0 1 -0.3 1.1 -0.8 0.9 -1 0.8 -1 0.4 -1 0.3 -1 0.1 -1 0.1 -1 -0.1 -1 -0.2 -1 -0.5 -0.7 -0.6 -0.7 -1 -0.3 -1 0.2 -1 0.5 -1 1.1 -0.7 0.9 -0.4 1 -0.3 1 -0.3 1 -0.2 1 -0.1zM90.7 519.6l1 -0.1 1 0 1 0 1 0.1 1 0.1 1 0.1 1 0.2 1 0.1 1 0.3 1 0.4 1 0.8 0.7 0.7 0.8 0.8 0.7 0.8 0.6 0.8 0.5 0.9 0.5 1 0.5 1 0.4 1 0.3 1 0.1 1 0.1 1 -0.1 1 -0.1 1 -0.2 1 -0.2 1 -0.3 1 -0.7 1 -0.9 0.7 -1 -0.1 -0.7 -0.8 -0.7 -1 -0.6 -1 -0.6 -1 -0.6 -0.9 -0.8 -0.8 -0.9 -0.5 -1.1 -0.2 -1 0 -1 0.1 -1 0 -1 0 -1 0 -1 0 -1 0.1 -1 0 -1 0.1 -0.9 -0.1 -1.1 -0.1 -1 -0.2 -0.9 -0.2 -1.1 0.1 -0.9 0.4 -0.7 0.7 -0.6 0.9 -0.4 1.1 -0.2 1 0 1 0 1 0.1 1 -0.2 1 -0.5 1 -1 0.7 -1 0.5 -1 0.3 -1 0.2 -1 0.2 -1 0.3 -1 0.2 -1 0.2 -1 0.1 -1 0.1 -1 -0.1 -1 0 -1 0 -1 -0.1 -1 0 -1 0 -1 0 -1 0 -1 -0.1 -1 -0.2 -1 -0.1 -1 -0.1 -1 -0.1 -1 -0.2 -1 -0.1 -1 -0.2 -1 -0.1 -1 -0.1 -1 0 -1 -0.3 -1 -0.4 -1 -0.6 -1 -0.7 -0.6 -0.9 -0.1 -1.1 0.3 -1 0.2 -1 -0.8 -0.7 -1.1 -0.3 -0.9 -0.2 -1 -0.2 -1 -0.2 -1 -0.3 -1 -0.3 -1 -0.4 -1 -0.3 -1 -0.4 -1 -0.3 -1 -0.4 -1 -0.4 -1 -0.5 -1 -0.6 -0.9 -0.5 -0.9 -0.7 -0.8 -0.8 -0.4 -1.1 0.2 -1 0.8 -0.8 0.7 -0.7 1 -0.7 0.8 -0.5 0.9 -0.4 1 -0.3 1 -0.2 1 -0.2 1 -0.2 1 -0.2 1 -0.3 1 -0.2 1 -0.1 1 -0.2 1 0 1 -0.1 1 0 1 0.1 1 0.2 1 0.2 1 0.2 1 0.2 1 0.2 1 0.1 1 0 1 0.1 1 0.1 1 0.1 1 0.2 1 0.1 1 0.2 1 0.1 1 0.2 1 0.1 1.1 0.1 0.9 0.2 1 0.1 1 0.2 1 0 1 0 1 -0.1 1 -0.2 1 -0.2 1 -0.1 1 0 1 0.1 1 0.1 1 0.1 1 0 1 -0.2 1 -0.2 1 -0.4 1 -0.5 1 -0.4 1 -0.5 1 -0.5 1 -0.4 1 -0.4 1 -0.3 1 -0.3 1 -0.2 1 -0.2zM60 531.9l-1 0.2 -1 0.2 -1 0.3 -1 0.3 -1 0.4 -1 0.5 -0.9 0.6 0.4 1 1.2 0.4 1 0.3 1 0.1 1 0 1 -0.1 1 -0.3 1 -0.4 1 -0.6 0.6 -0.9 0.1 -1 -0.7 -0.8 -1 -0.2zM29.2 540.1l1 0.1 0.9 0.4 0.4 1 -0.5 1 -1.1 0.6 -0.9 0.1 -1 -0.1 -0.9 -0.8 0 -1 0.7 -0.8 0.9 -0.4zM91.2 520.4l1 -0.1 1 0.1 1 0.1 1 0.3 1 0.3 1 0.5 1 0.8 0.8 0.7 0.7 0.8 0.7 0.7 1 0.8 0.8 0.7 0.7 0.8 0.8 1 0.6 1 0.3 1 0.1 1 -0.1 1 -0.6 0.9 -1 -0.3 -0.8 -0.9 -0.7 -1 -0.7 -0.7 -0.8 -0.5 -1 -0.1 -1 0.2 -1 0.3 -1 0.2 -1 0.2 -1 0 -1 -0.1 -1.1 -0.1 -0.9 -0.1 -1.1 -0.1 -0.9 0 -1 -0.2 -1 -0.2 -1 -0.4 -1 -0.5 -1 -0.4 -1 -0.3 -1 -0.1 -1 0 -1 0.5 -0.7 1 -0.3 1 -0.3 0.9 -0.3 1.1 -0.4 1 -0.6 0.9 -0.5 0.8 -0.7 0.9 -0.6 0.8 -0.4 1 -0.3 1 -0.5 1 -0.7 0.8 -1 0.7 -1 0.5 -1 0.3 -1 0.1 -1 0 -1 0 -1 0 -1 -0.1 -1 -0.1 -1 0 -1 -0.2 -1 -0.2 -1 -0.5 -0.7 -0.7 0.6 -1 0.8 -0.7 0.9 -0.6 0.9 -0.6 1 -0.9 0.7 -0.8 0.8 -1 0.6 -1 0.4 -1 0.1 -1 0 -1 0 -1 0.6 -1 1 -0.6 1 -0.4 1 -0.3 1 -0.2 1 -0.2 1 0 1 0.2 1 0.2 1 0.1 1 0.1 1 -0.1 1.1 -0.3 0.7 -0.7 0.6 -0.8 0.7 -0.7 0.8 -0.7 0.9 -0.8 1 -0.6 1 -0.6 1 -0.4 1 -0.4 1 -0.3 1 -0.3 1 -0.2 1 -0.2zM42.7 522.6l1 -0.1 1 0 1 0.1 1 0.1 1 0.3 1 0.4 1 0.4 1 0.3 1 0.2 1 0.2 1 0.1 1 0.4 1 0.5 0.8 0.7 0.7 0.8 0 1.1 -0.6 0.8 -0.8 0.7 -0.8 0.7 -1 0.6 -1 0.5 -1 0.4 -1 0.4 -1 0.3 -1 0.3 -1 0.2 -1 0.1 -1 0 -1 -0.1 -1 0 -1 -0.1 -1 -0.2 -1 -0.3 -1 -0.4 -1 -0.4 -1 -0.4 -0.9 -0.6 -0.9 -0.4 -1 -0.7 -0.9 -0.9 -0.6 -0.8 -0.1 -1.2 0.5 -1 0.9 -0.6 1 -0.5 1 -0.4 1 -0.3 1 -0.3 1 -0.3 1 -0.3 1 -0.2zM91.2 521.4l1 -0.1 1 0.1 1 0.3 1 0.6 0.8 0.6 0.6 1 0.4 1 0.2 1 -0.3 1 -0.7 0.7 -1 0.5 -1 0.1 -1 -0.1 -1 -0.1 -1 -0.2 -1 -0.2 -1 -0.1 -1 -0.3 -1 -0.3 -0.9 -0.5 -0.8 -0.8 -0.3 -1 0.7 -1 1.1 -0.6 1 -0.5 1 -0.4 1 -0.4 1 -0.3zM43.5 523.6l1 0 1 0.1 1 0.2 1 0.3 1 0.4 1 0.6 1 0.4 1 0.5 0.9 0.5 0.7 0.8 0.2 1 -0.5 0.9 -0.7 0.7 -1 0.6 -1 0.5 -1 0.3 -1 0.2 -1 0.1 -1 0 -1 0 -1 -0.1 -1 -0.2 -1 -0.3 -1 -0.3 -1 -0.5 -1 -0.6 -1 -0.8 -0.8 -1 -0.1 -1 0.6 -1 1 -0.7 1 -0.5 1 -0.4 1 -0.3 1 -0.3zM68.2 536.3l1 -0.1 1 0.4 0.6 1 0 1 -0.6 0.9 -1 0.5 -1 0.1 -1 -0.2 -0.9 -0.5 -0.2 -1 0.6 -0.9 0.7 -0.7zM91.7 523.1l1 0 0.9 0.5 0.2 1 -0.8 0.6 -1 -0.1 -1 -0.6 0.1 -1.1zM44.2 524.9l1 0 1 0.2 1 0.5 1 0.5 1 0.7 0.8 0.7 0.3 1.1 -0.6 0.9 -1 0.5 -1 0.3 -1 0.1 -1 0 -1 -0.2 -1 -0.2 -1 -0.3 -1 -0.5 -0.9 -0.5 -0.6 -0.9 0.2 -1.2 0.7 -0.7 1 -0.5 1.1 -0.4 1 -0.1z" fill="none" stroke="#2a2a2a" stroke-width="0.55" stroke-linejoin="round"/>
<path d="M112.3,516V547" fill="none" stroke="#000" stroke-width="4.2" stroke-linecap="round" stroke-linejoin="round" opacity="0.85"/>
<path d="M118.6,506V547" fill="none" stroke="#000" stroke-width="1.6" stroke-linecap="round" stroke-linejoin="round" opacity="0.45"/>
<path d="M107.3,491V513" fill="none" stroke="#000" stroke-width="1.5" stroke-linecap="round" stroke-linejoin="round" opacity="0.7"/>
<path d="M111.5,496C112.5,503 112.5,510 112.3,516" fill="none" stroke="#000" stroke-width="2.0" stroke-linecap="round" stroke-linejoin="round" opacity="0.6"/>
<path d="M72,488.5C69.5,493 70,499 73,503.5 77,506 83,505.5 86,503" fill="none" stroke="#000" stroke-width="2.6" stroke-linecap="round" stroke-linejoin="round" opacity="0.8"/>
<path d="M73,488C77,485.5 84,486 87,490" fill="none" stroke="#000" stroke-width="1.4" stroke-linecap="round" stroke-linejoin="round" opacity="0.6"/>
</g>
<path d="M23.70,428.90H145.00V548.80" fill="none" stroke="#000" stroke-width="1.4"/>
<path d="M23.70,428.20V549.85" fill="none" stroke="#000" stroke-width="2.5"/>
<path d="M23.70,548.80H145.70" fill="none" stroke="#000" stroke-width="2.1"/>
<path d="M23.70,548.80h-3.4M23.70,548.80v3.4M23.70,539.78h-2.0M32.83,548.80v2.0M23.70,534.50h-2.0M38.17,548.80v2.0M23.70,530.75h-2.0M41.96,548.80v2.0M23.70,527.85h-2.0M44.90,548.80v2.0M23.70,525.47h-2.0M47.30,548.80v2.0M23.70,523.47h-2.0M49.33,548.80v2.0M23.70,521.73h-2.0M51.09,548.80v2.0M23.70,520.20h-2.0M52.64,548.80v2.0M23.70,518.82h-3.4M54.02,548.80v3.4M23.70,509.80h-2.0M63.15,548.80v2.0M23.70,504.52h-2.0M68.49,548.80v2.0M23.70,500.78h-2.0M72.28,548.80v2.0M23.70,497.87h-2.0M75.22,548.80v2.0M23.70,495.50h-2.0M77.62,548.80v2.0M23.70,493.49h-2.0M79.65,548.80v2.0M23.70,491.75h-2.0M81.41,548.80v2.0M23.70,490.22h-2.0M82.96,548.80v2.0M23.70,488.85h-3.4M84.35,548.80v3.4M23.70,479.83h-2.0M93.48,548.80v2.0M23.70,474.55h-2.0M98.82,548.80v2.0M23.70,470.80h-2.0M102.61,548.80v2.0M23.70,467.90h-2.0M105.55,548.80v2.0M23.70,465.52h-2.0M107.95,548.80v2.0M23.70,463.52h-2.0M109.98,548.80v2.0M23.70,461.78h-2.0M111.74,548.80v2.0M23.70,460.25h-2.0M113.29,548.80v2.0M23.70,458.88h-3.4M114.67,548.80v3.4M23.70,449.85h-2.0M123.80,548.80v2.0M23.70,444.57h-2.0M129.14,548.80v2.0M23.70,440.83h-2.0M132.93,548.80v2.0M23.70,437.92h-2.0M135.87,548.80v2.0M23.70,435.55h-2.0M138.27,548.80v2.0M23.70,433.54h-2.0M140.30,548.80v2.0M23.70,431.80h-2.0M142.06,548.80v2.0M23.70,430.27h-2.0M143.61,548.80v2.0M23.70,428.90h-3.4M145.00,548.80v3.4" fill="none" stroke="#000" stroke-width="1.1"/>
<clipPath id="clip4"><rect x="184.5" y="428.9" width="121.10000000000002" height="120.60000000000002"/></clipPath>
<g clip-path="url(#clip4)">
<path d="M285.1 518.4h0M288.4 508.4h0M245.9 503.6h0M213 511.6h0M209.4 542.7h0M216.8 481.9h0M257.4 471.9h0M281.8 540h0M280.9 482.9h0M187.1 529.2h0M203.9 512.1h0M218.1 521.8h0M283.9 516.6h0M211.7 504.2h0M217.7 531.6h0M200.3 498h0M214.9 505.5h0M205.5 518.5h0M217.3 534.9h0M284.5 544.3h0M281.3 485.9h0M271.7 473.2h0M213.5 539.9h0M251.8 503.4h0M222.8 491.5h0M282.6 519.9h0M250.6 492.8h0M207.2 529h0M289 496.8h0M293 536.9h0M190.2 541.5h0M218.1 496.7h0M235.2 510.2h0M249.5 490.9h0M217.9 514h0M240.2 500.1h0M204.5 497.3h0M212.3 540.5h0M283.8 519.5h0M295.8 510.3h0M227 506.8h0M253.7 478.8h0M251.9 492h0M214 521.2h0M223.3 532.9h0M283.2 525.4h0M221.1 532.4h0M197.1 534.4h0M190.9 540.1h0M228.2 494.3h0M207 546.3h0M207.2 519.7h0M211.9 525.2h0M222.9 527.4h0M248.1 499h0M195.7 496.4h0M201.2 535.8h0M208.9 531.8h0M220 488.4h0M250.2 501.7h0M232.9 508.4h0M216.2 507.5h0M248.7 481.6h0M252.2 501.9h0M283 483h0M251.4 500.7h0M229.7 510.1h0M224.9 499.7h0M209.9 533.4h0M242.7 505.2h0M206.1 507.1h0M237.7 505.9h0M241.1 505.8h0M223.2 519.3h0M229 476.6h0M252.7 483.4h0M212.8 539.8h0M232 507.9h0M212.2 521.6h0M229 512.5h0M282.3 538.7h0M285.1 531.5h0M249.9 500.3h0M209.5 503.8h0M215.3 547.1h0M239.8 504.1h0M219.5 534.6h0M200.1 530.2h0M230.8 505.3h0M211 522.9h0M199.5 504.4h0M239.3 496h0M238.3 508.3h0M233.9 508.8h0M251.9 473.2h0M218.6 531.3h0M200.3 513.7h0M247.7 494.1h0M251.6 479.8h0M204.3 516.3h0M282.5 537.9h0M211.3 500.1h0M248.1 505.4h0M205.6 524.4h0M222.3 527.2h0M208.2 542.6h0M219.7 492.4h0M283.1 493.2h0M202.7 535.1h0M252 496.9h0M206.4 515.4h0M186.2 515.1h0M223.4 518.8h0M234.3 478.2h0M213.8 521.8h0M203.6 505.4h0M210.9 519.4h0M224.2 535.3h0M288 496h0M197.7 541h0M242.3 501.6h0M197.6 509.4h0M226.2 508.9h0M199.3 535.1h0M228.4 468.7h0M221.4 507.3h0M291.4 503.8h0M283.6 501.1h0M207.9 546.4h0M247.7 474.3h0M293.7 521.2h0M200.9 513.6h0M237.7 506h0M242.2 498.2h0M242.4 499.8h0M249.4 498.4h0M217.6 509.9h0M298.1 485.3h0M213.5 530.2h0M218.7 478.3h0M241.4 501.2h0M226.9 508.6h0M211.3 548.1h0M270.4 475h0M302.4 519h0M215.7 515.5h0M191.5 504.1h0M265.7 472.8h0M216.7 519.8h0M218.4 536.5h0M237.1 502.2h0M218 519.5h0M222.8 495h0M264.4 473h0M190 512.7h0M216.2 543.7h0M247.9 499.6h0M213 537.1h0M244.3 492.7h0M251.9 483.2h0M240.5 497.6h0M223.1 520h0M208.7 501h0M283.4 538.5h0M235.8 502h0M224.1 534.6h0M212.7 538.4h0M288.4 519.7h0M218.2 542.8h0M283.9 519.1h0M282.4 487h0M222.3 523.6h0M201.1 507.8h0M216.9 497.2h0M250.9 483.3h0M222.2 508.3h0M237.4 501h0M256.4 474.1h0M282.9 525.4h0M285 515h0M256 472.1h0M254.2 469.6h0M229 507.4h0M249.5 491.9h0M206.3 511.4h0M290.3 543.1h0M265.7 474.7h0M207.9 507.6h0M218.1 533.4h0M224.8 517.6h0M254.2 477.7h0M219.6 514h0M250.4 476.6h0M224 520.6h0M210 534.7h0M222.9 530.6h0M223.8 538h0M285 532.1h0M288.5 500.4h0M255 468h0M247.3 492h0M224.9 507.8h0M283.5 477.9h0M213.9 499.6h0M250.2 503.2h0M199.2 522.6h0M213.9 525.3h0M244 483.7h0M218.9 503.7h0M186.8 498.7h0M234.6 460.8h0M235.6 509.7h0M283.1 543.5h0M221.2 539.2h0M251.5 498.9h0M229.4 490.3h0M237.8 480h0M203.5 540.9h0M227.8 467.5h0M250.1 490.4h0M217.7 516.2h0M203.7 509.8h0M254.4 472.6h0M201 534.8h0M203.5 516.6h0M223.1 540.4h0M205.8 513.6h0M257.8 468.4h0M258.4 466.1h0M239.7 507.9h0M202.9 517.1h0M265.6 474.4h0M220 509.4h0M210.1 532.4h0M241.1 495.7h0M267.7 472.9h0M229 484.7h0M215.8 505h0M200.6 537.2h0M254.8 476.8h0M283.6 524h0M220.3 519.5h0M222.9 533.5h0M285.1 497.4h0M216.7 541.6h0M205.5 519.6h0M217.2 543.9h0M235.3 507.2h0M223.9 513.1h0M196.8 538.9h0M215 523.3h0M196.8 516.8h0M225.2 505.6h0M213.2 496h0M223.1 532.1h0M216.5 537.3h0M284.4 502.7h0M258.5 472.2h0M262.9 471.7h0M214.3 521.2h0M283.4 529.5h0M194 535.5h0M222.2 535.4h0M244.1 503.4h0M218.9 540h0M236.7 509.9h0M217.2 505.4h0M286.7 505.2h0M214 533.3h0M290.3 539.2h0M219.2 523.6h0M217.4 536.4h0M282.7 531.9h0M194.7 527.9h0M222.2 531.6h0M283.5 495.4h0M219.6 536.6h0M252.5 494h0M205.8 514.7h0M251 499.9h0M268.9 475.2h0M231.4 509.8h0M235.9 497.2h0M236.3 510h0M281.1 488.9h0M223.8 519.1h0M221.9 533.7h0M214.4 545.5h0M209.7 500.2h0M216.5 504.4h0M259.4 469.8h0M283.8 537.5h0M227.1 503.7h0M209.7 531.7h0M217 540.3h0M284 483.8h0M285.1 520.7h0M217 511.2h0M213.9 505.2h0M282.6 495.6h0M285.5 524.8h0M222.9 530.7h0M286.8 499.7h0M231.5 512.6h0M283.5 527.6h0M203.8 484h0M205.9 536h0M214.3 505.8h0M221.6 526.2h0M225.5 486.7h0M221.9 541.6h0M248 503.1h0M235.3 510.4h0M222.5 537.4h0M201.1 506.3h0M199.3 510.8h0M267.1 469.2h0M199.8 524.7h0M209 508.4h0M222.2 516.1h0M216 523.7h0M222.6 509.5h0M216.8 543.3h0M271.3 472.2h0M218 527.5h0M223 534.7h0M237.9 509.1h0M283.7 538.7h0M255.5 475.8h0M279 481.2h0M296.9 508.7h0M223.7 497h0M265.1 462.6h0M209.2 525.9h0M219.7 511.2h0M283.8 511.7h0M225.8 514.3h0M205.5 506.8h0M219.6 542.1h0M190.1 514.3h0M251 484.7h0M232.4 510.9h0M214.6 540.1h0M210.6 507.2h0M222.5 527.5h0M218.3 515.8h0M214.3 542.1h0M224 532.9h0M191 527.2h0M248.3 503.4h0M190 533.1h0M272.3 471.6h0M244.5 503.6h0M282.6 543.1h0M219.5 523.6h0M254 477.5h0M250.2 498.6h0M200.3 516.4h0M251 502.2h0M206.7 527.6h0M214.8 515.7h0M211.4 531.3h0M221.4 541.2h0M206.7 526.6h0M188.5 532.4h0M247.1 500.3h0M288.3 503.5h0M222.3 537.4h0M211.2 520.2h0M298.3 519.7h0M218.4 543.6h0M197.5 518.7h0M248.1 489.7h0M253.1 478.7h0M236.1 507.7h0M193.6 501.1h0M222.5 530.1h0M218.2 501.7h0M195.4 511.3h0M201.2 532h0M208.8 522.1h0M226.1 512.1h0M220.7 534.5h0M284.1 513.5h0M219.1 532.2h0M222.4 502.7h0M300.3 539.6h0M260.2 469.5h0M199.3 548.1h0M201.1 526.2h0M228.8 485.7h0M241.7 479.1h0M196.4 541.6h0M220.9 523h0M239 491.9h0M209.8 539.7h0M246.2 488.3h0M245.6 480.1h0M230.9 471.7h0M236 506.3h0M224.5 520.9h0M222.7 512h0M297.5 523.3h0M272.5 476.6h0M220.6 533.1h0M282.4 497.3h0M223 525.3h0M203 504.1h0M213 540.5h0M221.5 535.5h0M211.5 513.5h0M237.8 498.3h0M219.7 518.4h0M220.3 532.2h0M221.6 484.4h0M254 472.2h0M206 527.8h0M215.9 533.6h0M251.5 492.1h0M285 538h0M217.7 542h0M213 525.2h0M214.9 483.9h0M214.6 534.3h0M268.4 476.4h0M219.3 537.5h0M231 506.2h0M213.8 515.3h0M219.3 501.7h0M271.1 476.8h0M293.9 522.3h0M282.3 489.4h0M210.4 517.2h0M230.7 512.6h0M220.6 536.5h0M219.6 539.2h0M214.1 547.5h0M239.4 505.5h0M221.8 514.1h0M229.4 507.6h0M240.5 458.8h0M188 541.2h0M202.1 495.7h0M191.2 529.7h0M204.7 536.1h0M223 527.8h0M213.7 546.3h0M223.2 512.2h0M284.5 525.6h0M296.2 477.3h0M281.6 487.1h0M213.5 521h0M236.1 504.7h0M221.2 531.1h0M249 481.4h0M284.4 502.9h0M215 510.8h0M243.5 507.1h0M211.1 547.3h0M233.7 508.8h0M274.5 478.7h0M286.9 506.7h0M215.5 525.3h0M219.3 539.1h0M286.8 539h0M232.1 504.8h0M245.5 487.9h0M209.5 534.5h0M218.1 540.5h0M222.4 516.6h0M222.4 515.3h0M221.8 512.4h0M189.2 512.2h0M223.3 499.3h0M225.4 515.6h0M225.1 510.2h0M222.6 508.2h0M235.3 488.6h0M249.3 502.5h0M214.1 516.4h0M254.5 471.5h0M219.3 506.4h0M222.9 523.5h0M206.3 528.5h0M209 536.2h0M235.6 494.9h0M193.8 499.5h0M213.5 510h0M235.6 500.9h0M200.2 509.1h0M283.6 504.4h0M256.1 474.4h0M251.6 490.7h0M205.7 514.7h0M210.6 528.2h0M225.2 516.2h0M231.6 495h0M190.9 526.2h0M271.3 476.9h0M286.3 538.1h0M238.8 507.5h0M200 523.8h0M215.5 535.9h0M252.8 476.5h0M285.1 504.1h0M242.1 505.8h0M282.3 491.8h0M284.7 532.7h0M214.2 525.4h0M250.6 489h0M284.8 493.4h0M209.7 522.7h0M285.1 517.6h0M215.5 546h0M272.1 475.2h0M287.3 508h0M248.5 488.7h0M245.6 489.2h0M203 507.3h0M302 525.2h0M230.1 499.2h0M292.6 457.7h0M207.8 480.7h0M221 449h0M230.5 481.5h0M194 432.3h0M199.4 480.6h0M255.5 462.8h0M222 526.5h0M230.3 460.4h0M188.7 509.5h0M219.2 460.5h0M209.6 500h0M283.1 516.1h0M207.6 455.1h0M208.7 541.4h0M259.3 454.6h0M280.9 466.6h0M267.6 441.8h0M234.5 489.6h0M267.9 440.1h0M225 488.6h0M301.6 487.3h0M204.4 530.3h0M292.5 501.9h0M214.9 494.8h0" fill="none" stroke="#707070" stroke-width="0.65" stroke-linecap="round"/>
<path d="M267.5 526.7h0M271.1 509.9h0M262.4 530h0M266.7 546.9h0M266.7 519.3h0M266.8 534.4h0M267.7 539.8h0M264.2 539.1h0M268 524.9h0M270.9 536.6h0M261.7 484.1h0M267.8 526.1h0M250.7 534.4h0M263.7 520.7h0M256.5 540.4h0M267.3 520.2h0M271.3 514.1h0M232.4 527.3h0M260.2 543.3h0M260 485h0M266.2 534.2h0M272.8 516.1h0M243.4 528.8h0M276 533.2h0M270 527.9h0M262.2 534.1h0M270 520.6h0M268.7 509.9h0M269.2 538.7h0M262.2 508.3h0M261.2 536.3h0M269 513.3h0M236.8 524.6h0M262.6 539.5h0M270.2 534.6h0M272.7 492.6h0M252.9 539.5h0M267 516.2h0M233.5 537.7h0M262.8 524.9h0M251.2 532.5h0M236.1 520.7h0M265.6 520.2h0M269.4 521.2h0M230.4 532.8h0M272.7 526.5h0M263.6 523h0M261.9 523.5h0M255.1 529.7h0M270.3 494.2h0M240.2 515.3h0M265.8 542.7h0M268.5 532h0M263.5 491.9h0M263.6 528.1h0M253.7 537.9h0M278.3 530.6h0M266.9 513.2h0M267 538h0M272.1 540.8h0M270.6 499.3h0M266.2 543.9h0M275.1 491.4h0M269.1 511.6h0M253.7 533.6h0M260.1 482h0M265.1 527.9h0M235.8 536.6h0M266.3 534.2h0M275.6 537h0M266.7 542.1h0M259.5 501.1h0M264.2 482.3h0M268.7 531.4h0M270.3 522h0M267.9 529.1h0M260.2 527h0M263.9 540.1h0M275.2 484.9h0M273.9 524.4h0M266.3 518h0M272.7 491.7h0M263.5 485.9h0M270.4 524.8h0M273.4 538.1h0M261.8 537.5h0M266.1 533.4h0M256.9 486.7h0M259 485.8h0M256.5 541h0M238.7 536.5h0M252.4 523.9h0M257.8 537.7h0M261.1 543.9h0M264.5 491.5h0M233.6 533.3h0M264.6 523.8h0M247.3 528h0M262.3 487.9h0M231.6 522.6h0M266.7 524.1h0M264.4 531h0M267.8 542.9h0M269.5 520.3h0M271.5 543.7h0M247.5 542.9h0M266.7 522h0M264.6 541.3h0M265 539.5h0M259.7 528.3h0M259.4 526.5h0M262.6 528.9h0M262.2 539.6h0M242.2 539.1h0M272.7 497.1h0M268.1 535.9h0M264.9 525.3h0M261.5 480.1h0M260.7 480.2h0M272.6 529.6h0M269.9 521.3h0M270.1 529.5h0M258.1 537.5h0M268.8 506.2h0M260.2 532.1h0M232.9 532.2h0M267.1 496.4h0M255.4 531.2h0M263 516.2h0M259.6 534h0M250.1 532h0M276.8 501.2h0M276.4 486.6h0M268.3 511.3h0M267.8 525.2h0M256.4 537.8h0M270 526.9h0M234.7 530.6h0M253.4 518.8h0M261.6 535.6h0M256.7 528.1h0M255.6 509.5h0M264.4 533.8h0M275.6 537.1h0M250 524.4h0M260.2 519.5h0M272.4 524.7h0M262.4 479.6h0M258.4 485.2h0M263.7 524.4h0M271.2 500h0M264.7 536.7h0M260.3 484.2h0M270 519.6h0M263.8 523.2h0M230.9 537.1h0M259.1 523.8h0M245.6 545.8h0M258.5 529.5h0M261.5 479.4h0M269 541.3h0M263.6 513.3h0M273.7 532.4h0M258 481h0M261.7 485.6h0M269.1 538.7h0M252.7 524.8h0M268.2 547.3h0M270.5 521.1h0M270.2 531.5h0M265.8 536h0M272.5 491.1h0M264.5 526.3h0M247.7 523h0M253.2 531.8h0M263.7 482.2h0M259.8 479h0M274.5 530.3h0M268.2 490.7h0M266.2 523.1h0M245.6 528.1h0M273.7 535h0M265.9 529.9h0M264.9 528.7h0M262.5 528.8h0M264.3 533.8h0M265.3 513.7h0M261.7 524.4h0M256 523h0M265.7 530.5h0M258.7 518.2h0M272.3 495.4h0M260 544.4h0M246.1 514.3h0M264.9 533.6h0M266.6 517.2h0M270.3 534.5h0M253 520.2h0M229.7 545.4h0M270.1 514h0M248.2 521h0M257 525.7h0M263.9 496.1h0M266.8 518h0M268.4 513.6h0M276.9 487.6h0M274.1 483h0M266.5 516.1h0M273.1 505.6h0M248.7 530.6h0M267.7 519.8h0M258.2 526.9h0M264.4 525h0M257.9 481.8h0M258.8 514.9h0M261.9 519.3h0M267.9 521.9h0M258.8 515.8h0M258.1 502.9h0M276.2 524.2h0M267.8 518.2h0M264.4 529.3h0M275.2 525.8h0M263.2 543h0M265.1 523h0M248.7 514.3h0M262.4 525.9h0M262.5 531.5h0M274.8 494.8h0M264.3 534h0M263.4 516.7h0M268.3 543.4h0M269.8 538.8h0M257.2 519.2h0M267.7 521.4h0M266.4 530.6h0M272.8 497.3h0M257 508.3h0M273.3 537.6h0M257.5 543.9h0M272.3 495.1h0M267.1 499.6h0M256.8 489.7h0M271.5 527.4h0M259.9 533.8h0M273.3 497.8h0M256.8 487.6h0M269.9 517.7h0M256.6 523.4h0M267.8 536.4h0M252.1 517.7h0M244.3 539.5h0M257.2 540.2h0M277.1 523.6h0M263.3 533h0M259 479.1h0M271.4 495.8h0M266.4 524.4h0M263.7 535.1h0M260 535.1h0M269.6 532.7h0M264.4 536.6h0M268.9 521.1h0M259.3 492.4h0M263.5 528.2h0M246.7 523h0M268.5 497.8h0M266.8 536.3h0M262 479.1h0M263.8 544.6h0M256.1 530.7h0M267.1 535.4h0M265.7 523.1h0M265.9 531.8h0M266.5 527.4h0M269.3 520.8h0M264.2 534.2h0M256.3 527h0M274.8 536.5h0M259.8 514h0M261.4 481.7h0M260.2 523.1h0M270.9 522.3h0M260.9 524.3h0M263.8 483.2h0M261.8 505.1h0M260.2 527.8h0M262.7 517.4h0M270.4 530.1h0M272.3 505.2h0M265.2 517.2h0M265 535.8h0M261.9 523.1h0M264.1 522.8h0M266.2 485.4h0M264.6 502.8h0M257.7 496.1h0M269.8 531.5h0M262.7 498h0M264.5 531.1h0M259.8 500.9h0M258 514.3h0M265.1 524.6h0M272.6 511.4h0M259.6 509.2h0M268.4 519.2h0M274.4 539.9h0M257.5 536.7h0M265 527.5h0M276.7 527.8h0M276.6 527.7h0M263.9 483.1h0M246.8 532.5h0M259.8 534.6h0M257.5 491h0M261 477.5h0M269.5 530h0M241.6 521.6h0M232.6 541.5h0M271.1 483.3h0M264.3 532.4h0M275.3 516.9h0M237.8 538.4h0M264.7 500.5h0M258 521.5h0M243.6 515.4h0M240.6 533.4h0M264.5 517.4h0M271.1 523.5h0M259.8 513.2h0M271.9 524.6h0M273.5 520.9h0M260.7 525.8h0M261.5 496.5h0M264.6 506h0M276.4 535.7h0M264.4 535h0M265.9 526.3h0M263.7 518.2h0M271.4 515.1h0M270.2 507.9h0M253.5 540.2h0M261.4 514.4h0M277.3 504.9h0M236.7 531.7h0M251.2 512h0M274.2 493.7h0M262.1 529h0M261.5 536.7h0M262.3 533.5h0M248.4 530.7h0M258.1 543.4h0M234.5 533.6h0M260.9 525.4h0M265.5 519h0M261.8 482.7h0M273.8 492.4h0M232.1 520.6h0M266 519.1h0M257.1 545.8h0M267 526.4h0M265.1 527.7h0M252.6 512.4h0M239.8 531.3h0M274.1 493.8h0M259 505.5h0M256 524.3h0M257.5 480.6h0M254.4 542.4h0M261.7 543.1h0M272.4 541.5h0M263.8 544.1h0M271.6 534.3h0M257.1 519.8h0M234.9 526.4h0M270.7 507.6h0M266 522.2h0M270.1 523.3h0M275.9 520.8h0M263.2 531.2h0M261.7 517.1h0M270.1 521.9h0M267.6 509.7h0M247.8 533.8h0M260.8 517.6h0M268.3 533.6h0M260.8 488.1h0M265.5 531.6h0M261.2 519.5h0M265.5 481.9h0M259.7 532.1h0M261.1 544.1h0M274.7 532.2h0M263.2 523h0M261.4 513.8h0M268.7 524.7h0M272.1 525.7h0M250 542.8h0M271.7 516.8h0M276.4 530.9h0M269 526.9h0M258.1 527.6h0M253.8 510.9h0M257.8 518.4h0M266.9 524h0M268.3 532.3h0M251.2 544.7h0M266.1 521.1h0M265 522.2h0M266.7 524.2h0M264.3 534.4h0M277.7 496.3h0M252.8 517.5h0M261.7 532.8h0M254.8 533.7h0M244.6 546.9h0M266.6 542.1h0M266.5 523.2h0M276.9 494.7h0M265.1 527h0M265.2 532.8h0M236.9 544.1h0M268.8 504.1h0M266.7 535.3h0M268.4 534.7h0M278 521.7h0M252.1 532.9h0M260.2 510.7h0M247.4 546.5h0M235.8 534.9h0M258.6 493.2h0M277.2 492h0M273 540h0M236 527.4h0M275.2 495.6h0M257.5 528.2h0M272.7 523.2h0M233.7 540.5h0M272.1 538.4h0M259 538.8h0M272 518.1h0M275.7 536.3h0M248.2 530.1h0M269.7 508.3h0M258.7 495.5h0M258.6 481.7h0M237.4 542.4h0M262.8 519.1h0M268.8 504.7h0M232.3 541.9h0M261 521.6h0M268.6 522.9h0M263.1 481.3h0M234.8 541.8h0M265 530.2h0M270 497.7h0M265.7 517.2h0M265.1 533.3h0M265.6 534.2h0M271.4 529.1h0M270.4 490.6h0M270.4 542.6h0M273.9 529.8h0M258.6 525.8h0M271.3 541.8h0M273.3 541.7h0M271.7 538.1h0M261.4 488h0M271.4 526.9h0M263.4 532.1h0M272.9 530.2h0M262.4 487.3h0M248.8 524.5h0M252.4 527.2h0M276.1 537h0M264.1 514.2h0M258 506.1h0M255.7 519.1h0M260.4 490.9h0M265.8 527.3h0M234.6 523.1h0M230.6 528.3h0M257.3 536h0M270.2 521.1h0M258.7 535.5h0M260.8 529.7h0M250.8 519.6h0M236.2 546.3h0M256.9 532.4h0M275.4 498.6h0M259.3 514.3h0M272.5 537.8h0M269 530.1h0M274.3 525.2h0M261.9 507.3h0M268.5 529.9h0M256.9 548.2h0M266.9 529.8h0M261.8 539.8h0M268.3 497.1h0M269.5 529.4h0M239.8 541.4h0M264.6 532.2h0M269 536.4h0M269 531.9h0M269.1 534.4h0M261.4 533.8h0M260.3 486.9h0M265.5 538.6h0M268 542.4h0M259.7 485.4h0M257.4 548.2h0M243.8 548.1h0M274.7 526.8h0M267.9 532.8h0M229.7 525.1h0M246.4 513.8h0M272.4 528h0M268.6 523.6h0M259.6 525.1h0M267 530.2h0M270.9 535.6h0M267.8 522.7h0M267.5 513.2h0M268.1 516.2h0M253.9 523.7h0M260.8 518.3h0M267.8 542.1h0M260.2 539.8h0M263.6 514h0M256.6 487.9h0M266.8 523.4h0M236.1 518.1h0M269.7 487.3h0M241.6 536h0M232.8 543.4h0M261.1 518.5h0M267.3 530.5h0M273.9 531.6h0M274.9 536.6h0M269 523.7h0M268.9 506h0M257.4 539.3h0M253.5 530.6h0M271.5 524.5h0M258.5 527.8h0M271.2 484.7h0M263.8 488.9h0M270 515.2h0M269.5 531.3h0M263.2 548.3h0M277.4 505.6h0M259.3 530.9h0M265.9 523h0M261.9 480.2h0M238.4 522.2h0M261.6 486.1h0M259.2 525.7h0M261.1 509.5h0M275.9 522.9h0M272.5 522.7h0M265.6 530.7h0M269.4 526.9h0M272.2 490.9h0M275.6 527.9h0M264.4 537.9h0M266.8 513.8h0M265.1 533.3h0M264.2 518.1h0M272.7 528.5h0M264.6 511.8h0M268.8 520.6h0M250.3 519.6h0M251.8 530.1h0M271.7 530.7h0M271.3 531.1h0M276.1 488.8h0M257.8 530.7h0M276.7 521.2h0M261.5 487.2h0M265.6 524.1h0M265.5 533.9h0M272.8 536.4h0M268 530.4h0M275.5 529.3h0M261.2 490.3h0M236.4 530.9h0M249.3 534.7h0M263.7 520.1h0M247.8 537.9h0M259.1 485.3h0M258.6 536.2h0M272.8 499.8h0M253.7 510.4h0M261.4 533h0M265 536.2h0M264.9 509.7h0M236.6 532.5h0M229.6 528.9h0M268.2 504.9h0" fill="none" stroke="#666" stroke-width="0.7" stroke-linecap="round"/>
<path d="M259.8 472.9l1 -0.2 1 0.1 1 0.3 1 0.4 0.9 0.7 1.1 0.7 1 0.7 0.8 0.6 1.1 0.4 1.1 0.4 1 0.3 1 0.2 1 0.4 1 0.4 0.9 0.6 1 0.7 0.8 0.8 0.7 0.9 0.8 1.1 0.5 0.9 0.5 1 0.5 1.1 0.3 1 0.4 1 0.2 1 0.3 1 0.2 1 0.3 1 0.2 1 0.3 1 0.2 1 0.2 1 0.2 1 0.2 1 0.1 1 0.1 1 0.1 1 0 1 0.1 1 0 1 0 1 0 1 0 1 0 1 0 1 0 1 0 1 0 1 -0.1 1 0 1 -0.1 1 0 1 -0.1 1 0 1 -0.1 1 0 1 -0.1 1 0 1 0 1 0 1 0 1 0 1 0 1 0 1 0 1 0 1 -0.1 1 0 1 -0.1 1 -0.1 1 -0.1 1 0 1 -0.1 1 -0.1 1 0 1 -0.1 1 0 1 -0.1 1 -0.1 1 -0.1 1 0 1 -0.2 1 -0.1 1 -0.2 1 -0.2 1 -0.4 1 -0.4 1 -0.7 1 -0.6 0.8 -0.8 0.7 -0.9 0.5 -0.9 0.4 -1 0.4 -1 0.2 -1 0.2 -1 0.1 -1 0.1 -1 0.1 -1 0.1 -1 0 -1 0.1 -1 0 -1 0 -1 0 -1 0 -1 0 -1 0 -1 0 -1 0 -1 0 -1 0 -1 0 -1 -0.1 -1 0 -1 0 -1 0 -1 0 -1 0 -1 0 -1 0 -1 -0.1 -1 0 -1 0 -1 0 -1 0 -1 0 -1 0 -1 0 -1 0 -1 0 -1 -0.1 -1 0 -1 -0.1 -1 0 -1 -0.1 -1 0 -1 0 -1 -0.1 -1 0 -1 0 -1 0 -1 0 -1 -0.1 -1 0 -1 0 -1 0 -1 -0.1 -1 -0.1 -1 -0.2 -1 -0.3 -1 -0.4 -0.9 -0.7 -0.7 -0.7 -0.6 -1 -0.2 -1 0.1 -1 0.3 -1 0.7 -1 0.6 -0.7 0.9 -0.8 1 -0.7 1 -0.7 1 -0.6 1 -0.7 1 -0.8 0.7 -0.7 0.8 -1 0.5 -1 0.3 -1 0.2 -1 0.1 -1 0 -1 0 -1 -0.2 -1 -0.2 -1 -0.2 -1 -0.1 -1 -0.2 -1 -0.1 -1 0 -1 0 -1 0 -1 0.1 -1 0.2 -1 0.2 -1 0.3 -1 0.4 -1 0.4 -1 0.5 -1 0.6 -0.9 0.7 -0.9 0.7 -0.8 0.8 -0.7 0.8 -0.7 1 -0.8 1 -0.7 0.9 -0.5 1 -0.6 0.8 -0.4 1 -0.5 1 -0.4 1.1 -0.5 0.9 -0.4 1 -0.4 1 -0.3 1 -0.3 1 -0.3 1 -0.3 1 -0.3 1 -0.3 1 -0.4 1 -0.3 1 -0.5 1 -0.5 1 -0.5 0.9 -0.6 0.7 -0.8 0.6 -1 0.3 -1 0.1 -1 0.1 -1 0 -1 0 -1 0 -1 0 -1 -0.1 -1 0 -1 0 -1 0 -1 0 -1 -0.1 -1 0 -1 0 -1 0 -1 0 -1 0 -1 0.1 -1 0.2 -1 0.2 -1 0.3 -0.9 0.4 -1.1 0.3 -0.9 0.6 -1 0.4 -0.9 0.6 -0.9 0.7 -0.8 0.7 -0.8 0.9 -0.7 0.9 -0.4zM260 474.6l1 -0.1 1 0.2 1 0.5 1 0.7 0.7 0.7 0.7 0.8 0.8 0.8 0.8 0.6 1 0.4 1 0.2 1 0.1 1 0.1 1 0.1 1 0.3 1 0.5 0.9 0.7 0.8 0.7 0.8 1 0.6 1 0.5 1 0.4 1 0.3 1 0.3 1 0.2 1 0.2 1 0.2 1 0.1 1 0.2 1 0.1 1 0.2 1 0.1 1 0.2 1 0.1 1 0.1 1 0.1 1 0.1 1 0 1 0 1 0 1 0 1 0 1 0 1 0 1 0 1 0 1 0 1 0 1 0 1 0 1 -0.1 1 0 1 0 1 0 1 0 1 0 1 0 1 0 1 0 1 0 1 0.1 1 0 1 0 1 0 1 0 1 -0.1 1 -0.1 1 0 1 -0.1 1 -0.1 1 -0.1 1 -0.1 1 0 1 -0.1 1 -0.1 1 0 1 -0.2 1 -0.1 1 -0.1 1 -0.1 1 -0.1 1 -0.2 1 -0.2 1 -0.3 1 -0.5 1 -0.7 1 -0.7 0.7 -1 0.7 -1 0.4 -1 0.3 -1 0.2 -1 0.2 -1 0.1 -1 0.2 -1 0.1 -1 0.1 -1 0.1 -1 0 -1 0 -1 0 -1 0 -1 0 -1 -0.1 -1 0.1 -1 0 -1 -0.1 -1 0 -1 0 -1 0 -1 0 -1 0 -1 0 -1 0 -1 0 -1 -0.1 -1 0 -1 -0.1 -1 0 -1 0 -1 0 -1 0 -1 0 -1 0 -1 -0.1 -1 -0.1 -1 0 -1 -0.1 -1 -0.1 -1 -0.1 -1 -0.1 -1 -0.1 -1 0 -1 -0.1 -1 -0.1 -1 0 -1 -0.1 -1 0 -1 0 -1 -0.1 -1 -0.1 -1 -0.1 -1 -0.2 -1 -0.5 -0.7 -0.7 -0.3 -1.1 0.3 -1 0.7 -0.9 0.7 -0.8 0.8 -0.6 1 -0.9 0.8 -0.7 0.7 -0.8 0.6 -0.8 0.7 -0.9 0.4 -0.9 0.5 -1.2 0.3 -1 0.2 -1 0.1 -1 0 -1 -0.1 -1 -0.2 -1 -0.2 -1 -0.2 -1 -0.2 -1 -0.1 -1 -0.2 -1 0 -1 0 -1 0 -1 0.1 -1 0.2 -1 0.3 -1 0.4 -1 0.4 -1 0.5 -0.9 0.6 -0.9 0.6 -0.8 0.8 -0.8 0.8 -0.7 0.8 -0.7 0.9 -0.7 1 -0.6 1 -0.6 1 -0.5 1 -0.5 1 -0.4 1 -0.5 1 -0.4 1 -0.4 1 -0.3 1 -0.3 1 -0.3 1 -0.3 1 -0.3 1 -0.3 1 -0.4 1 -0.4 1 -0.4 1 -0.5 1 -0.5 1 -0.6 0.7 -0.6 0.8 -0.9 0.5 -1 0.3 -1 0.2 -1 0 -1 0.1 -1 0 -1 0 -1 0 -1 0 -1 -0.1 -1 0 -1 0 -1 0 -1 0 -1 -0.1 -1 -0.1 -1 0 -1 -0.1 -1 0 -1 0 -1 0.1 -1 0.1 -1 0.2 -1 0.2 -1 0.4 -1 0.4 -1 0.4 -0.9 0.6 -1.1 0.9 -1 0.8 -0.7 1 -0.5zM260.5 475.6l1 0.1 1 0.4 1 0.8 0.7 0.7 0.7 1 0.6 0.9 0.7 0.9 1 0.7 1 0.2 1 -0.1 1 -0.2 1 0 1 0.1 1 0.2 1 0.6 0.9 0.7 0.8 1 0.6 1 0.5 1 0.4 1 0.2 1 0.3 1 0.1 1 0.2 1 0.1 1 0.1 1 0.1 1 0.1 1 0.1 1 0.1 1 0.1 1 0.1 1 0 1 0 1 0 1 0 1 -0.1 1 0 1 0 1 -0.1 1 0 1 0 1 0.1 1 0 1 0 1 0.1 1 0 1 0 1 0.1 1 0 1 0 1 0.1 1 0 1 0.1 1 0 1 0.1 1 0 1 0.1 1 0 1 0 1 0 1 -0.1 1 0 1 -0.1 1 -0.1 1 -0.1 1 -0.1 1 0 1 -0.1 1 -0.1 1 -0.1 1 -0.1 1 -0.1 1 -0.1 1 -0.2 1 -0.1 1 -0.2 1 -0.1 1 -0.2 1 -0.3 1 -0.5 1 -0.6 1 -0.7 0.7 -1 0.6 -1 0.4 -1 0.3 -1 0.2 -1 0.2 -1 0.2 -1 0.2 -1 0.1 -1 0.1 -1 0.1 -1 0 -1 0 -1 -0.1 -1 0 -1 0 -1 0 -1 0 -1 0 -1 -0.1 -1 0 -1 0 -1 -0.1 -1 0.1 -1 0 -1 0 -1 0 -1 0 -1 -0.1 -1 -0.1 -1 0 -1 -0.1 -1 0 -1 0 -1 -0.1 -1 0 -1 -0.1 -1 -0.1 -1 -0.2 -1 -0.1 -1 -0.1 -1 -0.2 -1 -0.1 -1 -0.2 -1 -0.1 -1 -0.2 -1 -0.1 -1 -0.1 -1 -0.1 -1 -0.2 -1 -0.2 -1 -0.6 -0.2 -1 0.5 -0.9 0.5 -0.9 0.7 -0.8 0.6 -0.9 0.5 -1 0.5 -1 0.4 -1 0.4 -1 0.3 -1 0.2 -1 0.1 -1 0 -1 -0.1 -1 -0.1 -1 -0.2 -1 -0.2 -1 -0.2 -1 -0.2 -1 -0.1 -1 -0.2 -1 0 -1 0 -1 0.1 -1 0.2 -1 0.3 -1 0.4 -1 0.5 -1 0.6 -0.9 0.6 -0.8 0.8 -1 0.8 -0.7 1 -0.8 1 -0.8 0.9 -0.5 0.9 -0.5 1 -0.5 1 -0.4 1 -0.5 1 -0.4 1 -0.4 1 -0.4 1 -0.4 1 -0.3 1 -0.3 1 -0.3 1 -0.3 1 -0.4 1 -0.4 1 -0.4 1 -0.5 1 -0.4 1 -0.5 1 -0.6 0.9 -0.9 0.8 -1 0.4 -1 0.2 -1 0.1 -1 0.1 -1 0 -1 0 -1 0 -1 0 -1 0 -1 0 -1 0 -1 -0.1 -1 0 -1 -0.1 -1 -0.1 -1 -0.1 -1 -0.1 -1 -0.1 -1 -0.1 -1 0 -1 0 -1 0.1 -1 0.1 -1 0.2 -1 0.3 -1 0.4 -1 0.4 -1 0.6 -1 0.8 -0.9 1 -0.8 1 -0.3zM260 476.6l1 -0.2 1 0.3 1 0.7 0.8 1 0.6 1 0.5 1 0.5 1 0.5 1 0.6 0.8 1 0.5 1 -0.3 1 -0.7 1 -0.5 1 -0.2 1 0.1 1 0.3 1 0.7 0.7 0.8 0.7 1 0.5 1 0.3 1 0.3 1 0.2 1 0.2 1 0.1 1 0.1 1 0.1 1 0 1 0.1 1 0.1 1 0 1 0.1 1 0 1 0 1 -0.1 1 -0.1 1 -0.1 1 -0.2 1 -0.1 1 -0.1 1 -0.1 1 0 1 0.1 1 0.1 1 0.1 1 0.1 1 0.1 1 0.1 1 0.2 1 0.1 1 0.1 1 0.1 1 0 1 0.1 1 0.1 1 0.1 1 0 1 0.1 1 0.1 1 0 1 0 1 0 1 -0.1 1 -0.1 1 -0.1 1 -0.1 1 -0.1 1 -0.1 1 0 1 -0.1 1 -0.1 1 -0.1 1 -0.2 1 -0.1 1 -0.2 1 -0.2 1 -0.2 1 -0.2 1 -0.2 1 -0.3 1 -0.5 1 -0.8 1 -1 0.7 -1 0.4 -1 0.2 -1 0.3 -1 0.3 -1 0.2 -1 0.3 -1 0.2 -1 0.1 -1 0 -1 0 -1 0 -1 -0.1 -1 0 -1 0 -1 0 -1 -0.1 -1 0 -1 -0.1 -1 -0.1 -1 0 -1 0 -1 0 -1 0.1 -1 0 -1 0 -1 0 -1 -0.1 -1 -0.1 -1 -0.2 -1 -0.1 -1 0 -1 -0.1 -1 0 -1 -0.2 -1 -0.2 -1 -0.2 -1 -0.2 -1 -0.3 -1 -0.2 -1 -0.3 -1 -0.3 -1 -0.4 -1 -0.5 -1 -0.7 -0.5 -1 -0.1 -1.1 0.1 -0.9 0.2 -1 0.3 -1 0.3 -1 0.3 -1 0.2 -1 0 -1 0 -1 -0.1 -1 -0.2 -1 -0.2 -1 -0.2 -1 -0.2 -1 -0.1 -1 -0.2 -1 -0.1 -1 -0.1 -1 0.1 -1 0.1 -1 0.3 -1 0.4 -1 0.5 -1 0.4 -1 0.8 -1 0.8 -1 0.7 -0.7 1 -0.8 1 -0.7 1 -0.5 1 -0.5 1 -0.5 1 -0.4 1 -0.6 1 -0.5 1 -0.4 1 -0.4 1 -0.3 1 -0.3 1 -0.4 1 -0.3 1 -0.4 1 -0.4 1 -0.5 1 -0.4 1 -0.5 1 -0.4 1 -0.6 0.9 -0.5 0.7 -0.8 0.6 -1 0.3 -1 0.2 -1 0.1 -1 0 -1 0 -1 0 -1 0 -1 0 -1 0 -1 -0.1 -1 0 -1 -0.1 -1 0 -1 -0.1 -1 -0.2 -1 -0.1 -1 -0.2 -1 -0.1 -1 -0.1 -1 -0.1 -1 0 -1 0 -1 0.1 -1 0.1 -1 0.3 -1 0.3 -1 0.4 -1 0.6 -1 0.8 -0.9 1 -0.8z" fill="none" stroke="#000" stroke-width="1.0" stroke-linejoin="round"/>
<path d="M260.2 477.6l1 -0.1 1 0.5 0.8 0.8 0.5 0.9 0.4 1.2 0.3 1 0.3 1 0.3 1 0.2 1 0.2 1 0.1 1 0.1 1 0.2 1 0.3 1 0.8 0.7 1.1 -0.4 0.4 -0.9 0.5 -1.1 0.3 -1 0.4 -1 0.5 -1 0.6 -1 0.7 -0.8 1 -0.2 1 0.3 1 0.7 0.8 0.9 0.5 0.9 0.5 1.2 0.2 1 0.2 1 0.2 1 0.1 1 0.1 1 0 1 0 1 0 1 0 1 0 1 -0.1 1 -0.1 1 -0.1 1 -0.3 1 -0.3 1 -0.4 1 -0.4 1 -0.6 1 -0.5 1 -0.2 1 0 1 0.3 1 0.3 1 0.4 1 0.4 1 0.4 1 0.3 1 0.3 0.9 0.4 1.1 0.3 1 0.2 1 0.2 1 0.2 1 0.1 1 0.1 1 0.1 1 0.1 1 0.1 1 0 1 0 1 -0.1 1 0 1 -0.1 0.9 -0.2 1.1 -0.1 1 -0.1 1 -0.1 1 -0.1 1 -0.1 1 -0.2 1 -0.1 1 -0.3 1 -0.3 1 -0.3 1 -0.3 1 -0.4 1 -0.3 1 -0.5 1 -0.6 0.8 -1 0.6 -1 0.5 -1 0.3 -1 0.3 -1 0.4 -1 0.3 -1 0.3 -1 0.1 -1 0.1 -1 0 -1 -0.1 -1 0 -1 -0.1 -1 -0.1 -1 0 -1 -0.1 -1 -0.2 -1 -0.1 -1 -0.1 -1 -0.1 -1 -0.1 -1 0 -1 0.1 -1 0.1 -1 0.1 -1 -0.1 -1 -0.2 -1 -0.2 -1 -0.3 -1.1 -0.2 -0.9 -0.2 -1 -0.2 -1 -0.2 -1 -0.3 -1 -0.5 -0.8 -0.6 -0.5 -1 0 -1.1 0.2 -0.9 0 -1 -0.2 -1 -0.2 -1 -0.3 -1 -0.4 -1 -0.6 -1 -0.7 -0.8 -0.7 -1 -0.6 -1 -0.3 -1 -0.3 -1 -0.1 -1 -0.1 -1 0 -1 0 -1 0.2 -1 0.2 -1 0.4 -0.9 0.5 -1.1 0.5 -0.9 0.6 -0.9 0.9 -0.7 0.9 -0.5 1 -0.5 0.9 -0.6 0.8 -0.7 0.8 -0.7 0.8 -0.7 0.8 -0.7 0.9 -0.6 0.9 -0.5 0.9 -0.4 1 -0.4 1 -0.3 1 -0.3 1 -0.3 1 -0.3 1 -0.4 1 -0.5 1 -0.3 1 -0.5 1 -0.4 1 -0.5 0.9 -0.6 0.7 -0.8 0.6 -1 0.4 -1 0.2 -1 0 -1 0 -1 -0.1 -1 -0.1 -1 -0.1 -1 0 -1 -0.1 -1 0 -1 -0.1 -1 0 -1 -0.1 -1 -0.1 -1 -0.2 -1 -0.2 -1 -0.2 -1 -0.2 -1 -0.2 -1 -0.2 -1 -0.1 -1 -0.1 -1 -0.1 -1 0.1 -1 0 -1 0.2 -1 0.3 -1 0.4 -1 0.4 -0.9 0.8 -1 1 -0.8zM260.2 478.3l1 0 1 0.6 0.7 1 0.3 1 0.3 1 0.3 1 0.2 1 0.2 1 0.1 1 0 1 0 1 0 1 -0.1 1 0 1 0.1 1 0.4 1 0.7 0.7 1.1 0.4 1 0 0.9 -0.6 0.6 -0.8 0.5 -1.2 0.2 -1 0.2 -1 0.2 -1 0.2 -1 0.3 -1 0.4 -1 0.7 -1 1.1 -0.3 1 0.5 0.7 0.8 0.5 0.9 0.4 1.1 0.3 1 0.2 1 0.1 1 0.1 1 0 1 0 1 0 1 -0.1 1 0 1 -0.1 1 -0.2 1 -0.2 1 -0.4 1 -0.5 1 -0.6 0.8 -1 0.7 -1 0.3 -1 0.1 -1 0.4 -0.7 0.9 -0.3 1 0.1 1 0.4 1 0.5 0.9 0.6 0.9 0.6 0.8 0.8 1 0.7 1 0.8 1 0.6 1 0.6 1 0.5 0.9 0.6 1 0.4 1.1 0.3 1 0.2 1 0.2 1 0.2 1 0.1 1 0.1 1 0.1 1 0.1 1 0 1 -0.1 1 -0.1 1 -0.1 1 -0.2 1 -0.1 1 -0.1 1 -0.2 1 -0.1 1 -0.2 1 -0.3 1 -0.3 1 -0.4 1 -0.5 1 -0.5 1 -0.5 1 -0.5 0.9 -0.5 1 -0.8 0.7 -0.9 0.6 -1 0.5 -1.1 0.5 -1 0.4 -1 0.3 -1 0.2 -1 0.1 -1 0 -1 -0.1 -1 -0.1 -1 -0.1 -1 -0.2 -1 -0.1 -1 -0.1 -1 -0.1 -1 -0.2 -1 -0.2 -1 -0.1 -1 -0.3 -1 -0.2 -1 -0.4 -1 -0.8 -0.8 -1 -0.7 -0.8 -0.9 -0.4 -1.1 -0.3 -1 0 -1 -0.1 -1 -0.1 -1 -0.4 -0.8 -0.7 -0.7 -0.8 -0.5 -0.9 -0.4 -1 -0.2 -1 -0.3 -1 -0.3 -1 -0.5 -0.9 -0.7 -0.8 -0.6 -0.9 -0.5 -0.9 -0.3 -1 -0.2 -1 0 -1 0 -1 0.4 -1 0.6 -0.8 1 -0.7 1 -0.3 1 -0.4 1 -0.5 0.7 -0.7 0.7 -1.1 0.3 -1 0.2 -1 0.3 -1 0.7 -1 0.8 -0.7 1 -0.6 1 -0.3 1 -0.3 1 -0.1 1 -0.1 1 -0.1 1 -0.2 1 -0.2 1 -0.4 1 -0.4 1 -0.6 1 -0.7 0.7 -0.8 0.8 -1 0.7 -1 0.6 -0.9 0.5 -1 0.4 -1.1 0 -1 -0.1 -1 -0.3 -1 -0.2 -1 -0.2 -1 -0.2 -1 -0.1 -1 -0.1 -1 -0.1 -1 -0.1 -1 -0.1 -1 -0.1 -1 -0.1 -1 -0.3 -1 -0.2 -1 -0.3 -1 -0.3 -1 -0.3 -1 -0.2 -1 -0.2 -1 -0.1 -1 -0.1 -1 0.1 -1 0 -1 0.2 -1 0.3 -1 0.4 -1 0.7 -1 0.8 -0.8zM260.2 479.1l1 0 0.8 0.7 0.5 1.1 0.4 1 0.2 1 0.2 1 0.2 1 0.1 1 0 1 -0.1 1 -0.1 1 -0.1 1 -0.2 1 -0.3 1 -0.1 1 0.1 1 0.4 1 0.7 1 0.8 1 0.2 1 -0.2 1 -0.2 1 -0.3 1 -0.4 1 -1 0.4 -0.7 -0.9 -0.3 -1 -0.3 -1 -0.3 -1 -0.2 -1 -0.2 -1 -0.1 -1 -0.3 -1 -0.3 -1 -0.5 -1 -0.4 -1 -0.4 -1 -0.4 -1 -0.3 -1 -0.2 -1 -0.1 -1 -0.1 -1 0 -1 0.1 -1 0.2 -1 0.3 -1 0.5 -1 0.7 -0.8zM272.8 485.3l1 0.4 0.6 0.9 0.4 1 0.3 1 0.1 1 0 1 0 1 0 1 -0.1 1 0 1 -0.1 1 -0.1 1 -0.2 1 -0.5 1 -0.6 0.8 -1.1 0.3 -1 -0.5 -0.7 -1 -0.6 -1 -0.2 -1 0.1 -1 0.2 -1 0.2 -1 0.2 -1 0.2 -1 0.2 -1 0.1 -1 0.1 -1 0.3 -1 0.4 -1 0.8 -0.9zM264 508.8l1 -0.1 1 0.2 1 0.4 1 0.6 1 0.7 0.8 0.7 0.7 0.8 0.7 0.8 0.8 1 0.8 0.9 0.6 0.8 0.6 0.9 0.6 0.9 0.6 1 0.5 1 0.3 1 0.2 1 0.2 1 0.2 1 0.1 1 0.1 1 0.1 1 0 1 -0.1 1 -0.1 1 -0.2 1 -0.2 1 -0.2 1 -0.2 1 -0.2 1 -0.2 1 -0.4 1 -0.5 1 -0.6 1 -0.7 1 -0.7 1 -0.6 1 -0.7 1 -0.8 1 -0.7 0.7 -1 0.7 -1 0.5 -1 0.3 -1 0.2 -1 0 -1 -0.1 -1 -0.2 -1 -0.3 -1 -0.4 -1 -0.4 -1 -0.4 -1 -0.4 -1 -0.3 -1 -0.2 -1 -0.4 -1 -0.5 -0.8 -0.8 -0.7 -0.8 -0.8 -1 -0.7 -0.7 -0.9 -0.5 -1.1 -0.2 -1 0.1 -1 0.2 -1 0.2 -1 -0.1 -1 -0.6 -0.5 -0.8 -0.1 -1 0.1 -1 0.2 -1 -0.1 -1 -0.5 -1 -0.7 -0.9 -0.6 -0.9 -0.3 -1 0.1 -1 0.6 -0.8 0.8 -0.7 1 -0.6 1 -0.4 1 -0.1 1 0.2 1 0.2 0.7 -0.8 -0.2 -1 -0.2 -1 -0.3 -1 -0.1 -1 0.1 -1 0.4 -1 1 -0.6 1 -0.2 1 -0.1 1 -0.1 1 -0.2 1 -0.2 1 -0.5 0.9 -0.6 0.9 -0.7 0.8 -0.8 0.7 -0.8 0.7 -0.9 0.8 -1.1 0.7 -1 0.8 -0.9 0.7 -0.8 1 -0.7zM260.2 480.1l1 0.4 0.6 0.9 0.4 1 0.4 1 0.1 1 0.1 1 0.1 1 -0.1 1 -0.1 1 -0.3 1 -0.4 1 -0.8 0.9 -1 -0.3 -0.6 -0.8 -0.5 -1 -0.4 -1 -0.2 -1 -0.2 -1 -0.1 -1 0 -1 0.1 -1 0.3 -1 0.5 -1 0.9 -1zM264.5 511.1l1 0 1 0.2 1 0.3 0.9 0.6 0.8 0.6 0.8 0.7 0.8 0.8 0.6 0.9 0.8 1 0.8 1 0.8 0.9 0.6 1.1 0.5 1 0.4 1 0.2 1 0.2 1 0.2 1 0.2 1 0.1 1 0 1 -0.1 1 -0.1 1 -0.2 1 -0.3 1 -0.2 1 -0.3 1 -0.2 0.9 -0.5 1.1 -0.5 1 -0.8 1 -0.8 0.8 -0.6 0.9 -0.6 1 -0.5 0.9 -0.6 0.8 -0.7 0.9 -0.7 0.7 -1 0.6 -1 0.4 -1 0.1 -1 0 -1 -0.2 -1 -0.4 -1 -0.5 -1 -0.6 -1 -0.7 -1 -0.6 -0.9 -0.7 -0.8 -0.7 -0.7 -1 -0.5 -1 -0.6 -1 -0.7 -1 -0.9 -0.7 -0.9 -0.7 -0.8 -0.8 -0.4 -1.1 0 -1 0.2 -1 0.5 -1 0.4 -1 0.1 -1 -0.1 -1 -0.3 -1 -0.3 -1 -0.2 -1 0.1 -1 0.5 -1 1 -0.6 1 -0.5 1 -0.6 1 -0.7 0.7 -0.8 0.8 -1 0.8 -0.9 0.7 -0.8 0.7 -0.8 0.9 -1 0.6 -0.7 0.7 -0.8 0.9 -0.7 1 -0.4zM260 482l1 0.3 0.5 0.9 0.4 1 0.1 1 0 1 0 1 -0.3 1 -0.7 0.9 -1 -0.4 -0.6 -1.1 -0.3 -1 -0.2 -1 0 -1 0.1 -1 0.4 -1zM264.5 512.9l1 -0.1 1 0.1 1 0.3 1 0.6 1 0.8 0.7 0.8 0.8 1 0.7 1 0.7 1 0.8 1 0.6 0.9 0.4 1.1 0.4 1 0.3 1 0.2 1 0.1 1 0.2 1 0 1 -0.1 1 -0.2 1 -0.2 1 -0.3 1 -0.4 1 -0.4 1 -0.5 1 -0.7 1 -0.8 1 -0.8 1 -0.6 1 -0.6 1 -0.5 1 -0.8 1 -0.7 0.7 -1 0.5 -1 0.4 -1 0 -1 -0.2 -1 -0.4 -1 -0.5 -1 -0.7 -0.8 -0.7 -0.8 -0.7 -0.7 -0.8 -0.6 -0.8 -0.5 -1 -0.6 -1 -0.6 -1 -0.5 -0.8 -0.7 -1 -0.4 -1 0 -1 0.4 -1 0.4 -1 0.3 -1 -0.1 -1 -0.2 -1 -0.3 -1 -0.2 -1 0.2 -1 0.6 -1 0.7 -1 0.6 -0.9 0.5 -0.9 0.7 -1 0.6 -0.8 0.7 -0.9 0.7 -0.8 0.7 -0.7 0.8 -0.8 0.8 -0.7 1 -0.7 1 -0.3zM264.8 514.4l1 -0.1 1 0.1 1 0.4 0.9 0.6 0.7 0.8 0.8 1 0.6 0.8 0.5 0.9 0.6 1 0.6 1 0.6 1 0.5 1 0.3 1 0.3 1 0.2 1 0.1 1 0 1 -0.2 1 -0.2 1 -0.4 1 -0.4 1 -0.5 1 -0.7 1 -0.8 1 -0.7 1 -0.6 0.9 -0.5 0.8 -0.5 1 -0.6 1 -0.6 0.8 -0.9 0.8 -1.1 0.4 -1 0.1 -1 -0.2 -1 -0.4 -1 -0.7 -0.8 -0.7 -0.7 -0.8 -0.8 -1 -0.5 -0.8 -0.6 -0.9 -0.5 -1 -0.6 -1 -0.4 -1 -0.1 -1 0.1 -1 0.2 -1 0.3 -1 0.1 -1 -0.1 -1 -0.1 -1 -0.2 -1 0 -1 0.2 -1 0.3 -1 0.4 -1 0.4 -1 0.6 -1 0.5 -0.9 0.7 -0.9 0.8 -0.7 0.8 -0.7 1 -0.7 1 -0.6 1 -0.3zM264.5 515.9l1 -0.2 1 0.1 1 0.4 1 0.7 0.7 0.7 0.6 1 0.4 0.9 0.5 0.9 0.5 0.9 0.7 1.1 0.5 1 0.5 1 0.3 1 0.2 1 0.1 1 -0.1 1 -0.3 1 -0.5 1 -0.5 1 -0.6 1 -0.7 1 -0.6 0.9 -0.5 0.9 -0.6 1 -0.6 1 -0.5 0.8 -0.6 0.9 -0.7 0.7 -0.9 0.5 -1 0.2 -1 -0.3 -1 -0.6 -0.8 -0.7 -0.7 -0.8 -0.8 -1 -0.7 -1 -0.7 -1 -0.5 -1 -0.3 -1 -0.1 -1 0.1 -1 0.2 -1 0.1 -1 0 -1 0 -1 -0.1 -1 -0.1 -1 0.1 -1 0.1 -1 0.3 -1 0.3 -1 0.4 -1 0.6 -1 0.8 -1 0.9 -0.7 0.9 -0.6 0.9 -0.4zM264.2 517.4l1 -0.2 1 0.1 1 0.3 0.9 0.8 0.8 1 0.6 1 0.5 0.9 0.5 0.9 0.5 0.9 0.5 1 0.4 1.1 0.3 1 0.1 1 -0.2 0.9 -0.4 1.1 -0.5 1 -0.6 1 -0.5 1 -0.5 1 -0.6 0.9 -0.6 1.1 -0.6 0.9 -0.8 1.1 -0.7 0.7 -1.1 0.5 -1 -0.1 -1 -0.6 -0.7 -0.7 -0.7 -0.8 -0.8 -0.8 -0.8 -0.9 -0.4 -1 -0.4 -1.1 0 -1 0.1 -1 0 -1 0.1 -1 -0.1 -1 0 -1 0 -1 0 -1 0.1 -1 0.2 -1 0.3 -1 0.4 -1 0.5 -1 0.7 -0.8 1.1 -0.7 1 -0.4z" fill="none" stroke="#000" stroke-width="0.78" stroke-linejoin="round"/>
<path d="M279,510V545" fill="none" stroke="#000" stroke-width="3.4" stroke-linecap="round" stroke-linejoin="round" opacity="0.8"/>
<path d="M254.8,510C254,522 255,534 257,544" fill="none" stroke="#000" stroke-width="2.4" stroke-linecap="round" stroke-linejoin="round" opacity="0.55"/>
<path d="M216,549.6L226,547.3 240,545.4 254,544.5 282,543.8 282,550 216,550Z" fill="#000" stroke="none" opacity="0.92"/>
</g>
<path d="M184.50,428.90H305.60V549.50" fill="none" stroke="#000" stroke-width="1.4"/>
<path d="M184.50,428.20V550.55" fill="none" stroke="#000" stroke-width="2.5"/>
<path d="M184.50,549.50H306.30" fill="none" stroke="#000" stroke-width="2.1"/>
<path d="M184.50,549.50h-3.4M184.50,549.50v3.4M184.50,540.42h-2.0M193.61,549.50v2.0M184.50,535.11h-2.0M198.94,549.50v2.0M184.50,531.35h-2.0M202.73,549.50v2.0M184.50,528.43h-2.0M205.66,549.50v2.0M184.50,526.04h-2.0M208.06,549.50v2.0M184.50,524.02h-2.0M210.09,549.50v2.0M184.50,522.27h-2.0M211.84,549.50v2.0M184.50,520.73h-2.0M213.39,549.50v2.0M184.50,519.35h-3.4M214.78,549.50v3.4M184.50,510.27h-2.0M223.89,549.50v2.0M184.50,504.96h-2.0M229.22,549.50v2.0M184.50,501.20h-2.0M233.00,549.50v2.0M184.50,498.28h-2.0M235.94,549.50v2.0M184.50,495.89h-2.0M238.33,549.50v2.0M184.50,493.87h-2.0M240.36,549.50v2.0M184.50,492.12h-2.0M242.12,549.50v2.0M184.50,490.58h-2.0M243.66,549.50v2.0M184.50,489.20h-3.4M245.05,549.50v3.4M184.50,480.12h-2.0M254.16,549.50v2.0M184.50,474.81h-2.0M259.49,549.50v2.0M184.50,471.05h-2.0M263.28,549.50v2.0M184.50,468.13h-2.0M266.21,549.50v2.0M184.50,465.74h-2.0M268.61,549.50v2.0M184.50,463.72h-2.0M270.64,549.50v2.0M184.50,461.97h-2.0M272.39,549.50v2.0M184.50,460.43h-2.0M273.94,549.50v2.0M184.50,459.05h-3.4M275.33,549.50v3.4M184.50,449.97h-2.0M284.44,549.50v2.0M184.50,444.66h-2.0M289.77,549.50v2.0M184.50,440.90h-2.0M293.55,549.50v2.0M184.50,437.98h-2.0M296.49,549.50v2.0M184.50,435.59h-2.0M298.88,549.50v2.0M184.50,433.57h-2.0M300.91,549.50v2.0M184.50,431.82h-2.0M302.67,549.50v2.0M184.50,430.28h-2.0M304.21,549.50v2.0M184.50,428.90h-3.4M305.60,549.50v3.4" fill="none" stroke="#000" stroke-width="1.1"/>
</g>
<g id="charts">
<text x="-1.00" y="17.00" font-size="24" text-anchor="start" font-weight="bold" font-style="normal" style="stroke-width:0.9px">A</text>
<text x="312.70" y="16.50" font-size="24" text-anchor="start" font-weight="bold" font-style="normal" style="stroke-width:0.9px">B</text>
<text x="-0.30" y="253.00" font-size="24" text-anchor="start" font-weight="bold" font-style="normal" style="stroke-width:0.9px">C</text>
<text x="312.30" y="252.80" font-size="24" text-anchor="start" font-weight="bold" font-style="normal" style="stroke-width:0.9px">D</text>
<text x="313.20" y="417.00" font-size="24" text-anchor="start" font-weight="bold" font-style="normal" style="stroke-width:0.9px">E</text>
<line x1="47.20" y1="22.25" x2="47.20" y2="200.35" stroke="#000" stroke-width="1.6" stroke-linecap="butt"/>
<line x1="46.40" y1="199.60" x2="283.00" y2="199.60" stroke="#000" stroke-width="1.6" stroke-linecap="butt"/>
<line x1="42.70" y1="199.60" x2="47.20" y2="199.60" stroke="#000" stroke-width="1.5" stroke-linecap="butt"/>
<text x="42.60" y="203.90" font-size="12" text-anchor="end" font-weight="normal" font-style="normal">0</text>
<line x1="42.70" y1="164.28" x2="47.20" y2="164.28" stroke="#000" stroke-width="1.5" stroke-linecap="butt"/>
<text x="42.60" y="168.58" font-size="12" text-anchor="end" font-weight="normal" font-style="normal">5</text>
<line x1="42.70" y1="128.96" x2="47.20" y2="128.96" stroke="#000" stroke-width="1.5" stroke-linecap="butt"/>
<text x="42.60" y="133.26" font-size="12" text-anchor="end" font-weight="normal" font-style="normal">10</text>
<line x1="42.70" y1="93.64" x2="47.20" y2="93.64" stroke="#000" stroke-width="1.5" stroke-linecap="butt"/>
<text x="42.60" y="97.94" font-size="12" text-anchor="end" font-weight="normal" font-style="normal">15</text>
<line x1="42.70" y1="58.32" x2="47.20" y2="58.32" stroke="#000" stroke-width="1.5" stroke-linecap="butt"/>
<text x="42.60" y="62.62" font-size="12" text-anchor="end" font-weight="normal" font-style="normal">20</text>
<line x1="42.70" y1="23.00" x2="47.20" y2="23.00" stroke="#000" stroke-width="1.5" stroke-linecap="butt"/>
<text x="42.60" y="27.30" font-size="12" text-anchor="end" font-weight="normal" font-style="normal">25</text>
<line x1="72.25" y1="120.50" x2="72.25" y2="132.00" stroke="#000" stroke-width="1.5" stroke-linecap="butt"/>
<line x1="67.00" y1="120.50" x2="77.50" y2="120.50" stroke="#000" stroke-width="1.5" stroke-linecap="butt"/>
<rect x="62.00" y="131.00" width="20.50" height="68.60" fill="#000"/>
<line x1="100.88" y1="124.50" x2="100.88" y2="133.00" stroke="#000" stroke-width="1.5" stroke-linecap="butt"/>
<line x1="95.62" y1="124.50" x2="106.12" y2="124.50" stroke="#000" stroke-width="1.5" stroke-linecap="butt"/>
<rect x="91.25" y="132.75" width="19.25" height="66.10" fill="#fff" stroke="#000" stroke-width="1.5"/>
<line x1="150.00" y1="39.25" x2="150.00" y2="63.00" stroke="#000" stroke-width="1.5" stroke-linecap="butt"/>
<line x1="144.50" y1="39.25" x2="155.50" y2="39.25" stroke="#000" stroke-width="1.5" stroke-linecap="butt"/>
<rect x="139.50" y="62.00" width="21.00" height="137.60" fill="#000"/>
<line x1="179.25" y1="108.75" x2="179.25" y2="127.25" stroke="#000" stroke-width="1.5" stroke-linecap="butt"/>
<line x1="173.88" y1="108.75" x2="184.62" y2="108.75" stroke="#000" stroke-width="1.5" stroke-linecap="butt"/>
<rect x="169.75" y="127.00" width="19.00" height="71.85" fill="#fff" stroke="#000" stroke-width="1.5"/>
<line x1="227.50" y1="124.25" x2="227.50" y2="140.50" stroke="#000" stroke-width="1.5" stroke-linecap="butt"/>
<line x1="222.00" y1="124.25" x2="233.00" y2="124.25" stroke="#000" stroke-width="1.5" stroke-linecap="butt"/>
<rect x="217.00" y="139.50" width="21.00" height="60.10" fill="#000"/>
<line x1="256.75" y1="164.00" x2="256.75" y2="174.00" stroke="#000" stroke-width="1.5" stroke-linecap="butt"/>
<line x1="251.25" y1="164.00" x2="262.25" y2="164.00" stroke="#000" stroke-width="1.5" stroke-linecap="butt"/>
<rect x="247.25" y="173.75" width="19.00" height="25.10" fill="#fff" stroke="#000" stroke-width="1.5"/>
<polyline points="150.50,20.50 150.50,15.50 179.25,15.50 179.25,87.50" fill="none" stroke="#000" stroke-width="1.5" stroke-linejoin="miter"/>
<polyline points="228.00,113.00 228.00,107.50 257.00,107.50 257.00,139.50" fill="none" stroke="#000" stroke-width="1.5" stroke-linejoin="miter"/>
<text x="166.25" y="15.81" font-size="14" text-anchor="middle" font-weight="bold" font-style="normal" style="stroke-width:0.2px">***</text>
<text x="241.60" y="108.51" font-size="14" text-anchor="middle" font-weight="bold" font-style="normal" style="stroke-width:0.2px">**</text>
<text x="87.75" y="214.00" font-size="12" text-anchor="middle" font-weight="normal" font-style="normal" textLength="30.50" lengthAdjust="spacingAndGlyphs">Pro-B</text>
<text x="164.25" y="214.30" font-size="12" text-anchor="middle" font-weight="normal" font-style="normal" textLength="64.50" lengthAdjust="spacingAndGlyphs">Small pre-B</text>
<text x="250.00" y="214.30" font-size="12" text-anchor="middle" font-weight="normal" font-style="normal" textLength="64.00" lengthAdjust="spacingAndGlyphs">Immature B</text>
<text x="20.30" y="106.80" transform="rotate(-90 20.30 106.80)" font-size="12" text-anchor="middle" font-weight="normal" font-style="normal" textLength="99.50" lengthAdjust="spacingAndGlyphs">Percentage in BM</text>
<line x1="350.80" y1="23.45" x2="350.80" y2="201.35" stroke="#000" stroke-width="1.6" stroke-linecap="butt"/>
<line x1="350.00" y1="200.60" x2="410.50" y2="200.60" stroke="#000" stroke-width="1.6" stroke-linecap="butt"/>
<line x1="345.80" y1="200.60" x2="350.80" y2="200.60" stroke="#000" stroke-width="1.5" stroke-linecap="butt"/>
<text x="345.60" y="204.90" font-size="12" text-anchor="end" font-weight="normal" font-style="normal">0</text>
<line x1="345.80" y1="141.80" x2="350.80" y2="141.80" stroke="#000" stroke-width="1.5" stroke-linecap="butt"/>
<text x="345.60" y="146.10" font-size="12" text-anchor="end" font-weight="normal" font-style="normal">20</text>
<line x1="345.80" y1="83.00" x2="350.80" y2="83.00" stroke="#000" stroke-width="1.5" stroke-linecap="butt"/>
<text x="345.60" y="87.30" font-size="12" text-anchor="end" font-weight="normal" font-style="normal">40</text>
<line x1="345.80" y1="24.20" x2="350.80" y2="24.20" stroke="#000" stroke-width="1.5" stroke-linecap="butt"/>
<text x="345.60" y="28.50" font-size="12" text-anchor="end" font-weight="normal" font-style="normal">60</text>
<line x1="365.50" y1="35.00" x2="365.50" y2="61.50" stroke="#000" stroke-width="1.5" stroke-linecap="butt"/>
<line x1="360.12" y1="35.00" x2="370.88" y2="35.00" stroke="#000" stroke-width="1.5" stroke-linecap="butt"/>
<rect x="355.00" y="60.50" width="21.00" height="140.10" fill="#000"/>
<line x1="395.00" y1="85.50" x2="395.00" y2="111.00" stroke="#000" stroke-width="1.5" stroke-linecap="butt"/>
<line x1="389.62" y1="85.50" x2="400.38" y2="85.50" stroke="#000" stroke-width="1.5" stroke-linecap="butt"/>
<rect x="385.25" y="110.75" width="19.50" height="89.10" fill="#fff" stroke="#000" stroke-width="1.5"/>
<polyline points="366.50,22.50 366.50,18.00 395.00,18.00 395.00,68.00" fill="none" stroke="#000" stroke-width="1.5" stroke-linejoin="miter"/>
<text x="380.20" y="17.81" font-size="14" text-anchor="middle" font-weight="bold" font-style="normal" style="stroke-width:0.2px">**</text>
<text x="382.10" y="215.60" font-size="12" text-anchor="middle" font-weight="normal" font-style="normal" textLength="51.75" lengthAdjust="spacingAndGlyphs">Splenic B</text>
<text x="323.80" y="107.00" transform="rotate(-90 323.80 107.00)" font-size="12" text-anchor="middle" font-weight="normal" font-style="normal" textLength="161.00" lengthAdjust="spacingAndGlyphs">Percentage B220+ in Spleen</text>
<rect x="407.50" y="5.00" width="18.75" height="9.50" fill="#000"/>
<rect x="408.15" y="18.65" width="17.45" height="8.20" fill="#fff" stroke="#000" stroke-width="1.3"/>
<text x="432" y="13.5" font-size="11.2" font-style="italic" style="stroke-width:0.55px">Men1<tspan dy="-4.7" font-size="10" dx="0.6" letter-spacing="-0.7">f/f</tspan></text>
<text x="432" y="27" font-size="11.2" font-style="italic" style="stroke-width:0.55px">Rag1-cre;Men1<tspan dy="-4.7" font-size="10" dx="0.6" letter-spacing="-0.7">f/f</tspan></text>
<line x1="385.20" y1="263.25" x2="385.20" y2="376.55" stroke="#000" stroke-width="1.6" stroke-linecap="butt"/>
<line x1="384.40" y1="375.80" x2="450.00" y2="375.80" stroke="#000" stroke-width="1.6" stroke-linecap="butt"/>
<line x1="380.20" y1="375.80" x2="385.20" y2="375.80" stroke="#000" stroke-width="1.5" stroke-linecap="butt"/>
<text x="379.80" y="380.10" font-size="12" text-anchor="end" font-weight="normal" font-style="normal">0</text>
<line x1="380.20" y1="347.85" x2="385.20" y2="347.85" stroke="#000" stroke-width="1.5" stroke-linecap="butt"/>
<text x="379.80" y="352.15" font-size="12" text-anchor="end" font-weight="normal" font-style="normal">0.5</text>
<line x1="380.20" y1="319.90" x2="385.20" y2="319.90" stroke="#000" stroke-width="1.5" stroke-linecap="butt"/>
<text x="379.80" y="324.20" font-size="12" text-anchor="end" font-weight="normal" font-style="normal">1.0</text>
<line x1="380.20" y1="291.95" x2="385.20" y2="291.95" stroke="#000" stroke-width="1.5" stroke-linecap="butt"/>
<text x="379.80" y="296.25" font-size="12" text-anchor="end" font-weight="normal" font-style="normal">1.5</text>
<line x1="380.20" y1="264.00" x2="385.20" y2="264.00" stroke="#000" stroke-width="1.5" stroke-linecap="butt"/>
<text x="379.80" y="268.30" font-size="12" text-anchor="end" font-weight="normal" font-style="normal">2.0</text>
<line x1="400.75" y1="349.50" x2="400.75" y2="353.00" stroke="#000" stroke-width="1.5" stroke-linecap="butt"/>
<line x1="395.12" y1="349.50" x2="406.38" y2="349.50" stroke="#000" stroke-width="1.5" stroke-linecap="butt"/>
<rect x="389.50" y="352.00" width="22.50" height="23.80" fill="#000"/>
<line x1="432.62" y1="282.00" x2="432.62" y2="305.30" stroke="#000" stroke-width="1.5" stroke-linecap="butt"/>
<line x1="426.75" y1="282.00" x2="438.50" y2="282.00" stroke="#000" stroke-width="1.5" stroke-linecap="butt"/>
<rect x="422.00" y="305.05" width="21.25" height="70.00" fill="#fff" stroke="#000" stroke-width="1.5"/>
<polyline points="397.50,335.80 397.50,270.00 433.00,270.00 433.00,276.50" fill="none" stroke="#000" stroke-width="1.5" stroke-linejoin="miter"/>
<text x="414.40" y="269.31" font-size="14" text-anchor="middle" font-weight="bold" font-style="normal" style="stroke-width:0.2px">***</text>
<text x="357.80" y="319.30" transform="rotate(-90 357.80 319.30)" font-size="12" text-anchor="middle" font-weight="normal" font-style="normal" textLength="116.50" lengthAdjust="spacingAndGlyphs">Fraction C to C' Ratio</text>
<line x1="385.50" y1="421.69" x2="385.50" y2="544.15" stroke="#000" stroke-width="1.6" stroke-linecap="butt"/>
<line x1="384.70" y1="543.40" x2="474.00" y2="543.40" stroke="#000" stroke-width="1.6" stroke-linecap="butt"/>
<line x1="380.50" y1="543.40" x2="385.50" y2="543.40" stroke="#000" stroke-width="1.5" stroke-linecap="butt"/>
<text x="379.90" y="547.70" font-size="12" text-anchor="end" font-weight="normal" font-style="normal">0</text>
<line x1="380.50" y1="503.08" x2="385.50" y2="503.08" stroke="#000" stroke-width="1.5" stroke-linecap="butt"/>
<text x="379.90" y="507.38" font-size="12" text-anchor="end" font-weight="normal" font-style="normal">0.4</text>
<line x1="380.50" y1="462.76" x2="385.50" y2="462.76" stroke="#000" stroke-width="1.5" stroke-linecap="butt"/>
<text x="379.90" y="467.06" font-size="12" text-anchor="end" font-weight="normal" font-style="normal">0.8</text>
<line x1="380.50" y1="422.44" x2="385.50" y2="422.44" stroke="#000" stroke-width="1.5" stroke-linecap="butt"/>
<text x="379.90" y="426.74" font-size="12" text-anchor="end" font-weight="normal" font-style="normal">1.2</text>
<line x1="398.85" y1="427.50" x2="398.85" y2="463.00" stroke="#000" stroke-width="1.5" stroke-linecap="butt"/>
<line x1="395.35" y1="427.50" x2="402.35" y2="427.50" stroke="#000" stroke-width="1.5" stroke-linecap="butt"/>
<rect x="392.70" y="462.00" width="12.30" height="81.40" fill="#000"/>
<line x1="415.38" y1="518.75" x2="415.38" y2="522.25" stroke="#000" stroke-width="1.5" stroke-linecap="butt"/>
<line x1="412.00" y1="518.75" x2="418.75" y2="518.75" stroke="#000" stroke-width="1.5" stroke-linecap="butt"/>
<rect x="410.25" y="522.00" width="10.25" height="20.65" fill="#fff" stroke="#000" stroke-width="1.5"/>
<line x1="443.25" y1="426.75" x2="443.25" y2="451.75" stroke="#000" stroke-width="1.5" stroke-linecap="butt"/>
<line x1="439.75" y1="426.75" x2="446.75" y2="426.75" stroke="#000" stroke-width="1.5" stroke-linecap="butt"/>
<rect x="437.00" y="450.75" width="12.50" height="92.65" fill="#000"/>
<line x1="460.12" y1="497.00" x2="460.12" y2="514.50" stroke="#000" stroke-width="1.5" stroke-linecap="butt"/>
<line x1="456.62" y1="497.00" x2="463.62" y2="497.00" stroke="#000" stroke-width="1.5" stroke-linecap="butt"/>
<rect x="455.25" y="514.25" width="9.75" height="28.40" fill="#fff" stroke="#000" stroke-width="1.5"/>
<polyline points="398.75,420.50 398.75,415.50 415.50,415.50 415.50,471.20" fill="none" stroke="#000" stroke-width="1.5" stroke-linejoin="miter"/>
<polyline points="443.25,420.50 443.25,415.50 460.00,415.50 460.00,471.20" fill="none" stroke="#000" stroke-width="1.5" stroke-linejoin="miter"/>
<text x="407.60" y="414.91" font-size="14" text-anchor="middle" font-weight="bold" font-style="normal" style="stroke-width:0.2px">**</text>
<text x="452.00" y="414.91" font-size="14" text-anchor="middle" font-weight="bold" font-style="normal" style="stroke-width:0.2px">***</text>
<text x="411.00" y="557.80" font-size="12" text-anchor="middle" font-weight="normal" font-style="italic" textLength="35.50" lengthAdjust="spacingAndGlyphs">Hoxa9</text>
<text x="455.30" y="557.80" font-size="12" text-anchor="middle" font-weight="normal" font-style="italic" textLength="33.50" lengthAdjust="spacingAndGlyphs">Meis1</text>
<text x="357.30" y="482.20" transform="rotate(-90 357.30 482.20)" font-size="12" text-anchor="middle" font-weight="normal" font-style="normal" textLength="106.20" lengthAdjust="spacingAndGlyphs">Relative Expression</text>
<text x="25" y="255.8" font-size="11.2" font-style="italic" style="stroke-width:0.7px">Men1<tspan dy="-2.6" font-size="11" dx="1.6" letter-spacing="0.6">f/f</tspan></text>
<text x="39.40" y="279.50" font-size="10.2" text-anchor="start" font-weight="normal" font-style="normal" textLength="65.30" lengthAdjust="spacingAndGlyphs" style="stroke-width:0.95px">B220+/CD43+</text>
<text x="91.30" y="295.60" font-size="8" text-anchor="start" font-weight="bold" font-style="normal" textLength="15.00" lengthAdjust="spacingAndGlyphs" style="stroke-width:0.45px">13.8</text>
<rect x="92.15" y="298.45" width="33.70" height="45.40" fill="none" stroke="#000" stroke-width="2.3"/>
<polyline points="116.30,298.00 116.30,267.60 177.00,267.60" fill="none" stroke="#000" stroke-width="2.5" stroke-linejoin="miter"/>
<polygon points="182.80,267.60 175.20,271.10 176.57,267.60 175.20,264.10" fill="#000"/>
<polyline points="16.30,332.50 16.30,388.40 73.00,388.40" fill="none" stroke="#000" stroke-width="2.4" stroke-linejoin="miter"/>
<polygon points="16.30,322.50 21.80,337.50 16.30,335.70 10.80,337.50" fill="#000"/>
<polygon points="85.00,388.40 68.50,393.80 70.48,388.40 68.50,383.00" fill="#000"/>
<text x="11.30" y="377.60" transform="rotate(-90 11.30 377.60)" font-size="11" text-anchor="start" font-weight="normal" font-style="normal" textLength="28.80" lengthAdjust="spacingAndGlyphs" style="stroke-width:0.7px">B220</text>
<text x="17.50" y="400.80" font-size="11" text-anchor="start" font-weight="normal" font-style="normal" textLength="30.00" lengthAdjust="spacingAndGlyphs" style="stroke-width:0.7px">CD43</text>
<text x="252.50" y="270.50" font-size="10.2" text-anchor="start" font-weight="normal" font-style="normal" textLength="51.30" lengthAdjust="spacingAndGlyphs" style="stroke-width:0.95px">Fraction C'</text>
<text x="190.20" y="293.30" font-size="10.2" text-anchor="start" font-weight="normal" font-style="normal" textLength="47.30" lengthAdjust="spacingAndGlyphs" style="stroke-width:0.95px">Fraction C</text>
<text x="251.30" y="284.60" font-size="8" text-anchor="start" font-weight="bold" font-style="normal" textLength="11.20" lengthAdjust="spacingAndGlyphs" style="stroke-width:0.45px">4.7</text>
<text x="270.50" y="284.60" font-size="8" text-anchor="start" font-weight="bold" font-style="normal" textLength="14.50" lengthAdjust="spacingAndGlyphs" style="stroke-width:0.45px">10.6</text>
<rect x="252.15" y="287.95" width="16.40" height="49.10" fill="none" stroke="#000" stroke-width="2.3"/>
<rect x="268.85" y="287.95" width="17.00" height="49.10" fill="none" stroke="#000" stroke-width="2.3"/>
<line x1="227.50" y1="296.30" x2="247.00" y2="296.30" stroke="#000" stroke-width="1.4" stroke-linecap="butt"/>
<polygon points="251.50,296.30 246.00,298.70 246.99,296.30 246.00,293.90" fill="#000"/>
<line x1="299.50" y1="273.80" x2="289.50" y2="292.50" stroke="#000" stroke-width="1.4" stroke-linecap="butt"/>
<polygon points="287.30,296.60 288.04,290.18 289.64,292.27 292.26,292.46" fill="#000"/>
<polyline points="175.50,327.50 175.50,386.60 233.00,386.60" fill="none" stroke="#000" stroke-width="2.4" stroke-linejoin="miter"/>
<polygon points="175.50,317.50 181.00,332.50 175.50,330.70 170.00,332.50" fill="#000"/>
<polygon points="245.00,386.60 228.50,392.00 230.48,386.60 228.50,381.20" fill="#000"/>
<text x="171.30" y="376.30" transform="rotate(-90 171.30 376.30)" font-size="11" text-anchor="start" font-weight="normal" font-style="normal" textLength="26.30" lengthAdjust="spacingAndGlyphs" style="stroke-width:0.7px">BP-1</text>
<text x="183.00" y="398.00" font-size="11" text-anchor="start" font-weight="normal" font-style="normal" textLength="25.00" lengthAdjust="spacingAndGlyphs" style="stroke-width:0.7px">HSA</text>
<text x="22" y="422.5" font-size="11.2" font-style="italic" style="stroke-width:0.7px">Rag1-cre;Men1<tspan dy="-2.6" font-size="11" dx="1.0" letter-spacing="0.6">f/f</tspan></text>
<text x="39.20" y="451.30" font-size="10.2" text-anchor="start" font-weight="normal" font-style="normal" textLength="64.50" lengthAdjust="spacingAndGlyphs" style="stroke-width:0.95px">B220+/CD43+</text>
<text x="89.60" y="467.00" font-size="8" text-anchor="start" font-weight="bold" font-style="normal" textLength="15.40" lengthAdjust="spacingAndGlyphs" style="stroke-width:0.45px">20.5</text>
<rect x="90.45" y="468.45" width="33.70" height="45.80" fill="none" stroke="#000" stroke-width="2.3"/>
<polyline points="116.30,468.00 116.30,437.60 177.00,437.60" fill="none" stroke="#000" stroke-width="2.5" stroke-linejoin="miter"/>
<polygon points="182.80,437.60 175.20,441.10 176.57,437.60 175.20,434.10" fill="#000"/>
<polyline points="16.30,502.00 16.30,557.30 72.00,557.30" fill="none" stroke="#000" stroke-width="2.4" stroke-linejoin="miter"/>
<polygon points="16.30,492.00 21.80,507.00 16.30,505.20 10.80,507.00" fill="#000"/>
<polygon points="84.00,557.30 67.50,562.70 69.48,557.30 67.50,551.90" fill="#000"/>
<text x="11.30" y="546.30" transform="rotate(-90 11.30 546.30)" font-size="11" text-anchor="start" font-weight="normal" font-style="normal" textLength="28.80" lengthAdjust="spacingAndGlyphs" style="stroke-width:0.7px">B220</text>
<text x="17.50" y="570.00" font-size="11" text-anchor="start" font-weight="normal" font-style="normal" textLength="30.00" lengthAdjust="spacingAndGlyphs" style="stroke-width:0.7px">CD43</text>
<text x="248.80" y="440.50" font-size="10.2" text-anchor="start" font-weight="normal" font-style="normal" textLength="51.30" lengthAdjust="spacingAndGlyphs" style="stroke-width:0.95px">Fraction C'</text>
<text x="188.00" y="462.50" font-size="10.2" text-anchor="start" font-weight="normal" font-style="normal" textLength="48.30" lengthAdjust="spacingAndGlyphs" style="stroke-width:0.95px">Fraction C</text>
<text x="253.00" y="453.80" font-size="8" text-anchor="start" font-weight="bold" font-style="normal" textLength="10.80" lengthAdjust="spacingAndGlyphs" style="stroke-width:0.45px">6.9</text>
<text x="272.00" y="453.80" font-size="8" text-anchor="start" font-weight="bold" font-style="normal" textLength="10.60" lengthAdjust="spacingAndGlyphs" style="stroke-width:0.45px">5.7</text>
<rect x="252.15" y="457.45" width="15.40" height="49.20" fill="none" stroke="#000" stroke-width="2.3"/>
<rect x="267.85" y="457.45" width="17.00" height="49.20" fill="none" stroke="#000" stroke-width="2.3"/>
<line x1="225.00" y1="465.50" x2="246.50" y2="465.50" stroke="#000" stroke-width="1.4" stroke-linecap="butt"/>
<polygon points="251.00,465.50 245.50,467.90 246.49,465.50 245.50,463.10" fill="#000"/>
<line x1="299.50" y1="442.50" x2="289.00" y2="461.50" stroke="#000" stroke-width="1.4" stroke-linecap="butt"/>
<polygon points="286.80,465.60 287.60,459.19 289.18,461.29 291.80,461.51" fill="#000"/>
<polyline points="175.50,497.50 175.50,556.50 233.00,556.50" fill="none" stroke="#000" stroke-width="2.4" stroke-linejoin="miter"/>
<polygon points="175.50,487.50 181.00,502.50 175.50,500.70 170.00,502.50" fill="#000"/>
<polygon points="245.00,556.50 228.50,561.90 230.48,556.50 228.50,551.10" fill="#000"/>
<text x="171.30" y="546.00" transform="rotate(-90 171.30 546.00)" font-size="11" text-anchor="start" font-weight="normal" font-style="normal" textLength="26.30" lengthAdjust="spacingAndGlyphs" style="stroke-width:0.7px">BP-1</text>
<text x="183.00" y="568.00" font-size="11" text-anchor="start" font-weight="normal" font-style="normal" textLength="25.00" lengthAdjust="spacingAndGlyphs" style="stroke-width:0.7px">HSA</text>
</g>
</svg>
</body></html>
